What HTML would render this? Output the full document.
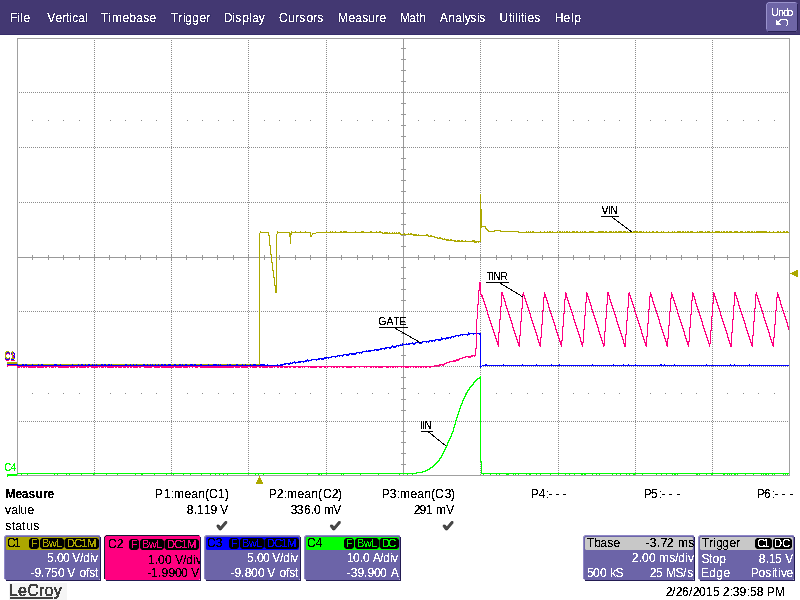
<!DOCTYPE html>
<html><head><meta charset="utf-8"><title>LeCroy</title>
<style>
html,body{margin:0;padding:0;background:#fff;}
body{width:800px;height:600px;overflow:hidden;position:relative;}
svg text{white-space:pre;font-kerning:none;}
</style></head><body>
<svg width="800" height="600" viewBox="0 0 800 600" style="position:absolute;left:0;top:0" font-family="'Liberation Sans', Arial, sans-serif"><rect x="0" y="0" width="800" height="600" fill="#ffffff"/><defs><filter id="k" x="-20%" y="-40%" width="140%" height="180%"><feComponentTransfer><feFuncA type="discrete" tableValues="0 0 1 1 1"/></feComponentTransfer></filter></defs><rect x="0" y="0" width="800" height="34" fill="#433872"/><rect x="0" y="34" width="800" height="1" fill="#362d6a"/><text x="10.000 17.125 20.125 23.375" y="22" font-size="12" fill="#2e2660" stroke="#2e2660" stroke-width="1.2" opacity="0.55" filter="url(#k)">File</text><text x="10.000 17.125 20.125 23.375" y="22" font-size="12" fill="#ffffff" filter="url(#k)">File</text><text x="47.125 55.375 62.125 66.000 69.125 72.125 78.125 85.125" y="22" font-size="12" fill="#2e2660" stroke="#2e2660" stroke-width="1.2" opacity="0.55" filter="url(#k)">Vertical</text><text x="47.125 55.375 62.125 66.000 69.125 72.125 78.125 85.125" y="22" font-size="12" fill="#ffffff" filter="url(#k)">Vertical</text><text x="100.625 108.125 112.000 122.375 129.125 136.125 143.125 149.375" y="22" font-size="12" fill="#2e2660" stroke="#2e2660" stroke-width="1.2" opacity="0.55" filter="url(#k)">Timebase</text><text x="100.625 108.125 112.000 122.375 129.125 136.125 143.125 149.375" y="22" font-size="12" fill="#ffffff" filter="url(#k)">Timebase</text><text x="170.625 178.125 183.125 185.125 192.125 199.375 206.125" y="22" font-size="12" fill="#2e2660" stroke="#2e2660" stroke-width="1.2" opacity="0.55" filter="url(#k)">Trigger</text><text x="170.625 178.125 183.125 185.125 192.125 199.375 206.125" y="22" font-size="12" fill="#ffffff" filter="url(#k)">Trigger</text><text x="224.000 232.125 235.125 242.125 249.125 252.125 258.625" y="22" font-size="12" fill="#2e2660" stroke="#2e2660" stroke-width="1.2" opacity="0.55" filter="url(#k)">Display</text><text x="224.000 232.125 235.125 242.125 249.125 252.125 258.625" y="22" font-size="12" fill="#ffffff" filter="url(#k)">Display</text><text x="279.000 288.125 295.125 299.125 306.375 313.125 317.125" y="22" font-size="12" fill="#2e2660" stroke="#2e2660" stroke-width="1.2" opacity="0.55" filter="url(#k)">Cursors</text><text x="279.000 288.125 295.125 299.125 306.375 313.125 317.125" y="22" font-size="12" fill="#ffffff" filter="url(#k)">Cursors</text><text x="338.000 348.375 355.125 362.125 368.125 375.125 379.375" y="22" font-size="12" fill="#2e2660" stroke="#2e2660" stroke-width="1.2" opacity="0.55" filter="url(#k)">Measure</text><text x="338.000 348.375 355.125 362.125 368.125 375.125 379.375" y="22" font-size="12" fill="#ffffff" filter="url(#k)">Measure</text><text x="400.000 409.125 416.000 419.125" y="22" font-size="12" fill="#2e2660" stroke="#2e2660" stroke-width="1.2" opacity="0.55" filter="url(#k)">Math</text><text x="400.000 409.125 416.000 419.125" y="22" font-size="12" fill="#ffffff" filter="url(#k)">Math</text><text x="439.625 448.125 455.125 462.125 464.625 470.125 477.125 479.125" y="22" font-size="12" fill="#2e2660" stroke="#2e2660" stroke-width="1.2" opacity="0.55" filter="url(#k)">Analysis</text><text x="439.625 448.125 455.125 462.125 464.625 470.125 477.125 479.125" y="22" font-size="12" fill="#ffffff" filter="url(#k)">Analysis</text><text x="499.375 509.000 512.125 515.125 518.125 521.000 524.125 527.375 534.125" y="22" font-size="12" fill="#2e2660" stroke="#2e2660" stroke-width="1.2" opacity="0.55" filter="url(#k)">Utilities</text><text x="499.375 509.000 512.125 515.125 518.125 521.000 524.125 527.375 534.125" y="22" font-size="12" fill="#ffffff" filter="url(#k)">Utilities</text><text x="555.000 563.375 571.125 574.125" y="22" font-size="12" fill="#2e2660" stroke="#2e2660" stroke-width="1.2" opacity="0.55" filter="url(#k)">Help</text><text x="555.000 563.375 571.125 574.125" y="22" font-size="12" fill="#ffffff" filter="url(#k)">Help</text><path d="M768 2h28l2 2v26l-2 2h-28l-2 -2v-26z" fill="#6e65a6"/><path d="M766.5 29V4.5l2 -2h27" fill="none" stroke="#9a93cc" stroke-width="1"/><path d="M768 31.5h28l1.5 -1.5V4" fill="none" stroke="#2a2356" stroke-width="1"/><text x="771.375 778.125 783.125 787.375" y="16" font-size="10" fill="#ffffff" filter="url(#k)">Undo</text><g filter="url(#k)"><path d="M778.3 22.7 L781.2 19.6 H785.6 Q787.6 19.6 787.6 21.8 V23.6 Q787.6 24.8 786.2 26.2" fill="none" stroke="#ffffff" stroke-width="1.15"/><path d="M775.9 19.6 L775.9 25 L781.2 25 Z" fill="#ffffff"/></g><path d="M94 40h1v1h-1zM94 42h1v1h-1zM94 44h1v1h-1zM94 46h1v1h-1zM94 48h1v1h-1zM94 50h1v1h-1zM94 52h1v1h-1zM94 54h1v1h-1zM94 56h1v1h-1zM94 58h1v1h-1zM94 60h1v1h-1zM94 62h1v1h-1zM94 64h1v1h-1zM94 66h1v1h-1zM94 68h1v1h-1zM94 70h1v1h-1zM94 72h1v1h-1zM94 74h1v1h-1zM94 76h1v1h-1zM94 78h1v1h-1zM94 80h1v1h-1zM94 82h1v1h-1zM94 84h1v1h-1zM94 86h1v1h-1zM94 88h1v1h-1zM94 90h1v1h-1zM94 92h1v1h-1zM94 94h1v1h-1zM94 96h1v1h-1zM94 98h1v1h-1zM94 100h1v1h-1zM94 102h1v1h-1zM94 104h1v1h-1zM94 106h1v1h-1zM94 108h1v1h-1zM94 110h1v1h-1zM94 112h1v1h-1zM94 114h1v1h-1zM94 116h1v1h-1zM94 118h1v1h-1zM94 120h1v1h-1zM94 122h1v1h-1zM94 124h1v1h-1zM94 126h1v1h-1zM94 128h1v1h-1zM94 130h1v1h-1zM94 132h1v1h-1zM94 134h1v1h-1zM94 136h1v1h-1zM94 138h1v1h-1zM94 140h1v1h-1zM94 142h1v1h-1zM94 144h1v1h-1zM94 146h1v1h-1zM94 148h1v1h-1zM94 150h1v1h-1zM94 152h1v1h-1zM94 154h1v1h-1zM94 156h1v1h-1zM94 158h1v1h-1zM94 160h1v1h-1zM94 162h1v1h-1zM94 164h1v1h-1zM94 166h1v1h-1zM94 168h1v1h-1zM94 170h1v1h-1zM94 172h1v1h-1zM94 174h1v1h-1zM94 176h1v1h-1zM94 178h1v1h-1zM94 180h1v1h-1zM94 182h1v1h-1zM94 184h1v1h-1zM94 186h1v1h-1zM94 188h1v1h-1zM94 190h1v1h-1zM94 192h1v1h-1zM94 194h1v1h-1zM94 196h1v1h-1zM94 198h1v1h-1zM94 200h1v1h-1zM94 202h1v1h-1zM94 204h1v1h-1zM94 206h1v1h-1zM94 208h1v1h-1zM94 210h1v1h-1zM94 212h1v1h-1zM94 214h1v1h-1zM94 216h1v1h-1zM94 218h1v1h-1zM94 220h1v1h-1zM94 222h1v1h-1zM94 224h1v1h-1zM94 226h1v1h-1zM94 228h1v1h-1zM94 230h1v1h-1zM94 232h1v1h-1zM94 234h1v1h-1zM94 236h1v1h-1zM94 238h1v1h-1zM94 240h1v1h-1zM94 242h1v1h-1zM94 244h1v1h-1zM94 246h1v1h-1zM94 248h1v1h-1zM94 250h1v1h-1zM94 252h1v1h-1zM94 254h1v1h-1zM94 256h1v1h-1zM94 258h1v1h-1zM94 260h1v1h-1zM94 262h1v1h-1zM94 264h1v1h-1zM94 266h1v1h-1zM94 268h1v1h-1zM94 270h1v1h-1zM94 272h1v1h-1zM94 274h1v1h-1zM94 276h1v1h-1zM94 278h1v1h-1zM94 280h1v1h-1zM94 282h1v1h-1zM94 284h1v1h-1zM94 286h1v1h-1zM94 288h1v1h-1zM94 290h1v1h-1zM94 292h1v1h-1zM94 294h1v1h-1zM94 296h1v1h-1zM94 298h1v1h-1zM94 300h1v1h-1zM94 302h1v1h-1zM94 304h1v1h-1zM94 306h1v1h-1zM94 308h1v1h-1zM94 310h1v1h-1zM94 312h1v1h-1zM94 314h1v1h-1zM94 316h1v1h-1zM94 318h1v1h-1zM94 320h1v1h-1zM94 322h1v1h-1zM94 324h1v1h-1zM94 326h1v1h-1zM94 328h1v1h-1zM94 330h1v1h-1zM94 332h1v1h-1zM94 334h1v1h-1zM94 336h1v1h-1zM94 338h1v1h-1zM94 340h1v1h-1zM94 342h1v1h-1zM94 344h1v1h-1zM94 346h1v1h-1zM94 348h1v1h-1zM94 350h1v1h-1zM94 352h1v1h-1zM94 354h1v1h-1zM94 356h1v1h-1zM94 358h1v1h-1zM94 360h1v1h-1zM94 362h1v1h-1zM94 364h1v1h-1zM94 366h1v1h-1zM94 368h1v1h-1zM94 370h1v1h-1zM94 372h1v1h-1zM94 374h1v1h-1zM94 376h1v1h-1zM94 378h1v1h-1zM94 380h1v1h-1zM94 382h1v1h-1zM94 384h1v1h-1zM94 386h1v1h-1zM94 388h1v1h-1zM94 390h1v1h-1zM94 392h1v1h-1zM94 394h1v1h-1zM94 396h1v1h-1zM94 398h1v1h-1zM94 400h1v1h-1zM94 402h1v1h-1zM94 404h1v1h-1zM94 406h1v1h-1zM94 408h1v1h-1zM94 410h1v1h-1zM94 412h1v1h-1zM94 414h1v1h-1zM94 416h1v1h-1zM94 418h1v1h-1zM94 420h1v1h-1zM94 422h1v1h-1zM94 424h1v1h-1zM94 426h1v1h-1zM94 428h1v1h-1zM94 430h1v1h-1zM94 432h1v1h-1zM94 434h1v1h-1zM94 436h1v1h-1zM94 438h1v1h-1zM94 440h1v1h-1zM94 442h1v1h-1zM94 444h1v1h-1zM94 446h1v1h-1zM94 448h1v1h-1zM94 450h1v1h-1zM94 452h1v1h-1zM94 454h1v1h-1zM94 456h1v1h-1zM94 458h1v1h-1zM94 460h1v1h-1zM94 462h1v1h-1zM94 464h1v1h-1zM94 466h1v1h-1zM94 468h1v1h-1zM94 470h1v1h-1zM94 472h1v1h-1zM94 474h1v1h-1zM171 40h1v1h-1zM171 42h1v1h-1zM171 44h1v1h-1zM171 46h1v1h-1zM171 48h1v1h-1zM171 50h1v1h-1zM171 52h1v1h-1zM171 54h1v1h-1zM171 56h1v1h-1zM171 58h1v1h-1zM171 60h1v1h-1zM171 62h1v1h-1zM171 64h1v1h-1zM171 66h1v1h-1zM171 68h1v1h-1zM171 70h1v1h-1zM171 72h1v1h-1zM171 74h1v1h-1zM171 76h1v1h-1zM171 78h1v1h-1zM171 80h1v1h-1zM171 82h1v1h-1zM171 84h1v1h-1zM171 86h1v1h-1zM171 88h1v1h-1zM171 90h1v1h-1zM171 92h1v1h-1zM171 94h1v1h-1zM171 96h1v1h-1zM171 98h1v1h-1zM171 100h1v1h-1zM171 102h1v1h-1zM171 104h1v1h-1zM171 106h1v1h-1zM171 108h1v1h-1zM171 110h1v1h-1zM171 112h1v1h-1zM171 114h1v1h-1zM171 116h1v1h-1zM171 118h1v1h-1zM171 120h1v1h-1zM171 122h1v1h-1zM171 124h1v1h-1zM171 126h1v1h-1zM171 128h1v1h-1zM171 130h1v1h-1zM171 132h1v1h-1zM171 134h1v1h-1zM171 136h1v1h-1zM171 138h1v1h-1zM171 140h1v1h-1zM171 142h1v1h-1zM171 144h1v1h-1zM171 146h1v1h-1zM171 148h1v1h-1zM171 150h1v1h-1zM171 152h1v1h-1zM171 154h1v1h-1zM171 156h1v1h-1zM171 158h1v1h-1zM171 160h1v1h-1zM171 162h1v1h-1zM171 164h1v1h-1zM171 166h1v1h-1zM171 168h1v1h-1zM171 170h1v1h-1zM171 172h1v1h-1zM171 174h1v1h-1zM171 176h1v1h-1zM171 178h1v1h-1zM171 180h1v1h-1zM171 182h1v1h-1zM171 184h1v1h-1zM171 186h1v1h-1zM171 188h1v1h-1zM171 190h1v1h-1zM171 192h1v1h-1zM171 194h1v1h-1zM171 196h1v1h-1zM171 198h1v1h-1zM171 200h1v1h-1zM171 202h1v1h-1zM171 204h1v1h-1zM171 206h1v1h-1zM171 208h1v1h-1zM171 210h1v1h-1zM171 212h1v1h-1zM171 214h1v1h-1zM171 216h1v1h-1zM171 218h1v1h-1zM171 220h1v1h-1zM171 222h1v1h-1zM171 224h1v1h-1zM171 226h1v1h-1zM171 228h1v1h-1zM171 230h1v1h-1zM171 232h1v1h-1zM171 234h1v1h-1zM171 236h1v1h-1zM171 238h1v1h-1zM171 240h1v1h-1zM171 242h1v1h-1zM171 244h1v1h-1zM171 246h1v1h-1zM171 248h1v1h-1zM171 250h1v1h-1zM171 252h1v1h-1zM171 254h1v1h-1zM171 256h1v1h-1zM171 258h1v1h-1zM171 260h1v1h-1zM171 262h1v1h-1zM171 264h1v1h-1zM171 266h1v1h-1zM171 268h1v1h-1zM171 270h1v1h-1zM171 272h1v1h-1zM171 274h1v1h-1zM171 276h1v1h-1zM171 278h1v1h-1zM171 280h1v1h-1zM171 282h1v1h-1zM171 284h1v1h-1zM171 286h1v1h-1zM171 288h1v1h-1zM171 290h1v1h-1zM171 292h1v1h-1zM171 294h1v1h-1zM171 296h1v1h-1zM171 298h1v1h-1zM171 300h1v1h-1zM171 302h1v1h-1zM171 304h1v1h-1zM171 306h1v1h-1zM171 308h1v1h-1zM171 310h1v1h-1zM171 312h1v1h-1zM171 314h1v1h-1zM171 316h1v1h-1zM171 318h1v1h-1zM171 320h1v1h-1zM171 322h1v1h-1zM171 324h1v1h-1zM171 326h1v1h-1zM171 328h1v1h-1zM171 330h1v1h-1zM171 332h1v1h-1zM171 334h1v1h-1zM171 336h1v1h-1zM171 338h1v1h-1zM171 340h1v1h-1zM171 342h1v1h-1zM171 344h1v1h-1zM171 346h1v1h-1zM171 348h1v1h-1zM171 350h1v1h-1zM171 352h1v1h-1zM171 354h1v1h-1zM171 356h1v1h-1zM171 358h1v1h-1zM171 360h1v1h-1zM171 362h1v1h-1zM171 364h1v1h-1zM171 366h1v1h-1zM171 368h1v1h-1zM171 370h1v1h-1zM171 372h1v1h-1zM171 374h1v1h-1zM171 376h1v1h-1zM171 378h1v1h-1zM171 380h1v1h-1zM171 382h1v1h-1zM171 384h1v1h-1zM171 386h1v1h-1zM171 388h1v1h-1zM171 390h1v1h-1zM171 392h1v1h-1zM171 394h1v1h-1zM171 396h1v1h-1zM171 398h1v1h-1zM171 400h1v1h-1zM171 402h1v1h-1zM171 404h1v1h-1zM171 406h1v1h-1zM171 408h1v1h-1zM171 410h1v1h-1zM171 412h1v1h-1zM171 414h1v1h-1zM171 416h1v1h-1zM171 418h1v1h-1zM171 420h1v1h-1zM171 422h1v1h-1zM171 424h1v1h-1zM171 426h1v1h-1zM171 428h1v1h-1zM171 430h1v1h-1zM171 432h1v1h-1zM171 434h1v1h-1zM171 436h1v1h-1zM171 438h1v1h-1zM171 440h1v1h-1zM171 442h1v1h-1zM171 444h1v1h-1zM171 446h1v1h-1zM171 448h1v1h-1zM171 450h1v1h-1zM171 452h1v1h-1zM171 454h1v1h-1zM171 456h1v1h-1zM171 458h1v1h-1zM171 460h1v1h-1zM171 462h1v1h-1zM171 464h1v1h-1zM171 466h1v1h-1zM171 468h1v1h-1zM171 470h1v1h-1zM171 472h1v1h-1zM171 474h1v1h-1zM248 40h1v1h-1zM248 42h1v1h-1zM248 44h1v1h-1zM248 46h1v1h-1zM248 48h1v1h-1zM248 50h1v1h-1zM248 52h1v1h-1zM248 54h1v1h-1zM248 56h1v1h-1zM248 58h1v1h-1zM248 60h1v1h-1zM248 62h1v1h-1zM248 64h1v1h-1zM248 66h1v1h-1zM248 68h1v1h-1zM248 70h1v1h-1zM248 72h1v1h-1zM248 74h1v1h-1zM248 76h1v1h-1zM248 78h1v1h-1zM248 80h1v1h-1zM248 82h1v1h-1zM248 84h1v1h-1zM248 86h1v1h-1zM248 88h1v1h-1zM248 90h1v1h-1zM248 92h1v1h-1zM248 94h1v1h-1zM248 96h1v1h-1zM248 98h1v1h-1zM248 100h1v1h-1zM248 102h1v1h-1zM248 104h1v1h-1zM248 106h1v1h-1zM248 108h1v1h-1zM248 110h1v1h-1zM248 112h1v1h-1zM248 114h1v1h-1zM248 116h1v1h-1zM248 118h1v1h-1zM248 120h1v1h-1zM248 122h1v1h-1zM248 124h1v1h-1zM248 126h1v1h-1zM248 128h1v1h-1zM248 130h1v1h-1zM248 132h1v1h-1zM248 134h1v1h-1zM248 136h1v1h-1zM248 138h1v1h-1zM248 140h1v1h-1zM248 142h1v1h-1zM248 144h1v1h-1zM248 146h1v1h-1zM248 148h1v1h-1zM248 150h1v1h-1zM248 152h1v1h-1zM248 154h1v1h-1zM248 156h1v1h-1zM248 158h1v1h-1zM248 160h1v1h-1zM248 162h1v1h-1zM248 164h1v1h-1zM248 166h1v1h-1zM248 168h1v1h-1zM248 170h1v1h-1zM248 172h1v1h-1zM248 174h1v1h-1zM248 176h1v1h-1zM248 178h1v1h-1zM248 180h1v1h-1zM248 182h1v1h-1zM248 184h1v1h-1zM248 186h1v1h-1zM248 188h1v1h-1zM248 190h1v1h-1zM248 192h1v1h-1zM248 194h1v1h-1zM248 196h1v1h-1zM248 198h1v1h-1zM248 200h1v1h-1zM248 202h1v1h-1zM248 204h1v1h-1zM248 206h1v1h-1zM248 208h1v1h-1zM248 210h1v1h-1zM248 212h1v1h-1zM248 214h1v1h-1zM248 216h1v1h-1zM248 218h1v1h-1zM248 220h1v1h-1zM248 222h1v1h-1zM248 224h1v1h-1zM248 226h1v1h-1zM248 228h1v1h-1zM248 230h1v1h-1zM248 232h1v1h-1zM248 234h1v1h-1zM248 236h1v1h-1zM248 238h1v1h-1zM248 240h1v1h-1zM248 242h1v1h-1zM248 244h1v1h-1zM248 246h1v1h-1zM248 248h1v1h-1zM248 250h1v1h-1zM248 252h1v1h-1zM248 254h1v1h-1zM248 256h1v1h-1zM248 258h1v1h-1zM248 260h1v1h-1zM248 262h1v1h-1zM248 264h1v1h-1zM248 266h1v1h-1zM248 268h1v1h-1zM248 270h1v1h-1zM248 272h1v1h-1zM248 274h1v1h-1zM248 276h1v1h-1zM248 278h1v1h-1zM248 280h1v1h-1zM248 282h1v1h-1zM248 284h1v1h-1zM248 286h1v1h-1zM248 288h1v1h-1zM248 290h1v1h-1zM248 292h1v1h-1zM248 294h1v1h-1zM248 296h1v1h-1zM248 298h1v1h-1zM248 300h1v1h-1zM248 302h1v1h-1zM248 304h1v1h-1zM248 306h1v1h-1zM248 308h1v1h-1zM248 310h1v1h-1zM248 312h1v1h-1zM248 314h1v1h-1zM248 316h1v1h-1zM248 318h1v1h-1zM248 320h1v1h-1zM248 322h1v1h-1zM248 324h1v1h-1zM248 326h1v1h-1zM248 328h1v1h-1zM248 330h1v1h-1zM248 332h1v1h-1zM248 334h1v1h-1zM248 336h1v1h-1zM248 338h1v1h-1zM248 340h1v1h-1zM248 342h1v1h-1zM248 344h1v1h-1zM248 346h1v1h-1zM248 348h1v1h-1zM248 350h1v1h-1zM248 352h1v1h-1zM248 354h1v1h-1zM248 356h1v1h-1zM248 358h1v1h-1zM248 360h1v1h-1zM248 362h1v1h-1zM248 364h1v1h-1zM248 366h1v1h-1zM248 368h1v1h-1zM248 370h1v1h-1zM248 372h1v1h-1zM248 374h1v1h-1zM248 376h1v1h-1zM248 378h1v1h-1zM248 380h1v1h-1zM248 382h1v1h-1zM248 384h1v1h-1zM248 386h1v1h-1zM248 388h1v1h-1zM248 390h1v1h-1zM248 392h1v1h-1zM248 394h1v1h-1zM248 396h1v1h-1zM248 398h1v1h-1zM248 400h1v1h-1zM248 402h1v1h-1zM248 404h1v1h-1zM248 406h1v1h-1zM248 408h1v1h-1zM248 410h1v1h-1zM248 412h1v1h-1zM248 414h1v1h-1zM248 416h1v1h-1zM248 418h1v1h-1zM248 420h1v1h-1zM248 422h1v1h-1zM248 424h1v1h-1zM248 426h1v1h-1zM248 428h1v1h-1zM248 430h1v1h-1zM248 432h1v1h-1zM248 434h1v1h-1zM248 436h1v1h-1zM248 438h1v1h-1zM248 440h1v1h-1zM248 442h1v1h-1zM248 444h1v1h-1zM248 446h1v1h-1zM248 448h1v1h-1zM248 450h1v1h-1zM248 452h1v1h-1zM248 454h1v1h-1zM248 456h1v1h-1zM248 458h1v1h-1zM248 460h1v1h-1zM248 462h1v1h-1zM248 464h1v1h-1zM248 466h1v1h-1zM248 468h1v1h-1zM248 470h1v1h-1zM248 472h1v1h-1zM248 474h1v1h-1zM326 40h1v1h-1zM326 42h1v1h-1zM326 44h1v1h-1zM326 46h1v1h-1zM326 48h1v1h-1zM326 50h1v1h-1zM326 52h1v1h-1zM326 54h1v1h-1zM326 56h1v1h-1zM326 58h1v1h-1zM326 60h1v1h-1zM326 62h1v1h-1zM326 64h1v1h-1zM326 66h1v1h-1zM326 68h1v1h-1zM326 70h1v1h-1zM326 72h1v1h-1zM326 74h1v1h-1zM326 76h1v1h-1zM326 78h1v1h-1zM326 80h1v1h-1zM326 82h1v1h-1zM326 84h1v1h-1zM326 86h1v1h-1zM326 88h1v1h-1zM326 90h1v1h-1zM326 92h1v1h-1zM326 94h1v1h-1zM326 96h1v1h-1zM326 98h1v1h-1zM326 100h1v1h-1zM326 102h1v1h-1zM326 104h1v1h-1zM326 106h1v1h-1zM326 108h1v1h-1zM326 110h1v1h-1zM326 112h1v1h-1zM326 114h1v1h-1zM326 116h1v1h-1zM326 118h1v1h-1zM326 120h1v1h-1zM326 122h1v1h-1zM326 124h1v1h-1zM326 126h1v1h-1zM326 128h1v1h-1zM326 130h1v1h-1zM326 132h1v1h-1zM326 134h1v1h-1zM326 136h1v1h-1zM326 138h1v1h-1zM326 140h1v1h-1zM326 142h1v1h-1zM326 144h1v1h-1zM326 146h1v1h-1zM326 148h1v1h-1zM326 150h1v1h-1zM326 152h1v1h-1zM326 154h1v1h-1zM326 156h1v1h-1zM326 158h1v1h-1zM326 160h1v1h-1zM326 162h1v1h-1zM326 164h1v1h-1zM326 166h1v1h-1zM326 168h1v1h-1zM326 170h1v1h-1zM326 172h1v1h-1zM326 174h1v1h-1zM326 176h1v1h-1zM326 178h1v1h-1zM326 180h1v1h-1zM326 182h1v1h-1zM326 184h1v1h-1zM326 186h1v1h-1zM326 188h1v1h-1zM326 190h1v1h-1zM326 192h1v1h-1zM326 194h1v1h-1zM326 196h1v1h-1zM326 198h1v1h-1zM326 200h1v1h-1zM326 202h1v1h-1zM326 204h1v1h-1zM326 206h1v1h-1zM326 208h1v1h-1zM326 210h1v1h-1zM326 212h1v1h-1zM326 214h1v1h-1zM326 216h1v1h-1zM326 218h1v1h-1zM326 220h1v1h-1zM326 222h1v1h-1zM326 224h1v1h-1zM326 226h1v1h-1zM326 228h1v1h-1zM326 230h1v1h-1zM326 232h1v1h-1zM326 234h1v1h-1zM326 236h1v1h-1zM326 238h1v1h-1zM326 240h1v1h-1zM326 242h1v1h-1zM326 244h1v1h-1zM326 246h1v1h-1zM326 248h1v1h-1zM326 250h1v1h-1zM326 252h1v1h-1zM326 254h1v1h-1zM326 256h1v1h-1zM326 258h1v1h-1zM326 260h1v1h-1zM326 262h1v1h-1zM326 264h1v1h-1zM326 266h1v1h-1zM326 268h1v1h-1zM326 270h1v1h-1zM326 272h1v1h-1zM326 274h1v1h-1zM326 276h1v1h-1zM326 278h1v1h-1zM326 280h1v1h-1zM326 282h1v1h-1zM326 284h1v1h-1zM326 286h1v1h-1zM326 288h1v1h-1zM326 290h1v1h-1zM326 292h1v1h-1zM326 294h1v1h-1zM326 296h1v1h-1zM326 298h1v1h-1zM326 300h1v1h-1zM326 302h1v1h-1zM326 304h1v1h-1zM326 306h1v1h-1zM326 308h1v1h-1zM326 310h1v1h-1zM326 312h1v1h-1zM326 314h1v1h-1zM326 316h1v1h-1zM326 318h1v1h-1zM326 320h1v1h-1zM326 322h1v1h-1zM326 324h1v1h-1zM326 326h1v1h-1zM326 328h1v1h-1zM326 330h1v1h-1zM326 332h1v1h-1zM326 334h1v1h-1zM326 336h1v1h-1zM326 338h1v1h-1zM326 340h1v1h-1zM326 342h1v1h-1zM326 344h1v1h-1zM326 346h1v1h-1zM326 348h1v1h-1zM326 350h1v1h-1zM326 352h1v1h-1zM326 354h1v1h-1zM326 356h1v1h-1zM326 358h1v1h-1zM326 360h1v1h-1zM326 362h1v1h-1zM326 364h1v1h-1zM326 366h1v1h-1zM326 368h1v1h-1zM326 370h1v1h-1zM326 372h1v1h-1zM326 374h1v1h-1zM326 376h1v1h-1zM326 378h1v1h-1zM326 380h1v1h-1zM326 382h1v1h-1zM326 384h1v1h-1zM326 386h1v1h-1zM326 388h1v1h-1zM326 390h1v1h-1zM326 392h1v1h-1zM326 394h1v1h-1zM326 396h1v1h-1zM326 398h1v1h-1zM326 400h1v1h-1zM326 402h1v1h-1zM326 404h1v1h-1zM326 406h1v1h-1zM326 408h1v1h-1zM326 410h1v1h-1zM326 412h1v1h-1zM326 414h1v1h-1zM326 416h1v1h-1zM326 418h1v1h-1zM326 420h1v1h-1zM326 422h1v1h-1zM326 424h1v1h-1zM326 426h1v1h-1zM326 428h1v1h-1zM326 430h1v1h-1zM326 432h1v1h-1zM326 434h1v1h-1zM326 436h1v1h-1zM326 438h1v1h-1zM326 440h1v1h-1zM326 442h1v1h-1zM326 444h1v1h-1zM326 446h1v1h-1zM326 448h1v1h-1zM326 450h1v1h-1zM326 452h1v1h-1zM326 454h1v1h-1zM326 456h1v1h-1zM326 458h1v1h-1zM326 460h1v1h-1zM326 462h1v1h-1zM326 464h1v1h-1zM326 466h1v1h-1zM326 468h1v1h-1zM326 470h1v1h-1zM326 472h1v1h-1zM326 474h1v1h-1zM480 40h1v1h-1zM480 42h1v1h-1zM480 44h1v1h-1zM480 46h1v1h-1zM480 48h1v1h-1zM480 50h1v1h-1zM480 52h1v1h-1zM480 54h1v1h-1zM480 56h1v1h-1zM480 58h1v1h-1zM480 60h1v1h-1zM480 62h1v1h-1zM480 64h1v1h-1zM480 66h1v1h-1zM480 68h1v1h-1zM480 70h1v1h-1zM480 72h1v1h-1zM480 74h1v1h-1zM480 76h1v1h-1zM480 78h1v1h-1zM480 80h1v1h-1zM480 82h1v1h-1zM480 84h1v1h-1zM480 86h1v1h-1zM480 88h1v1h-1zM480 90h1v1h-1zM480 92h1v1h-1zM480 94h1v1h-1zM480 96h1v1h-1zM480 98h1v1h-1zM480 100h1v1h-1zM480 102h1v1h-1zM480 104h1v1h-1zM480 106h1v1h-1zM480 108h1v1h-1zM480 110h1v1h-1zM480 112h1v1h-1zM480 114h1v1h-1zM480 116h1v1h-1zM480 118h1v1h-1zM480 120h1v1h-1zM480 122h1v1h-1zM480 124h1v1h-1zM480 126h1v1h-1zM480 128h1v1h-1zM480 130h1v1h-1zM480 132h1v1h-1zM480 134h1v1h-1zM480 136h1v1h-1zM480 138h1v1h-1zM480 140h1v1h-1zM480 142h1v1h-1zM480 144h1v1h-1zM480 146h1v1h-1zM480 148h1v1h-1zM480 150h1v1h-1zM480 152h1v1h-1zM480 154h1v1h-1zM480 156h1v1h-1zM480 158h1v1h-1zM480 160h1v1h-1zM480 162h1v1h-1zM480 164h1v1h-1zM480 166h1v1h-1zM480 168h1v1h-1zM480 170h1v1h-1zM480 172h1v1h-1zM480 174h1v1h-1zM480 176h1v1h-1zM480 178h1v1h-1zM480 180h1v1h-1zM480 182h1v1h-1zM480 184h1v1h-1zM480 186h1v1h-1zM480 188h1v1h-1zM480 190h1v1h-1zM480 192h1v1h-1zM480 194h1v1h-1zM480 196h1v1h-1zM480 198h1v1h-1zM480 200h1v1h-1zM480 202h1v1h-1zM480 204h1v1h-1zM480 206h1v1h-1zM480 208h1v1h-1zM480 210h1v1h-1zM480 212h1v1h-1zM480 214h1v1h-1zM480 216h1v1h-1zM480 218h1v1h-1zM480 220h1v1h-1zM480 222h1v1h-1zM480 224h1v1h-1zM480 226h1v1h-1zM480 228h1v1h-1zM480 230h1v1h-1zM480 232h1v1h-1zM480 234h1v1h-1zM480 236h1v1h-1zM480 238h1v1h-1zM480 240h1v1h-1zM480 242h1v1h-1zM480 244h1v1h-1zM480 246h1v1h-1zM480 248h1v1h-1zM480 250h1v1h-1zM480 252h1v1h-1zM480 254h1v1h-1zM480 256h1v1h-1zM480 258h1v1h-1zM480 260h1v1h-1zM480 262h1v1h-1zM480 264h1v1h-1zM480 266h1v1h-1zM480 268h1v1h-1zM480 270h1v1h-1zM480 272h1v1h-1zM480 274h1v1h-1zM480 276h1v1h-1zM480 278h1v1h-1zM480 280h1v1h-1zM480 282h1v1h-1zM480 284h1v1h-1zM480 286h1v1h-1zM480 288h1v1h-1zM480 290h1v1h-1zM480 292h1v1h-1zM480 294h1v1h-1zM480 296h1v1h-1zM480 298h1v1h-1zM480 300h1v1h-1zM480 302h1v1h-1zM480 304h1v1h-1zM480 306h1v1h-1zM480 308h1v1h-1zM480 310h1v1h-1zM480 312h1v1h-1zM480 314h1v1h-1zM480 316h1v1h-1zM480 318h1v1h-1zM480 320h1v1h-1zM480 322h1v1h-1zM480 324h1v1h-1zM480 326h1v1h-1zM480 328h1v1h-1zM480 330h1v1h-1zM480 332h1v1h-1zM480 334h1v1h-1zM480 336h1v1h-1zM480 338h1v1h-1zM480 340h1v1h-1zM480 342h1v1h-1zM480 344h1v1h-1zM480 346h1v1h-1zM480 348h1v1h-1zM480 350h1v1h-1zM480 352h1v1h-1zM480 354h1v1h-1zM480 356h1v1h-1zM480 358h1v1h-1zM480 360h1v1h-1zM480 362h1v1h-1zM480 364h1v1h-1zM480 366h1v1h-1zM480 368h1v1h-1zM480 370h1v1h-1zM480 372h1v1h-1zM480 374h1v1h-1zM480 376h1v1h-1zM480 378h1v1h-1zM480 380h1v1h-1zM480 382h1v1h-1zM480 384h1v1h-1zM480 386h1v1h-1zM480 388h1v1h-1zM480 390h1v1h-1zM480 392h1v1h-1zM480 394h1v1h-1zM480 396h1v1h-1zM480 398h1v1h-1zM480 400h1v1h-1zM480 402h1v1h-1zM480 404h1v1h-1zM480 406h1v1h-1zM480 408h1v1h-1zM480 410h1v1h-1zM480 412h1v1h-1zM480 414h1v1h-1zM480 416h1v1h-1zM480 418h1v1h-1zM480 420h1v1h-1zM480 422h1v1h-1zM480 424h1v1h-1zM480 426h1v1h-1zM480 428h1v1h-1zM480 430h1v1h-1zM480 432h1v1h-1zM480 434h1v1h-1zM480 436h1v1h-1zM480 438h1v1h-1zM480 440h1v1h-1zM480 442h1v1h-1zM480 444h1v1h-1zM480 446h1v1h-1zM480 448h1v1h-1zM480 450h1v1h-1zM480 452h1v1h-1zM480 454h1v1h-1zM480 456h1v1h-1zM480 458h1v1h-1zM480 460h1v1h-1zM480 462h1v1h-1zM480 464h1v1h-1zM480 466h1v1h-1zM480 468h1v1h-1zM480 470h1v1h-1zM480 472h1v1h-1zM480 474h1v1h-1zM558 40h1v1h-1zM558 42h1v1h-1zM558 44h1v1h-1zM558 46h1v1h-1zM558 48h1v1h-1zM558 50h1v1h-1zM558 52h1v1h-1zM558 54h1v1h-1zM558 56h1v1h-1zM558 58h1v1h-1zM558 60h1v1h-1zM558 62h1v1h-1zM558 64h1v1h-1zM558 66h1v1h-1zM558 68h1v1h-1zM558 70h1v1h-1zM558 72h1v1h-1zM558 74h1v1h-1zM558 76h1v1h-1zM558 78h1v1h-1zM558 80h1v1h-1zM558 82h1v1h-1zM558 84h1v1h-1zM558 86h1v1h-1zM558 88h1v1h-1zM558 90h1v1h-1zM558 92h1v1h-1zM558 94h1v1h-1zM558 96h1v1h-1zM558 98h1v1h-1zM558 100h1v1h-1zM558 102h1v1h-1zM558 104h1v1h-1zM558 106h1v1h-1zM558 108h1v1h-1zM558 110h1v1h-1zM558 112h1v1h-1zM558 114h1v1h-1zM558 116h1v1h-1zM558 118h1v1h-1zM558 120h1v1h-1zM558 122h1v1h-1zM558 124h1v1h-1zM558 126h1v1h-1zM558 128h1v1h-1zM558 130h1v1h-1zM558 132h1v1h-1zM558 134h1v1h-1zM558 136h1v1h-1zM558 138h1v1h-1zM558 140h1v1h-1zM558 142h1v1h-1zM558 144h1v1h-1zM558 146h1v1h-1zM558 148h1v1h-1zM558 150h1v1h-1zM558 152h1v1h-1zM558 154h1v1h-1zM558 156h1v1h-1zM558 158h1v1h-1zM558 160h1v1h-1zM558 162h1v1h-1zM558 164h1v1h-1zM558 166h1v1h-1zM558 168h1v1h-1zM558 170h1v1h-1zM558 172h1v1h-1zM558 174h1v1h-1zM558 176h1v1h-1zM558 178h1v1h-1zM558 180h1v1h-1zM558 182h1v1h-1zM558 184h1v1h-1zM558 186h1v1h-1zM558 188h1v1h-1zM558 190h1v1h-1zM558 192h1v1h-1zM558 194h1v1h-1zM558 196h1v1h-1zM558 198h1v1h-1zM558 200h1v1h-1zM558 202h1v1h-1zM558 204h1v1h-1zM558 206h1v1h-1zM558 208h1v1h-1zM558 210h1v1h-1zM558 212h1v1h-1zM558 214h1v1h-1zM558 216h1v1h-1zM558 218h1v1h-1zM558 220h1v1h-1zM558 222h1v1h-1zM558 224h1v1h-1zM558 226h1v1h-1zM558 228h1v1h-1zM558 230h1v1h-1zM558 232h1v1h-1zM558 234h1v1h-1zM558 236h1v1h-1zM558 238h1v1h-1zM558 240h1v1h-1zM558 242h1v1h-1zM558 244h1v1h-1zM558 246h1v1h-1zM558 248h1v1h-1zM558 250h1v1h-1zM558 252h1v1h-1zM558 254h1v1h-1zM558 256h1v1h-1zM558 258h1v1h-1zM558 260h1v1h-1zM558 262h1v1h-1zM558 264h1v1h-1zM558 266h1v1h-1zM558 268h1v1h-1zM558 270h1v1h-1zM558 272h1v1h-1zM558 274h1v1h-1zM558 276h1v1h-1zM558 278h1v1h-1zM558 280h1v1h-1zM558 282h1v1h-1zM558 284h1v1h-1zM558 286h1v1h-1zM558 288h1v1h-1zM558 290h1v1h-1zM558 292h1v1h-1zM558 294h1v1h-1zM558 296h1v1h-1zM558 298h1v1h-1zM558 300h1v1h-1zM558 302h1v1h-1zM558 304h1v1h-1zM558 306h1v1h-1zM558 308h1v1h-1zM558 310h1v1h-1zM558 312h1v1h-1zM558 314h1v1h-1zM558 316h1v1h-1zM558 318h1v1h-1zM558 320h1v1h-1zM558 322h1v1h-1zM558 324h1v1h-1zM558 326h1v1h-1zM558 328h1v1h-1zM558 330h1v1h-1zM558 332h1v1h-1zM558 334h1v1h-1zM558 336h1v1h-1zM558 338h1v1h-1zM558 340h1v1h-1zM558 342h1v1h-1zM558 344h1v1h-1zM558 346h1v1h-1zM558 348h1v1h-1zM558 350h1v1h-1zM558 352h1v1h-1zM558 354h1v1h-1zM558 356h1v1h-1zM558 358h1v1h-1zM558 360h1v1h-1zM558 362h1v1h-1zM558 364h1v1h-1zM558 366h1v1h-1zM558 368h1v1h-1zM558 370h1v1h-1zM558 372h1v1h-1zM558 374h1v1h-1zM558 376h1v1h-1zM558 378h1v1h-1zM558 380h1v1h-1zM558 382h1v1h-1zM558 384h1v1h-1zM558 386h1v1h-1zM558 388h1v1h-1zM558 390h1v1h-1zM558 392h1v1h-1zM558 394h1v1h-1zM558 396h1v1h-1zM558 398h1v1h-1zM558 400h1v1h-1zM558 402h1v1h-1zM558 404h1v1h-1zM558 406h1v1h-1zM558 408h1v1h-1zM558 410h1v1h-1zM558 412h1v1h-1zM558 414h1v1h-1zM558 416h1v1h-1zM558 418h1v1h-1zM558 420h1v1h-1zM558 422h1v1h-1zM558 424h1v1h-1zM558 426h1v1h-1zM558 428h1v1h-1zM558 430h1v1h-1zM558 432h1v1h-1zM558 434h1v1h-1zM558 436h1v1h-1zM558 438h1v1h-1zM558 440h1v1h-1zM558 442h1v1h-1zM558 444h1v1h-1zM558 446h1v1h-1zM558 448h1v1h-1zM558 450h1v1h-1zM558 452h1v1h-1zM558 454h1v1h-1zM558 456h1v1h-1zM558 458h1v1h-1zM558 460h1v1h-1zM558 462h1v1h-1zM558 464h1v1h-1zM558 466h1v1h-1zM558 468h1v1h-1zM558 470h1v1h-1zM558 472h1v1h-1zM558 474h1v1h-1zM635 40h1v1h-1zM635 42h1v1h-1zM635 44h1v1h-1zM635 46h1v1h-1zM635 48h1v1h-1zM635 50h1v1h-1zM635 52h1v1h-1zM635 54h1v1h-1zM635 56h1v1h-1zM635 58h1v1h-1zM635 60h1v1h-1zM635 62h1v1h-1zM635 64h1v1h-1zM635 66h1v1h-1zM635 68h1v1h-1zM635 70h1v1h-1zM635 72h1v1h-1zM635 74h1v1h-1zM635 76h1v1h-1zM635 78h1v1h-1zM635 80h1v1h-1zM635 82h1v1h-1zM635 84h1v1h-1zM635 86h1v1h-1zM635 88h1v1h-1zM635 90h1v1h-1zM635 92h1v1h-1zM635 94h1v1h-1zM635 96h1v1h-1zM635 98h1v1h-1zM635 100h1v1h-1zM635 102h1v1h-1zM635 104h1v1h-1zM635 106h1v1h-1zM635 108h1v1h-1zM635 110h1v1h-1zM635 112h1v1h-1zM635 114h1v1h-1zM635 116h1v1h-1zM635 118h1v1h-1zM635 120h1v1h-1zM635 122h1v1h-1zM635 124h1v1h-1zM635 126h1v1h-1zM635 128h1v1h-1zM635 130h1v1h-1zM635 132h1v1h-1zM635 134h1v1h-1zM635 136h1v1h-1zM635 138h1v1h-1zM635 140h1v1h-1zM635 142h1v1h-1zM635 144h1v1h-1zM635 146h1v1h-1zM635 148h1v1h-1zM635 150h1v1h-1zM635 152h1v1h-1zM635 154h1v1h-1zM635 156h1v1h-1zM635 158h1v1h-1zM635 160h1v1h-1zM635 162h1v1h-1zM635 164h1v1h-1zM635 166h1v1h-1zM635 168h1v1h-1zM635 170h1v1h-1zM635 172h1v1h-1zM635 174h1v1h-1zM635 176h1v1h-1zM635 178h1v1h-1zM635 180h1v1h-1zM635 182h1v1h-1zM635 184h1v1h-1zM635 186h1v1h-1zM635 188h1v1h-1zM635 190h1v1h-1zM635 192h1v1h-1zM635 194h1v1h-1zM635 196h1v1h-1zM635 198h1v1h-1zM635 200h1v1h-1zM635 202h1v1h-1zM635 204h1v1h-1zM635 206h1v1h-1zM635 208h1v1h-1zM635 210h1v1h-1zM635 212h1v1h-1zM635 214h1v1h-1zM635 216h1v1h-1zM635 218h1v1h-1zM635 220h1v1h-1zM635 222h1v1h-1zM635 224h1v1h-1zM635 226h1v1h-1zM635 228h1v1h-1zM635 230h1v1h-1zM635 232h1v1h-1zM635 234h1v1h-1zM635 236h1v1h-1zM635 238h1v1h-1zM635 240h1v1h-1zM635 242h1v1h-1zM635 244h1v1h-1zM635 246h1v1h-1zM635 248h1v1h-1zM635 250h1v1h-1zM635 252h1v1h-1zM635 254h1v1h-1zM635 256h1v1h-1zM635 258h1v1h-1zM635 260h1v1h-1zM635 262h1v1h-1zM635 264h1v1h-1zM635 266h1v1h-1zM635 268h1v1h-1zM635 270h1v1h-1zM635 272h1v1h-1zM635 274h1v1h-1zM635 276h1v1h-1zM635 278h1v1h-1zM635 280h1v1h-1zM635 282h1v1h-1zM635 284h1v1h-1zM635 286h1v1h-1zM635 288h1v1h-1zM635 290h1v1h-1zM635 292h1v1h-1zM635 294h1v1h-1zM635 296h1v1h-1zM635 298h1v1h-1zM635 300h1v1h-1zM635 302h1v1h-1zM635 304h1v1h-1zM635 306h1v1h-1zM635 308h1v1h-1zM635 310h1v1h-1zM635 312h1v1h-1zM635 314h1v1h-1zM635 316h1v1h-1zM635 318h1v1h-1zM635 320h1v1h-1zM635 322h1v1h-1zM635 324h1v1h-1zM635 326h1v1h-1zM635 328h1v1h-1zM635 330h1v1h-1zM635 332h1v1h-1zM635 334h1v1h-1zM635 336h1v1h-1zM635 338h1v1h-1zM635 340h1v1h-1zM635 342h1v1h-1zM635 344h1v1h-1zM635 346h1v1h-1zM635 348h1v1h-1zM635 350h1v1h-1zM635 352h1v1h-1zM635 354h1v1h-1zM635 356h1v1h-1zM635 358h1v1h-1zM635 360h1v1h-1zM635 362h1v1h-1zM635 364h1v1h-1zM635 366h1v1h-1zM635 368h1v1h-1zM635 370h1v1h-1zM635 372h1v1h-1zM635 374h1v1h-1zM635 376h1v1h-1zM635 378h1v1h-1zM635 380h1v1h-1zM635 382h1v1h-1zM635 384h1v1h-1zM635 386h1v1h-1zM635 388h1v1h-1zM635 390h1v1h-1zM635 392h1v1h-1zM635 394h1v1h-1zM635 396h1v1h-1zM635 398h1v1h-1zM635 400h1v1h-1zM635 402h1v1h-1zM635 404h1v1h-1zM635 406h1v1h-1zM635 408h1v1h-1zM635 410h1v1h-1zM635 412h1v1h-1zM635 414h1v1h-1zM635 416h1v1h-1zM635 418h1v1h-1zM635 420h1v1h-1zM635 422h1v1h-1zM635 424h1v1h-1zM635 426h1v1h-1zM635 428h1v1h-1zM635 430h1v1h-1zM635 432h1v1h-1zM635 434h1v1h-1zM635 436h1v1h-1zM635 438h1v1h-1zM635 440h1v1h-1zM635 442h1v1h-1zM635 444h1v1h-1zM635 446h1v1h-1zM635 448h1v1h-1zM635 450h1v1h-1zM635 452h1v1h-1zM635 454h1v1h-1zM635 456h1v1h-1zM635 458h1v1h-1zM635 460h1v1h-1zM635 462h1v1h-1zM635 464h1v1h-1zM635 466h1v1h-1zM635 468h1v1h-1zM635 470h1v1h-1zM635 472h1v1h-1zM635 474h1v1h-1zM712 40h1v1h-1zM712 42h1v1h-1zM712 44h1v1h-1zM712 46h1v1h-1zM712 48h1v1h-1zM712 50h1v1h-1zM712 52h1v1h-1zM712 54h1v1h-1zM712 56h1v1h-1zM712 58h1v1h-1zM712 60h1v1h-1zM712 62h1v1h-1zM712 64h1v1h-1zM712 66h1v1h-1zM712 68h1v1h-1zM712 70h1v1h-1zM712 72h1v1h-1zM712 74h1v1h-1zM712 76h1v1h-1zM712 78h1v1h-1zM712 80h1v1h-1zM712 82h1v1h-1zM712 84h1v1h-1zM712 86h1v1h-1zM712 88h1v1h-1zM712 90h1v1h-1zM712 92h1v1h-1zM712 94h1v1h-1zM712 96h1v1h-1zM712 98h1v1h-1zM712 100h1v1h-1zM712 102h1v1h-1zM712 104h1v1h-1zM712 106h1v1h-1zM712 108h1v1h-1zM712 110h1v1h-1zM712 112h1v1h-1zM712 114h1v1h-1zM712 116h1v1h-1zM712 118h1v1h-1zM712 120h1v1h-1zM712 122h1v1h-1zM712 124h1v1h-1zM712 126h1v1h-1zM712 128h1v1h-1zM712 130h1v1h-1zM712 132h1v1h-1zM712 134h1v1h-1zM712 136h1v1h-1zM712 138h1v1h-1zM712 140h1v1h-1zM712 142h1v1h-1zM712 144h1v1h-1zM712 146h1v1h-1zM712 148h1v1h-1zM712 150h1v1h-1zM712 152h1v1h-1zM712 154h1v1h-1zM712 156h1v1h-1zM712 158h1v1h-1zM712 160h1v1h-1zM712 162h1v1h-1zM712 164h1v1h-1zM712 166h1v1h-1zM712 168h1v1h-1zM712 170h1v1h-1zM712 172h1v1h-1zM712 174h1v1h-1zM712 176h1v1h-1zM712 178h1v1h-1zM712 180h1v1h-1zM712 182h1v1h-1zM712 184h1v1h-1zM712 186h1v1h-1zM712 188h1v1h-1zM712 190h1v1h-1zM712 192h1v1h-1zM712 194h1v1h-1zM712 196h1v1h-1zM712 198h1v1h-1zM712 200h1v1h-1zM712 202h1v1h-1zM712 204h1v1h-1zM712 206h1v1h-1zM712 208h1v1h-1zM712 210h1v1h-1zM712 212h1v1h-1zM712 214h1v1h-1zM712 216h1v1h-1zM712 218h1v1h-1zM712 220h1v1h-1zM712 222h1v1h-1zM712 224h1v1h-1zM712 226h1v1h-1zM712 228h1v1h-1zM712 230h1v1h-1zM712 232h1v1h-1zM712 234h1v1h-1zM712 236h1v1h-1zM712 238h1v1h-1zM712 240h1v1h-1zM712 242h1v1h-1zM712 244h1v1h-1zM712 246h1v1h-1zM712 248h1v1h-1zM712 250h1v1h-1zM712 252h1v1h-1zM712 254h1v1h-1zM712 256h1v1h-1zM712 258h1v1h-1zM712 260h1v1h-1zM712 262h1v1h-1zM712 264h1v1h-1zM712 266h1v1h-1zM712 268h1v1h-1zM712 270h1v1h-1zM712 272h1v1h-1zM712 274h1v1h-1zM712 276h1v1h-1zM712 278h1v1h-1zM712 280h1v1h-1zM712 282h1v1h-1zM712 284h1v1h-1zM712 286h1v1h-1zM712 288h1v1h-1zM712 290h1v1h-1zM712 292h1v1h-1zM712 294h1v1h-1zM712 296h1v1h-1zM712 298h1v1h-1zM712 300h1v1h-1zM712 302h1v1h-1zM712 304h1v1h-1zM712 306h1v1h-1zM712 308h1v1h-1zM712 310h1v1h-1zM712 312h1v1h-1zM712 314h1v1h-1zM712 316h1v1h-1zM712 318h1v1h-1zM712 320h1v1h-1zM712 322h1v1h-1zM712 324h1v1h-1zM712 326h1v1h-1zM712 328h1v1h-1zM712 330h1v1h-1zM712 332h1v1h-1zM712 334h1v1h-1zM712 336h1v1h-1zM712 338h1v1h-1zM712 340h1v1h-1zM712 342h1v1h-1zM712 344h1v1h-1zM712 346h1v1h-1zM712 348h1v1h-1zM712 350h1v1h-1zM712 352h1v1h-1zM712 354h1v1h-1zM712 356h1v1h-1zM712 358h1v1h-1zM712 360h1v1h-1zM712 362h1v1h-1zM712 364h1v1h-1zM712 366h1v1h-1zM712 368h1v1h-1zM712 370h1v1h-1zM712 372h1v1h-1zM712 374h1v1h-1zM712 376h1v1h-1zM712 378h1v1h-1zM712 380h1v1h-1zM712 382h1v1h-1zM712 384h1v1h-1zM712 386h1v1h-1zM712 388h1v1h-1zM712 390h1v1h-1zM712 392h1v1h-1zM712 394h1v1h-1zM712 396h1v1h-1zM712 398h1v1h-1zM712 400h1v1h-1zM712 402h1v1h-1zM712 404h1v1h-1zM712 406h1v1h-1zM712 408h1v1h-1zM712 410h1v1h-1zM712 412h1v1h-1zM712 414h1v1h-1zM712 416h1v1h-1zM712 418h1v1h-1zM712 420h1v1h-1zM712 422h1v1h-1zM712 424h1v1h-1zM712 426h1v1h-1zM712 428h1v1h-1zM712 430h1v1h-1zM712 432h1v1h-1zM712 434h1v1h-1zM712 436h1v1h-1zM712 438h1v1h-1zM712 440h1v1h-1zM712 442h1v1h-1zM712 444h1v1h-1zM712 446h1v1h-1zM712 448h1v1h-1zM712 450h1v1h-1zM712 452h1v1h-1zM712 454h1v1h-1zM712 456h1v1h-1zM712 458h1v1h-1zM712 460h1v1h-1zM712 462h1v1h-1zM712 464h1v1h-1zM712 466h1v1h-1zM712 468h1v1h-1zM712 470h1v1h-1zM712 472h1v1h-1zM712 474h1v1h-1zM19 92h1v1h-1zM21 92h1v1h-1zM23 92h1v1h-1zM25 92h1v1h-1zM27 92h1v1h-1zM29 92h1v1h-1zM31 92h1v1h-1zM33 92h1v1h-1zM35 92h1v1h-1zM37 92h1v1h-1zM39 92h1v1h-1zM41 92h1v1h-1zM43 92h1v1h-1zM45 92h1v1h-1zM47 92h1v1h-1zM49 92h1v1h-1zM51 92h1v1h-1zM53 92h1v1h-1zM55 92h1v1h-1zM57 92h1v1h-1zM59 92h1v1h-1zM61 92h1v1h-1zM63 92h1v1h-1zM65 92h1v1h-1zM67 92h1v1h-1zM69 92h1v1h-1zM71 92h1v1h-1zM73 92h1v1h-1zM75 92h1v1h-1zM77 92h1v1h-1zM79 92h1v1h-1zM81 92h1v1h-1zM83 92h1v1h-1zM85 92h1v1h-1zM87 92h1v1h-1zM89 92h1v1h-1zM91 92h1v1h-1zM93 92h1v1h-1zM95 92h1v1h-1zM97 92h1v1h-1zM99 92h1v1h-1zM101 92h1v1h-1zM103 92h1v1h-1zM105 92h1v1h-1zM107 92h1v1h-1zM109 92h1v1h-1zM111 92h1v1h-1zM113 92h1v1h-1zM115 92h1v1h-1zM117 92h1v1h-1zM119 92h1v1h-1zM121 92h1v1h-1zM123 92h1v1h-1zM125 92h1v1h-1zM127 92h1v1h-1zM129 92h1v1h-1zM131 92h1v1h-1zM133 92h1v1h-1zM135 92h1v1h-1zM137 92h1v1h-1zM139 92h1v1h-1zM141 92h1v1h-1zM143 92h1v1h-1zM145 92h1v1h-1zM147 92h1v1h-1zM149 92h1v1h-1zM151 92h1v1h-1zM153 92h1v1h-1zM155 92h1v1h-1zM157 92h1v1h-1zM159 92h1v1h-1zM161 92h1v1h-1zM163 92h1v1h-1zM165 92h1v1h-1zM167 92h1v1h-1zM169 92h1v1h-1zM171 92h1v1h-1zM173 92h1v1h-1zM175 92h1v1h-1zM177 92h1v1h-1zM179 92h1v1h-1zM181 92h1v1h-1zM183 92h1v1h-1zM185 92h1v1h-1zM187 92h1v1h-1zM189 92h1v1h-1zM191 92h1v1h-1zM193 92h1v1h-1zM195 92h1v1h-1zM197 92h1v1h-1zM199 92h1v1h-1zM201 92h1v1h-1zM203 92h1v1h-1zM205 92h1v1h-1zM207 92h1v1h-1zM209 92h1v1h-1zM211 92h1v1h-1zM213 92h1v1h-1zM215 92h1v1h-1zM217 92h1v1h-1zM219 92h1v1h-1zM221 92h1v1h-1zM223 92h1v1h-1zM225 92h1v1h-1zM227 92h1v1h-1zM229 92h1v1h-1zM231 92h1v1h-1zM233 92h1v1h-1zM235 92h1v1h-1zM237 92h1v1h-1zM239 92h1v1h-1zM241 92h1v1h-1zM243 92h1v1h-1zM245 92h1v1h-1zM247 92h1v1h-1zM249 92h1v1h-1zM251 92h1v1h-1zM253 92h1v1h-1zM255 92h1v1h-1zM257 92h1v1h-1zM259 92h1v1h-1zM261 92h1v1h-1zM263 92h1v1h-1zM265 92h1v1h-1zM267 92h1v1h-1zM269 92h1v1h-1zM271 92h1v1h-1zM273 92h1v1h-1zM275 92h1v1h-1zM277 92h1v1h-1zM279 92h1v1h-1zM281 92h1v1h-1zM283 92h1v1h-1zM285 92h1v1h-1zM287 92h1v1h-1zM289 92h1v1h-1zM291 92h1v1h-1zM293 92h1v1h-1zM295 92h1v1h-1zM297 92h1v1h-1zM299 92h1v1h-1zM301 92h1v1h-1zM303 92h1v1h-1zM305 92h1v1h-1zM307 92h1v1h-1zM309 92h1v1h-1zM311 92h1v1h-1zM313 92h1v1h-1zM315 92h1v1h-1zM317 92h1v1h-1zM319 92h1v1h-1zM321 92h1v1h-1zM323 92h1v1h-1zM325 92h1v1h-1zM327 92h1v1h-1zM329 92h1v1h-1zM331 92h1v1h-1zM333 92h1v1h-1zM335 92h1v1h-1zM337 92h1v1h-1zM339 92h1v1h-1zM341 92h1v1h-1zM343 92h1v1h-1zM345 92h1v1h-1zM347 92h1v1h-1zM349 92h1v1h-1zM351 92h1v1h-1zM353 92h1v1h-1zM355 92h1v1h-1zM357 92h1v1h-1zM359 92h1v1h-1zM361 92h1v1h-1zM363 92h1v1h-1zM365 92h1v1h-1zM367 92h1v1h-1zM369 92h1v1h-1zM371 92h1v1h-1zM373 92h1v1h-1zM375 92h1v1h-1zM377 92h1v1h-1zM379 92h1v1h-1zM381 92h1v1h-1zM383 92h1v1h-1zM385 92h1v1h-1zM387 92h1v1h-1zM389 92h1v1h-1zM391 92h1v1h-1zM393 92h1v1h-1zM395 92h1v1h-1zM397 92h1v1h-1zM399 92h1v1h-1zM401 92h1v1h-1zM403 92h1v1h-1zM405 92h1v1h-1zM407 92h1v1h-1zM409 92h1v1h-1zM411 92h1v1h-1zM413 92h1v1h-1zM415 92h1v1h-1zM417 92h1v1h-1zM419 92h1v1h-1zM421 92h1v1h-1zM423 92h1v1h-1zM425 92h1v1h-1zM427 92h1v1h-1zM429 92h1v1h-1zM431 92h1v1h-1zM433 92h1v1h-1zM435 92h1v1h-1zM437 92h1v1h-1zM439 92h1v1h-1zM441 92h1v1h-1zM443 92h1v1h-1zM445 92h1v1h-1zM447 92h1v1h-1zM449 92h1v1h-1zM451 92h1v1h-1zM453 92h1v1h-1zM455 92h1v1h-1zM457 92h1v1h-1zM459 92h1v1h-1zM461 92h1v1h-1zM463 92h1v1h-1zM465 92h1v1h-1zM467 92h1v1h-1zM469 92h1v1h-1zM471 92h1v1h-1zM473 92h1v1h-1zM475 92h1v1h-1zM477 92h1v1h-1zM479 92h1v1h-1zM481 92h1v1h-1zM483 92h1v1h-1zM485 92h1v1h-1zM487 92h1v1h-1zM489 92h1v1h-1zM491 92h1v1h-1zM493 92h1v1h-1zM495 92h1v1h-1zM497 92h1v1h-1zM499 92h1v1h-1zM501 92h1v1h-1zM503 92h1v1h-1zM505 92h1v1h-1zM507 92h1v1h-1zM509 92h1v1h-1zM511 92h1v1h-1zM513 92h1v1h-1zM515 92h1v1h-1zM517 92h1v1h-1zM519 92h1v1h-1zM521 92h1v1h-1zM523 92h1v1h-1zM525 92h1v1h-1zM527 92h1v1h-1zM529 92h1v1h-1zM531 92h1v1h-1zM533 92h1v1h-1zM535 92h1v1h-1zM537 92h1v1h-1zM539 92h1v1h-1zM541 92h1v1h-1zM543 92h1v1h-1zM545 92h1v1h-1zM547 92h1v1h-1zM549 92h1v1h-1zM551 92h1v1h-1zM553 92h1v1h-1zM555 92h1v1h-1zM557 92h1v1h-1zM559 92h1v1h-1zM561 92h1v1h-1zM563 92h1v1h-1zM565 92h1v1h-1zM567 92h1v1h-1zM569 92h1v1h-1zM571 92h1v1h-1zM573 92h1v1h-1zM575 92h1v1h-1zM577 92h1v1h-1zM579 92h1v1h-1zM581 92h1v1h-1zM583 92h1v1h-1zM585 92h1v1h-1zM587 92h1v1h-1zM589 92h1v1h-1zM591 92h1v1h-1zM593 92h1v1h-1zM595 92h1v1h-1zM597 92h1v1h-1zM599 92h1v1h-1zM601 92h1v1h-1zM603 92h1v1h-1zM605 92h1v1h-1zM607 92h1v1h-1zM609 92h1v1h-1zM611 92h1v1h-1zM613 92h1v1h-1zM615 92h1v1h-1zM617 92h1v1h-1zM619 92h1v1h-1zM621 92h1v1h-1zM623 92h1v1h-1zM625 92h1v1h-1zM627 92h1v1h-1zM629 92h1v1h-1zM631 92h1v1h-1zM633 92h1v1h-1zM635 92h1v1h-1zM637 92h1v1h-1zM639 92h1v1h-1zM641 92h1v1h-1zM643 92h1v1h-1zM645 92h1v1h-1zM647 92h1v1h-1zM649 92h1v1h-1zM651 92h1v1h-1zM653 92h1v1h-1zM655 92h1v1h-1zM657 92h1v1h-1zM659 92h1v1h-1zM661 92h1v1h-1zM663 92h1v1h-1zM665 92h1v1h-1zM667 92h1v1h-1zM669 92h1v1h-1zM671 92h1v1h-1zM673 92h1v1h-1zM675 92h1v1h-1zM677 92h1v1h-1zM679 92h1v1h-1zM681 92h1v1h-1zM683 92h1v1h-1zM685 92h1v1h-1zM687 92h1v1h-1zM689 92h1v1h-1zM691 92h1v1h-1zM693 92h1v1h-1zM695 92h1v1h-1zM697 92h1v1h-1zM699 92h1v1h-1zM701 92h1v1h-1zM703 92h1v1h-1zM705 92h1v1h-1zM707 92h1v1h-1zM709 92h1v1h-1zM711 92h1v1h-1zM713 92h1v1h-1zM715 92h1v1h-1zM717 92h1v1h-1zM719 92h1v1h-1zM721 92h1v1h-1zM723 92h1v1h-1zM725 92h1v1h-1zM727 92h1v1h-1zM729 92h1v1h-1zM731 92h1v1h-1zM733 92h1v1h-1zM735 92h1v1h-1zM737 92h1v1h-1zM739 92h1v1h-1zM741 92h1v1h-1zM743 92h1v1h-1zM745 92h1v1h-1zM747 92h1v1h-1zM749 92h1v1h-1zM751 92h1v1h-1zM753 92h1v1h-1zM755 92h1v1h-1zM757 92h1v1h-1zM759 92h1v1h-1zM761 92h1v1h-1zM763 92h1v1h-1zM765 92h1v1h-1zM767 92h1v1h-1zM769 92h1v1h-1zM771 92h1v1h-1zM773 92h1v1h-1zM775 92h1v1h-1zM777 92h1v1h-1zM779 92h1v1h-1zM781 92h1v1h-1zM783 92h1v1h-1zM785 92h1v1h-1zM787 92h1v1h-1zM19 147h1v1h-1zM21 147h1v1h-1zM23 147h1v1h-1zM25 147h1v1h-1zM27 147h1v1h-1zM29 147h1v1h-1zM31 147h1v1h-1zM33 147h1v1h-1zM35 147h1v1h-1zM37 147h1v1h-1zM39 147h1v1h-1zM41 147h1v1h-1zM43 147h1v1h-1zM45 147h1v1h-1zM47 147h1v1h-1zM49 147h1v1h-1zM51 147h1v1h-1zM53 147h1v1h-1zM55 147h1v1h-1zM57 147h1v1h-1zM59 147h1v1h-1zM61 147h1v1h-1zM63 147h1v1h-1zM65 147h1v1h-1zM67 147h1v1h-1zM69 147h1v1h-1zM71 147h1v1h-1zM73 147h1v1h-1zM75 147h1v1h-1zM77 147h1v1h-1zM79 147h1v1h-1zM81 147h1v1h-1zM83 147h1v1h-1zM85 147h1v1h-1zM87 147h1v1h-1zM89 147h1v1h-1zM91 147h1v1h-1zM93 147h1v1h-1zM95 147h1v1h-1zM97 147h1v1h-1zM99 147h1v1h-1zM101 147h1v1h-1zM103 147h1v1h-1zM105 147h1v1h-1zM107 147h1v1h-1zM109 147h1v1h-1zM111 147h1v1h-1zM113 147h1v1h-1zM115 147h1v1h-1zM117 147h1v1h-1zM119 147h1v1h-1zM121 147h1v1h-1zM123 147h1v1h-1zM125 147h1v1h-1zM127 147h1v1h-1zM129 147h1v1h-1zM131 147h1v1h-1zM133 147h1v1h-1zM135 147h1v1h-1zM137 147h1v1h-1zM139 147h1v1h-1zM141 147h1v1h-1zM143 147h1v1h-1zM145 147h1v1h-1zM147 147h1v1h-1zM149 147h1v1h-1zM151 147h1v1h-1zM153 147h1v1h-1zM155 147h1v1h-1zM157 147h1v1h-1zM159 147h1v1h-1zM161 147h1v1h-1zM163 147h1v1h-1zM165 147h1v1h-1zM167 147h1v1h-1zM169 147h1v1h-1zM171 147h1v1h-1zM173 147h1v1h-1zM175 147h1v1h-1zM177 147h1v1h-1zM179 147h1v1h-1zM181 147h1v1h-1zM183 147h1v1h-1zM185 147h1v1h-1zM187 147h1v1h-1zM189 147h1v1h-1zM191 147h1v1h-1zM193 147h1v1h-1zM195 147h1v1h-1zM197 147h1v1h-1zM199 147h1v1h-1zM201 147h1v1h-1zM203 147h1v1h-1zM205 147h1v1h-1zM207 147h1v1h-1zM209 147h1v1h-1zM211 147h1v1h-1zM213 147h1v1h-1zM215 147h1v1h-1zM217 147h1v1h-1zM219 147h1v1h-1zM221 147h1v1h-1zM223 147h1v1h-1zM225 147h1v1h-1zM227 147h1v1h-1zM229 147h1v1h-1zM231 147h1v1h-1zM233 147h1v1h-1zM235 147h1v1h-1zM237 147h1v1h-1zM239 147h1v1h-1zM241 147h1v1h-1zM243 147h1v1h-1zM245 147h1v1h-1zM247 147h1v1h-1zM249 147h1v1h-1zM251 147h1v1h-1zM253 147h1v1h-1zM255 147h1v1h-1zM257 147h1v1h-1zM259 147h1v1h-1zM261 147h1v1h-1zM263 147h1v1h-1zM265 147h1v1h-1zM267 147h1v1h-1zM269 147h1v1h-1zM271 147h1v1h-1zM273 147h1v1h-1zM275 147h1v1h-1zM277 147h1v1h-1zM279 147h1v1h-1zM281 147h1v1h-1zM283 147h1v1h-1zM285 147h1v1h-1zM287 147h1v1h-1zM289 147h1v1h-1zM291 147h1v1h-1zM293 147h1v1h-1zM295 147h1v1h-1zM297 147h1v1h-1zM299 147h1v1h-1zM301 147h1v1h-1zM303 147h1v1h-1zM305 147h1v1h-1zM307 147h1v1h-1zM309 147h1v1h-1zM311 147h1v1h-1zM313 147h1v1h-1zM315 147h1v1h-1zM317 147h1v1h-1zM319 147h1v1h-1zM321 147h1v1h-1zM323 147h1v1h-1zM325 147h1v1h-1zM327 147h1v1h-1zM329 147h1v1h-1zM331 147h1v1h-1zM333 147h1v1h-1zM335 147h1v1h-1zM337 147h1v1h-1zM339 147h1v1h-1zM341 147h1v1h-1zM343 147h1v1h-1zM345 147h1v1h-1zM347 147h1v1h-1zM349 147h1v1h-1zM351 147h1v1h-1zM353 147h1v1h-1zM355 147h1v1h-1zM357 147h1v1h-1zM359 147h1v1h-1zM361 147h1v1h-1zM363 147h1v1h-1zM365 147h1v1h-1zM367 147h1v1h-1zM369 147h1v1h-1zM371 147h1v1h-1zM373 147h1v1h-1zM375 147h1v1h-1zM377 147h1v1h-1zM379 147h1v1h-1zM381 147h1v1h-1zM383 147h1v1h-1zM385 147h1v1h-1zM387 147h1v1h-1zM389 147h1v1h-1zM391 147h1v1h-1zM393 147h1v1h-1zM395 147h1v1h-1zM397 147h1v1h-1zM399 147h1v1h-1zM401 147h1v1h-1zM403 147h1v1h-1zM405 147h1v1h-1zM407 147h1v1h-1zM409 147h1v1h-1zM411 147h1v1h-1zM413 147h1v1h-1zM415 147h1v1h-1zM417 147h1v1h-1zM419 147h1v1h-1zM421 147h1v1h-1zM423 147h1v1h-1zM425 147h1v1h-1zM427 147h1v1h-1zM429 147h1v1h-1zM431 147h1v1h-1zM433 147h1v1h-1zM435 147h1v1h-1zM437 147h1v1h-1zM439 147h1v1h-1zM441 147h1v1h-1zM443 147h1v1h-1zM445 147h1v1h-1zM447 147h1v1h-1zM449 147h1v1h-1zM451 147h1v1h-1zM453 147h1v1h-1zM455 147h1v1h-1zM457 147h1v1h-1zM459 147h1v1h-1zM461 147h1v1h-1zM463 147h1v1h-1zM465 147h1v1h-1zM467 147h1v1h-1zM469 147h1v1h-1zM471 147h1v1h-1zM473 147h1v1h-1zM475 147h1v1h-1zM477 147h1v1h-1zM479 147h1v1h-1zM481 147h1v1h-1zM483 147h1v1h-1zM485 147h1v1h-1zM487 147h1v1h-1zM489 147h1v1h-1zM491 147h1v1h-1zM493 147h1v1h-1zM495 147h1v1h-1zM497 147h1v1h-1zM499 147h1v1h-1zM501 147h1v1h-1zM503 147h1v1h-1zM505 147h1v1h-1zM507 147h1v1h-1zM509 147h1v1h-1zM511 147h1v1h-1zM513 147h1v1h-1zM515 147h1v1h-1zM517 147h1v1h-1zM519 147h1v1h-1zM521 147h1v1h-1zM523 147h1v1h-1zM525 147h1v1h-1zM527 147h1v1h-1zM529 147h1v1h-1zM531 147h1v1h-1zM533 147h1v1h-1zM535 147h1v1h-1zM537 147h1v1h-1zM539 147h1v1h-1zM541 147h1v1h-1zM543 147h1v1h-1zM545 147h1v1h-1zM547 147h1v1h-1zM549 147h1v1h-1zM551 147h1v1h-1zM553 147h1v1h-1zM555 147h1v1h-1zM557 147h1v1h-1zM559 147h1v1h-1zM561 147h1v1h-1zM563 147h1v1h-1zM565 147h1v1h-1zM567 147h1v1h-1zM569 147h1v1h-1zM571 147h1v1h-1zM573 147h1v1h-1zM575 147h1v1h-1zM577 147h1v1h-1zM579 147h1v1h-1zM581 147h1v1h-1zM583 147h1v1h-1zM585 147h1v1h-1zM587 147h1v1h-1zM589 147h1v1h-1zM591 147h1v1h-1zM593 147h1v1h-1zM595 147h1v1h-1zM597 147h1v1h-1zM599 147h1v1h-1zM601 147h1v1h-1zM603 147h1v1h-1zM605 147h1v1h-1zM607 147h1v1h-1zM609 147h1v1h-1zM611 147h1v1h-1zM613 147h1v1h-1zM615 147h1v1h-1zM617 147h1v1h-1zM619 147h1v1h-1zM621 147h1v1h-1zM623 147h1v1h-1zM625 147h1v1h-1zM627 147h1v1h-1zM629 147h1v1h-1zM631 147h1v1h-1zM633 147h1v1h-1zM635 147h1v1h-1zM637 147h1v1h-1zM639 147h1v1h-1zM641 147h1v1h-1zM643 147h1v1h-1zM645 147h1v1h-1zM647 147h1v1h-1zM649 147h1v1h-1zM651 147h1v1h-1zM653 147h1v1h-1zM655 147h1v1h-1zM657 147h1v1h-1zM659 147h1v1h-1zM661 147h1v1h-1zM663 147h1v1h-1zM665 147h1v1h-1zM667 147h1v1h-1zM669 147h1v1h-1zM671 147h1v1h-1zM673 147h1v1h-1zM675 147h1v1h-1zM677 147h1v1h-1zM679 147h1v1h-1zM681 147h1v1h-1zM683 147h1v1h-1zM685 147h1v1h-1zM687 147h1v1h-1zM689 147h1v1h-1zM691 147h1v1h-1zM693 147h1v1h-1zM695 147h1v1h-1zM697 147h1v1h-1zM699 147h1v1h-1zM701 147h1v1h-1zM703 147h1v1h-1zM705 147h1v1h-1zM707 147h1v1h-1zM709 147h1v1h-1zM711 147h1v1h-1zM713 147h1v1h-1zM715 147h1v1h-1zM717 147h1v1h-1zM719 147h1v1h-1zM721 147h1v1h-1zM723 147h1v1h-1zM725 147h1v1h-1zM727 147h1v1h-1zM729 147h1v1h-1zM731 147h1v1h-1zM733 147h1v1h-1zM735 147h1v1h-1zM737 147h1v1h-1zM739 147h1v1h-1zM741 147h1v1h-1zM743 147h1v1h-1zM745 147h1v1h-1zM747 147h1v1h-1zM749 147h1v1h-1zM751 147h1v1h-1zM753 147h1v1h-1zM755 147h1v1h-1zM757 147h1v1h-1zM759 147h1v1h-1zM761 147h1v1h-1zM763 147h1v1h-1zM765 147h1v1h-1zM767 147h1v1h-1zM769 147h1v1h-1zM771 147h1v1h-1zM773 147h1v1h-1zM775 147h1v1h-1zM777 147h1v1h-1zM779 147h1v1h-1zM781 147h1v1h-1zM783 147h1v1h-1zM785 147h1v1h-1zM787 147h1v1h-1zM19 202h1v1h-1zM21 202h1v1h-1zM23 202h1v1h-1zM25 202h1v1h-1zM27 202h1v1h-1zM29 202h1v1h-1zM31 202h1v1h-1zM33 202h1v1h-1zM35 202h1v1h-1zM37 202h1v1h-1zM39 202h1v1h-1zM41 202h1v1h-1zM43 202h1v1h-1zM45 202h1v1h-1zM47 202h1v1h-1zM49 202h1v1h-1zM51 202h1v1h-1zM53 202h1v1h-1zM55 202h1v1h-1zM57 202h1v1h-1zM59 202h1v1h-1zM61 202h1v1h-1zM63 202h1v1h-1zM65 202h1v1h-1zM67 202h1v1h-1zM69 202h1v1h-1zM71 202h1v1h-1zM73 202h1v1h-1zM75 202h1v1h-1zM77 202h1v1h-1zM79 202h1v1h-1zM81 202h1v1h-1zM83 202h1v1h-1zM85 202h1v1h-1zM87 202h1v1h-1zM89 202h1v1h-1zM91 202h1v1h-1zM93 202h1v1h-1zM95 202h1v1h-1zM97 202h1v1h-1zM99 202h1v1h-1zM101 202h1v1h-1zM103 202h1v1h-1zM105 202h1v1h-1zM107 202h1v1h-1zM109 202h1v1h-1zM111 202h1v1h-1zM113 202h1v1h-1zM115 202h1v1h-1zM117 202h1v1h-1zM119 202h1v1h-1zM121 202h1v1h-1zM123 202h1v1h-1zM125 202h1v1h-1zM127 202h1v1h-1zM129 202h1v1h-1zM131 202h1v1h-1zM133 202h1v1h-1zM135 202h1v1h-1zM137 202h1v1h-1zM139 202h1v1h-1zM141 202h1v1h-1zM143 202h1v1h-1zM145 202h1v1h-1zM147 202h1v1h-1zM149 202h1v1h-1zM151 202h1v1h-1zM153 202h1v1h-1zM155 202h1v1h-1zM157 202h1v1h-1zM159 202h1v1h-1zM161 202h1v1h-1zM163 202h1v1h-1zM165 202h1v1h-1zM167 202h1v1h-1zM169 202h1v1h-1zM171 202h1v1h-1zM173 202h1v1h-1zM175 202h1v1h-1zM177 202h1v1h-1zM179 202h1v1h-1zM181 202h1v1h-1zM183 202h1v1h-1zM185 202h1v1h-1zM187 202h1v1h-1zM189 202h1v1h-1zM191 202h1v1h-1zM193 202h1v1h-1zM195 202h1v1h-1zM197 202h1v1h-1zM199 202h1v1h-1zM201 202h1v1h-1zM203 202h1v1h-1zM205 202h1v1h-1zM207 202h1v1h-1zM209 202h1v1h-1zM211 202h1v1h-1zM213 202h1v1h-1zM215 202h1v1h-1zM217 202h1v1h-1zM219 202h1v1h-1zM221 202h1v1h-1zM223 202h1v1h-1zM225 202h1v1h-1zM227 202h1v1h-1zM229 202h1v1h-1zM231 202h1v1h-1zM233 202h1v1h-1zM235 202h1v1h-1zM237 202h1v1h-1zM239 202h1v1h-1zM241 202h1v1h-1zM243 202h1v1h-1zM245 202h1v1h-1zM247 202h1v1h-1zM249 202h1v1h-1zM251 202h1v1h-1zM253 202h1v1h-1zM255 202h1v1h-1zM257 202h1v1h-1zM259 202h1v1h-1zM261 202h1v1h-1zM263 202h1v1h-1zM265 202h1v1h-1zM267 202h1v1h-1zM269 202h1v1h-1zM271 202h1v1h-1zM273 202h1v1h-1zM275 202h1v1h-1zM277 202h1v1h-1zM279 202h1v1h-1zM281 202h1v1h-1zM283 202h1v1h-1zM285 202h1v1h-1zM287 202h1v1h-1zM289 202h1v1h-1zM291 202h1v1h-1zM293 202h1v1h-1zM295 202h1v1h-1zM297 202h1v1h-1zM299 202h1v1h-1zM301 202h1v1h-1zM303 202h1v1h-1zM305 202h1v1h-1zM307 202h1v1h-1zM309 202h1v1h-1zM311 202h1v1h-1zM313 202h1v1h-1zM315 202h1v1h-1zM317 202h1v1h-1zM319 202h1v1h-1zM321 202h1v1h-1zM323 202h1v1h-1zM325 202h1v1h-1zM327 202h1v1h-1zM329 202h1v1h-1zM331 202h1v1h-1zM333 202h1v1h-1zM335 202h1v1h-1zM337 202h1v1h-1zM339 202h1v1h-1zM341 202h1v1h-1zM343 202h1v1h-1zM345 202h1v1h-1zM347 202h1v1h-1zM349 202h1v1h-1zM351 202h1v1h-1zM353 202h1v1h-1zM355 202h1v1h-1zM357 202h1v1h-1zM359 202h1v1h-1zM361 202h1v1h-1zM363 202h1v1h-1zM365 202h1v1h-1zM367 202h1v1h-1zM369 202h1v1h-1zM371 202h1v1h-1zM373 202h1v1h-1zM375 202h1v1h-1zM377 202h1v1h-1zM379 202h1v1h-1zM381 202h1v1h-1zM383 202h1v1h-1zM385 202h1v1h-1zM387 202h1v1h-1zM389 202h1v1h-1zM391 202h1v1h-1zM393 202h1v1h-1zM395 202h1v1h-1zM397 202h1v1h-1zM399 202h1v1h-1zM401 202h1v1h-1zM403 202h1v1h-1zM405 202h1v1h-1zM407 202h1v1h-1zM409 202h1v1h-1zM411 202h1v1h-1zM413 202h1v1h-1zM415 202h1v1h-1zM417 202h1v1h-1zM419 202h1v1h-1zM421 202h1v1h-1zM423 202h1v1h-1zM425 202h1v1h-1zM427 202h1v1h-1zM429 202h1v1h-1zM431 202h1v1h-1zM433 202h1v1h-1zM435 202h1v1h-1zM437 202h1v1h-1zM439 202h1v1h-1zM441 202h1v1h-1zM443 202h1v1h-1zM445 202h1v1h-1zM447 202h1v1h-1zM449 202h1v1h-1zM451 202h1v1h-1zM453 202h1v1h-1zM455 202h1v1h-1zM457 202h1v1h-1zM459 202h1v1h-1zM461 202h1v1h-1zM463 202h1v1h-1zM465 202h1v1h-1zM467 202h1v1h-1zM469 202h1v1h-1zM471 202h1v1h-1zM473 202h1v1h-1zM475 202h1v1h-1zM477 202h1v1h-1zM479 202h1v1h-1zM481 202h1v1h-1zM483 202h1v1h-1zM485 202h1v1h-1zM487 202h1v1h-1zM489 202h1v1h-1zM491 202h1v1h-1zM493 202h1v1h-1zM495 202h1v1h-1zM497 202h1v1h-1zM499 202h1v1h-1zM501 202h1v1h-1zM503 202h1v1h-1zM505 202h1v1h-1zM507 202h1v1h-1zM509 202h1v1h-1zM511 202h1v1h-1zM513 202h1v1h-1zM515 202h1v1h-1zM517 202h1v1h-1zM519 202h1v1h-1zM521 202h1v1h-1zM523 202h1v1h-1zM525 202h1v1h-1zM527 202h1v1h-1zM529 202h1v1h-1zM531 202h1v1h-1zM533 202h1v1h-1zM535 202h1v1h-1zM537 202h1v1h-1zM539 202h1v1h-1zM541 202h1v1h-1zM543 202h1v1h-1zM545 202h1v1h-1zM547 202h1v1h-1zM549 202h1v1h-1zM551 202h1v1h-1zM553 202h1v1h-1zM555 202h1v1h-1zM557 202h1v1h-1zM559 202h1v1h-1zM561 202h1v1h-1zM563 202h1v1h-1zM565 202h1v1h-1zM567 202h1v1h-1zM569 202h1v1h-1zM571 202h1v1h-1zM573 202h1v1h-1zM575 202h1v1h-1zM577 202h1v1h-1zM579 202h1v1h-1zM581 202h1v1h-1zM583 202h1v1h-1zM585 202h1v1h-1zM587 202h1v1h-1zM589 202h1v1h-1zM591 202h1v1h-1zM593 202h1v1h-1zM595 202h1v1h-1zM597 202h1v1h-1zM599 202h1v1h-1zM601 202h1v1h-1zM603 202h1v1h-1zM605 202h1v1h-1zM607 202h1v1h-1zM609 202h1v1h-1zM611 202h1v1h-1zM613 202h1v1h-1zM615 202h1v1h-1zM617 202h1v1h-1zM619 202h1v1h-1zM621 202h1v1h-1zM623 202h1v1h-1zM625 202h1v1h-1zM627 202h1v1h-1zM629 202h1v1h-1zM631 202h1v1h-1zM633 202h1v1h-1zM635 202h1v1h-1zM637 202h1v1h-1zM639 202h1v1h-1zM641 202h1v1h-1zM643 202h1v1h-1zM645 202h1v1h-1zM647 202h1v1h-1zM649 202h1v1h-1zM651 202h1v1h-1zM653 202h1v1h-1zM655 202h1v1h-1zM657 202h1v1h-1zM659 202h1v1h-1zM661 202h1v1h-1zM663 202h1v1h-1zM665 202h1v1h-1zM667 202h1v1h-1zM669 202h1v1h-1zM671 202h1v1h-1zM673 202h1v1h-1zM675 202h1v1h-1zM677 202h1v1h-1zM679 202h1v1h-1zM681 202h1v1h-1zM683 202h1v1h-1zM685 202h1v1h-1zM687 202h1v1h-1zM689 202h1v1h-1zM691 202h1v1h-1zM693 202h1v1h-1zM695 202h1v1h-1zM697 202h1v1h-1zM699 202h1v1h-1zM701 202h1v1h-1zM703 202h1v1h-1zM705 202h1v1h-1zM707 202h1v1h-1zM709 202h1v1h-1zM711 202h1v1h-1zM713 202h1v1h-1zM715 202h1v1h-1zM717 202h1v1h-1zM719 202h1v1h-1zM721 202h1v1h-1zM723 202h1v1h-1zM725 202h1v1h-1zM727 202h1v1h-1zM729 202h1v1h-1zM731 202h1v1h-1zM733 202h1v1h-1zM735 202h1v1h-1zM737 202h1v1h-1zM739 202h1v1h-1zM741 202h1v1h-1zM743 202h1v1h-1zM745 202h1v1h-1zM747 202h1v1h-1zM749 202h1v1h-1zM751 202h1v1h-1zM753 202h1v1h-1zM755 202h1v1h-1zM757 202h1v1h-1zM759 202h1v1h-1zM761 202h1v1h-1zM763 202h1v1h-1zM765 202h1v1h-1zM767 202h1v1h-1zM769 202h1v1h-1zM771 202h1v1h-1zM773 202h1v1h-1zM775 202h1v1h-1zM777 202h1v1h-1zM779 202h1v1h-1zM781 202h1v1h-1zM783 202h1v1h-1zM785 202h1v1h-1zM787 202h1v1h-1zM19 311h1v1h-1zM21 311h1v1h-1zM23 311h1v1h-1zM25 311h1v1h-1zM27 311h1v1h-1zM29 311h1v1h-1zM31 311h1v1h-1zM33 311h1v1h-1zM35 311h1v1h-1zM37 311h1v1h-1zM39 311h1v1h-1zM41 311h1v1h-1zM43 311h1v1h-1zM45 311h1v1h-1zM47 311h1v1h-1zM49 311h1v1h-1zM51 311h1v1h-1zM53 311h1v1h-1zM55 311h1v1h-1zM57 311h1v1h-1zM59 311h1v1h-1zM61 311h1v1h-1zM63 311h1v1h-1zM65 311h1v1h-1zM67 311h1v1h-1zM69 311h1v1h-1zM71 311h1v1h-1zM73 311h1v1h-1zM75 311h1v1h-1zM77 311h1v1h-1zM79 311h1v1h-1zM81 311h1v1h-1zM83 311h1v1h-1zM85 311h1v1h-1zM87 311h1v1h-1zM89 311h1v1h-1zM91 311h1v1h-1zM93 311h1v1h-1zM95 311h1v1h-1zM97 311h1v1h-1zM99 311h1v1h-1zM101 311h1v1h-1zM103 311h1v1h-1zM105 311h1v1h-1zM107 311h1v1h-1zM109 311h1v1h-1zM111 311h1v1h-1zM113 311h1v1h-1zM115 311h1v1h-1zM117 311h1v1h-1zM119 311h1v1h-1zM121 311h1v1h-1zM123 311h1v1h-1zM125 311h1v1h-1zM127 311h1v1h-1zM129 311h1v1h-1zM131 311h1v1h-1zM133 311h1v1h-1zM135 311h1v1h-1zM137 311h1v1h-1zM139 311h1v1h-1zM141 311h1v1h-1zM143 311h1v1h-1zM145 311h1v1h-1zM147 311h1v1h-1zM149 311h1v1h-1zM151 311h1v1h-1zM153 311h1v1h-1zM155 311h1v1h-1zM157 311h1v1h-1zM159 311h1v1h-1zM161 311h1v1h-1zM163 311h1v1h-1zM165 311h1v1h-1zM167 311h1v1h-1zM169 311h1v1h-1zM171 311h1v1h-1zM173 311h1v1h-1zM175 311h1v1h-1zM177 311h1v1h-1zM179 311h1v1h-1zM181 311h1v1h-1zM183 311h1v1h-1zM185 311h1v1h-1zM187 311h1v1h-1zM189 311h1v1h-1zM191 311h1v1h-1zM193 311h1v1h-1zM195 311h1v1h-1zM197 311h1v1h-1zM199 311h1v1h-1zM201 311h1v1h-1zM203 311h1v1h-1zM205 311h1v1h-1zM207 311h1v1h-1zM209 311h1v1h-1zM211 311h1v1h-1zM213 311h1v1h-1zM215 311h1v1h-1zM217 311h1v1h-1zM219 311h1v1h-1zM221 311h1v1h-1zM223 311h1v1h-1zM225 311h1v1h-1zM227 311h1v1h-1zM229 311h1v1h-1zM231 311h1v1h-1zM233 311h1v1h-1zM235 311h1v1h-1zM237 311h1v1h-1zM239 311h1v1h-1zM241 311h1v1h-1zM243 311h1v1h-1zM245 311h1v1h-1zM247 311h1v1h-1zM249 311h1v1h-1zM251 311h1v1h-1zM253 311h1v1h-1zM255 311h1v1h-1zM257 311h1v1h-1zM259 311h1v1h-1zM261 311h1v1h-1zM263 311h1v1h-1zM265 311h1v1h-1zM267 311h1v1h-1zM269 311h1v1h-1zM271 311h1v1h-1zM273 311h1v1h-1zM275 311h1v1h-1zM277 311h1v1h-1zM279 311h1v1h-1zM281 311h1v1h-1zM283 311h1v1h-1zM285 311h1v1h-1zM287 311h1v1h-1zM289 311h1v1h-1zM291 311h1v1h-1zM293 311h1v1h-1zM295 311h1v1h-1zM297 311h1v1h-1zM299 311h1v1h-1zM301 311h1v1h-1zM303 311h1v1h-1zM305 311h1v1h-1zM307 311h1v1h-1zM309 311h1v1h-1zM311 311h1v1h-1zM313 311h1v1h-1zM315 311h1v1h-1zM317 311h1v1h-1zM319 311h1v1h-1zM321 311h1v1h-1zM323 311h1v1h-1zM325 311h1v1h-1zM327 311h1v1h-1zM329 311h1v1h-1zM331 311h1v1h-1zM333 311h1v1h-1zM335 311h1v1h-1zM337 311h1v1h-1zM339 311h1v1h-1zM341 311h1v1h-1zM343 311h1v1h-1zM345 311h1v1h-1zM347 311h1v1h-1zM349 311h1v1h-1zM351 311h1v1h-1zM353 311h1v1h-1zM355 311h1v1h-1zM357 311h1v1h-1zM359 311h1v1h-1zM361 311h1v1h-1zM363 311h1v1h-1zM365 311h1v1h-1zM367 311h1v1h-1zM369 311h1v1h-1zM371 311h1v1h-1zM373 311h1v1h-1zM375 311h1v1h-1zM377 311h1v1h-1zM379 311h1v1h-1zM381 311h1v1h-1zM383 311h1v1h-1zM385 311h1v1h-1zM387 311h1v1h-1zM389 311h1v1h-1zM391 311h1v1h-1zM393 311h1v1h-1zM395 311h1v1h-1zM397 311h1v1h-1zM399 311h1v1h-1zM401 311h1v1h-1zM403 311h1v1h-1zM405 311h1v1h-1zM407 311h1v1h-1zM409 311h1v1h-1zM411 311h1v1h-1zM413 311h1v1h-1zM415 311h1v1h-1zM417 311h1v1h-1zM419 311h1v1h-1zM421 311h1v1h-1zM423 311h1v1h-1zM425 311h1v1h-1zM427 311h1v1h-1zM429 311h1v1h-1zM431 311h1v1h-1zM433 311h1v1h-1zM435 311h1v1h-1zM437 311h1v1h-1zM439 311h1v1h-1zM441 311h1v1h-1zM443 311h1v1h-1zM445 311h1v1h-1zM447 311h1v1h-1zM449 311h1v1h-1zM451 311h1v1h-1zM453 311h1v1h-1zM455 311h1v1h-1zM457 311h1v1h-1zM459 311h1v1h-1zM461 311h1v1h-1zM463 311h1v1h-1zM465 311h1v1h-1zM467 311h1v1h-1zM469 311h1v1h-1zM471 311h1v1h-1zM473 311h1v1h-1zM475 311h1v1h-1zM477 311h1v1h-1zM479 311h1v1h-1zM481 311h1v1h-1zM483 311h1v1h-1zM485 311h1v1h-1zM487 311h1v1h-1zM489 311h1v1h-1zM491 311h1v1h-1zM493 311h1v1h-1zM495 311h1v1h-1zM497 311h1v1h-1zM499 311h1v1h-1zM501 311h1v1h-1zM503 311h1v1h-1zM505 311h1v1h-1zM507 311h1v1h-1zM509 311h1v1h-1zM511 311h1v1h-1zM513 311h1v1h-1zM515 311h1v1h-1zM517 311h1v1h-1zM519 311h1v1h-1zM521 311h1v1h-1zM523 311h1v1h-1zM525 311h1v1h-1zM527 311h1v1h-1zM529 311h1v1h-1zM531 311h1v1h-1zM533 311h1v1h-1zM535 311h1v1h-1zM537 311h1v1h-1zM539 311h1v1h-1zM541 311h1v1h-1zM543 311h1v1h-1zM545 311h1v1h-1zM547 311h1v1h-1zM549 311h1v1h-1zM551 311h1v1h-1zM553 311h1v1h-1zM555 311h1v1h-1zM557 311h1v1h-1zM559 311h1v1h-1zM561 311h1v1h-1zM563 311h1v1h-1zM565 311h1v1h-1zM567 311h1v1h-1zM569 311h1v1h-1zM571 311h1v1h-1zM573 311h1v1h-1zM575 311h1v1h-1zM577 311h1v1h-1zM579 311h1v1h-1zM581 311h1v1h-1zM583 311h1v1h-1zM585 311h1v1h-1zM587 311h1v1h-1zM589 311h1v1h-1zM591 311h1v1h-1zM593 311h1v1h-1zM595 311h1v1h-1zM597 311h1v1h-1zM599 311h1v1h-1zM601 311h1v1h-1zM603 311h1v1h-1zM605 311h1v1h-1zM607 311h1v1h-1zM609 311h1v1h-1zM611 311h1v1h-1zM613 311h1v1h-1zM615 311h1v1h-1zM617 311h1v1h-1zM619 311h1v1h-1zM621 311h1v1h-1zM623 311h1v1h-1zM625 311h1v1h-1zM627 311h1v1h-1zM629 311h1v1h-1zM631 311h1v1h-1zM633 311h1v1h-1zM635 311h1v1h-1zM637 311h1v1h-1zM639 311h1v1h-1zM641 311h1v1h-1zM643 311h1v1h-1zM645 311h1v1h-1zM647 311h1v1h-1zM649 311h1v1h-1zM651 311h1v1h-1zM653 311h1v1h-1zM655 311h1v1h-1zM657 311h1v1h-1zM659 311h1v1h-1zM661 311h1v1h-1zM663 311h1v1h-1zM665 311h1v1h-1zM667 311h1v1h-1zM669 311h1v1h-1zM671 311h1v1h-1zM673 311h1v1h-1zM675 311h1v1h-1zM677 311h1v1h-1zM679 311h1v1h-1zM681 311h1v1h-1zM683 311h1v1h-1zM685 311h1v1h-1zM687 311h1v1h-1zM689 311h1v1h-1zM691 311h1v1h-1zM693 311h1v1h-1zM695 311h1v1h-1zM697 311h1v1h-1zM699 311h1v1h-1zM701 311h1v1h-1zM703 311h1v1h-1zM705 311h1v1h-1zM707 311h1v1h-1zM709 311h1v1h-1zM711 311h1v1h-1zM713 311h1v1h-1zM715 311h1v1h-1zM717 311h1v1h-1zM719 311h1v1h-1zM721 311h1v1h-1zM723 311h1v1h-1zM725 311h1v1h-1zM727 311h1v1h-1zM729 311h1v1h-1zM731 311h1v1h-1zM733 311h1v1h-1zM735 311h1v1h-1zM737 311h1v1h-1zM739 311h1v1h-1zM741 311h1v1h-1zM743 311h1v1h-1zM745 311h1v1h-1zM747 311h1v1h-1zM749 311h1v1h-1zM751 311h1v1h-1zM753 311h1v1h-1zM755 311h1v1h-1zM757 311h1v1h-1zM759 311h1v1h-1zM761 311h1v1h-1zM763 311h1v1h-1zM765 311h1v1h-1zM767 311h1v1h-1zM769 311h1v1h-1zM771 311h1v1h-1zM773 311h1v1h-1zM775 311h1v1h-1zM777 311h1v1h-1zM779 311h1v1h-1zM781 311h1v1h-1zM783 311h1v1h-1zM785 311h1v1h-1zM787 311h1v1h-1zM19 366h1v1h-1zM21 366h1v1h-1zM23 366h1v1h-1zM25 366h1v1h-1zM27 366h1v1h-1zM29 366h1v1h-1zM31 366h1v1h-1zM33 366h1v1h-1zM35 366h1v1h-1zM37 366h1v1h-1zM39 366h1v1h-1zM41 366h1v1h-1zM43 366h1v1h-1zM45 366h1v1h-1zM47 366h1v1h-1zM49 366h1v1h-1zM51 366h1v1h-1zM53 366h1v1h-1zM55 366h1v1h-1zM57 366h1v1h-1zM59 366h1v1h-1zM61 366h1v1h-1zM63 366h1v1h-1zM65 366h1v1h-1zM67 366h1v1h-1zM69 366h1v1h-1zM71 366h1v1h-1zM73 366h1v1h-1zM75 366h1v1h-1zM77 366h1v1h-1zM79 366h1v1h-1zM81 366h1v1h-1zM83 366h1v1h-1zM85 366h1v1h-1zM87 366h1v1h-1zM89 366h1v1h-1zM91 366h1v1h-1zM93 366h1v1h-1zM95 366h1v1h-1zM97 366h1v1h-1zM99 366h1v1h-1zM101 366h1v1h-1zM103 366h1v1h-1zM105 366h1v1h-1zM107 366h1v1h-1zM109 366h1v1h-1zM111 366h1v1h-1zM113 366h1v1h-1zM115 366h1v1h-1zM117 366h1v1h-1zM119 366h1v1h-1zM121 366h1v1h-1zM123 366h1v1h-1zM125 366h1v1h-1zM127 366h1v1h-1zM129 366h1v1h-1zM131 366h1v1h-1zM133 366h1v1h-1zM135 366h1v1h-1zM137 366h1v1h-1zM139 366h1v1h-1zM141 366h1v1h-1zM143 366h1v1h-1zM145 366h1v1h-1zM147 366h1v1h-1zM149 366h1v1h-1zM151 366h1v1h-1zM153 366h1v1h-1zM155 366h1v1h-1zM157 366h1v1h-1zM159 366h1v1h-1zM161 366h1v1h-1zM163 366h1v1h-1zM165 366h1v1h-1zM167 366h1v1h-1zM169 366h1v1h-1zM171 366h1v1h-1zM173 366h1v1h-1zM175 366h1v1h-1zM177 366h1v1h-1zM179 366h1v1h-1zM181 366h1v1h-1zM183 366h1v1h-1zM185 366h1v1h-1zM187 366h1v1h-1zM189 366h1v1h-1zM191 366h1v1h-1zM193 366h1v1h-1zM195 366h1v1h-1zM197 366h1v1h-1zM199 366h1v1h-1zM201 366h1v1h-1zM203 366h1v1h-1zM205 366h1v1h-1zM207 366h1v1h-1zM209 366h1v1h-1zM211 366h1v1h-1zM213 366h1v1h-1zM215 366h1v1h-1zM217 366h1v1h-1zM219 366h1v1h-1zM221 366h1v1h-1zM223 366h1v1h-1zM225 366h1v1h-1zM227 366h1v1h-1zM229 366h1v1h-1zM231 366h1v1h-1zM233 366h1v1h-1zM235 366h1v1h-1zM237 366h1v1h-1zM239 366h1v1h-1zM241 366h1v1h-1zM243 366h1v1h-1zM245 366h1v1h-1zM247 366h1v1h-1zM249 366h1v1h-1zM251 366h1v1h-1zM253 366h1v1h-1zM255 366h1v1h-1zM257 366h1v1h-1zM259 366h1v1h-1zM261 366h1v1h-1zM263 366h1v1h-1zM265 366h1v1h-1zM267 366h1v1h-1zM269 366h1v1h-1zM271 366h1v1h-1zM273 366h1v1h-1zM275 366h1v1h-1zM277 366h1v1h-1zM279 366h1v1h-1zM281 366h1v1h-1zM283 366h1v1h-1zM285 366h1v1h-1zM287 366h1v1h-1zM289 366h1v1h-1zM291 366h1v1h-1zM293 366h1v1h-1zM295 366h1v1h-1zM297 366h1v1h-1zM299 366h1v1h-1zM301 366h1v1h-1zM303 366h1v1h-1zM305 366h1v1h-1zM307 366h1v1h-1zM309 366h1v1h-1zM311 366h1v1h-1zM313 366h1v1h-1zM315 366h1v1h-1zM317 366h1v1h-1zM319 366h1v1h-1zM321 366h1v1h-1zM323 366h1v1h-1zM325 366h1v1h-1zM327 366h1v1h-1zM329 366h1v1h-1zM331 366h1v1h-1zM333 366h1v1h-1zM335 366h1v1h-1zM337 366h1v1h-1zM339 366h1v1h-1zM341 366h1v1h-1zM343 366h1v1h-1zM345 366h1v1h-1zM347 366h1v1h-1zM349 366h1v1h-1zM351 366h1v1h-1zM353 366h1v1h-1zM355 366h1v1h-1zM357 366h1v1h-1zM359 366h1v1h-1zM361 366h1v1h-1zM363 366h1v1h-1zM365 366h1v1h-1zM367 366h1v1h-1zM369 366h1v1h-1zM371 366h1v1h-1zM373 366h1v1h-1zM375 366h1v1h-1zM377 366h1v1h-1zM379 366h1v1h-1zM381 366h1v1h-1zM383 366h1v1h-1zM385 366h1v1h-1zM387 366h1v1h-1zM389 366h1v1h-1zM391 366h1v1h-1zM393 366h1v1h-1zM395 366h1v1h-1zM397 366h1v1h-1zM399 366h1v1h-1zM401 366h1v1h-1zM403 366h1v1h-1zM405 366h1v1h-1zM407 366h1v1h-1zM409 366h1v1h-1zM411 366h1v1h-1zM413 366h1v1h-1zM415 366h1v1h-1zM417 366h1v1h-1zM419 366h1v1h-1zM421 366h1v1h-1zM423 366h1v1h-1zM425 366h1v1h-1zM427 366h1v1h-1zM429 366h1v1h-1zM431 366h1v1h-1zM433 366h1v1h-1zM435 366h1v1h-1zM437 366h1v1h-1zM439 366h1v1h-1zM441 366h1v1h-1zM443 366h1v1h-1zM445 366h1v1h-1zM447 366h1v1h-1zM449 366h1v1h-1zM451 366h1v1h-1zM453 366h1v1h-1zM455 366h1v1h-1zM457 366h1v1h-1zM459 366h1v1h-1zM461 366h1v1h-1zM463 366h1v1h-1zM465 366h1v1h-1zM467 366h1v1h-1zM469 366h1v1h-1zM471 366h1v1h-1zM473 366h1v1h-1zM475 366h1v1h-1zM477 366h1v1h-1zM479 366h1v1h-1zM481 366h1v1h-1zM483 366h1v1h-1zM485 366h1v1h-1zM487 366h1v1h-1zM489 366h1v1h-1zM491 366h1v1h-1zM493 366h1v1h-1zM495 366h1v1h-1zM497 366h1v1h-1zM499 366h1v1h-1zM501 366h1v1h-1zM503 366h1v1h-1zM505 366h1v1h-1zM507 366h1v1h-1zM509 366h1v1h-1zM511 366h1v1h-1zM513 366h1v1h-1zM515 366h1v1h-1zM517 366h1v1h-1zM519 366h1v1h-1zM521 366h1v1h-1zM523 366h1v1h-1zM525 366h1v1h-1zM527 366h1v1h-1zM529 366h1v1h-1zM531 366h1v1h-1zM533 366h1v1h-1zM535 366h1v1h-1zM537 366h1v1h-1zM539 366h1v1h-1zM541 366h1v1h-1zM543 366h1v1h-1zM545 366h1v1h-1zM547 366h1v1h-1zM549 366h1v1h-1zM551 366h1v1h-1zM553 366h1v1h-1zM555 366h1v1h-1zM557 366h1v1h-1zM559 366h1v1h-1zM561 366h1v1h-1zM563 366h1v1h-1zM565 366h1v1h-1zM567 366h1v1h-1zM569 366h1v1h-1zM571 366h1v1h-1zM573 366h1v1h-1zM575 366h1v1h-1zM577 366h1v1h-1zM579 366h1v1h-1zM581 366h1v1h-1zM583 366h1v1h-1zM585 366h1v1h-1zM587 366h1v1h-1zM589 366h1v1h-1zM591 366h1v1h-1zM593 366h1v1h-1zM595 366h1v1h-1zM597 366h1v1h-1zM599 366h1v1h-1zM601 366h1v1h-1zM603 366h1v1h-1zM605 366h1v1h-1zM607 366h1v1h-1zM609 366h1v1h-1zM611 366h1v1h-1zM613 366h1v1h-1zM615 366h1v1h-1zM617 366h1v1h-1zM619 366h1v1h-1zM621 366h1v1h-1zM623 366h1v1h-1zM625 366h1v1h-1zM627 366h1v1h-1zM629 366h1v1h-1zM631 366h1v1h-1zM633 366h1v1h-1zM635 366h1v1h-1zM637 366h1v1h-1zM639 366h1v1h-1zM641 366h1v1h-1zM643 366h1v1h-1zM645 366h1v1h-1zM647 366h1v1h-1zM649 366h1v1h-1zM651 366h1v1h-1zM653 366h1v1h-1zM655 366h1v1h-1zM657 366h1v1h-1zM659 366h1v1h-1zM661 366h1v1h-1zM663 366h1v1h-1zM665 366h1v1h-1zM667 366h1v1h-1zM669 366h1v1h-1zM671 366h1v1h-1zM673 366h1v1h-1zM675 366h1v1h-1zM677 366h1v1h-1zM679 366h1v1h-1zM681 366h1v1h-1zM683 366h1v1h-1zM685 366h1v1h-1zM687 366h1v1h-1zM689 366h1v1h-1zM691 366h1v1h-1zM693 366h1v1h-1zM695 366h1v1h-1zM697 366h1v1h-1zM699 366h1v1h-1zM701 366h1v1h-1zM703 366h1v1h-1zM705 366h1v1h-1zM707 366h1v1h-1zM709 366h1v1h-1zM711 366h1v1h-1zM713 366h1v1h-1zM715 366h1v1h-1zM717 366h1v1h-1zM719 366h1v1h-1zM721 366h1v1h-1zM723 366h1v1h-1zM725 366h1v1h-1zM727 366h1v1h-1zM729 366h1v1h-1zM731 366h1v1h-1zM733 366h1v1h-1zM735 366h1v1h-1zM737 366h1v1h-1zM739 366h1v1h-1zM741 366h1v1h-1zM743 366h1v1h-1zM745 366h1v1h-1zM747 366h1v1h-1zM749 366h1v1h-1zM751 366h1v1h-1zM753 366h1v1h-1zM755 366h1v1h-1zM757 366h1v1h-1zM759 366h1v1h-1zM761 366h1v1h-1zM763 366h1v1h-1zM765 366h1v1h-1zM767 366h1v1h-1zM769 366h1v1h-1zM771 366h1v1h-1zM773 366h1v1h-1zM775 366h1v1h-1zM777 366h1v1h-1zM779 366h1v1h-1zM781 366h1v1h-1zM783 366h1v1h-1zM785 366h1v1h-1zM787 366h1v1h-1zM19 421h1v1h-1zM21 421h1v1h-1zM23 421h1v1h-1zM25 421h1v1h-1zM27 421h1v1h-1zM29 421h1v1h-1zM31 421h1v1h-1zM33 421h1v1h-1zM35 421h1v1h-1zM37 421h1v1h-1zM39 421h1v1h-1zM41 421h1v1h-1zM43 421h1v1h-1zM45 421h1v1h-1zM47 421h1v1h-1zM49 421h1v1h-1zM51 421h1v1h-1zM53 421h1v1h-1zM55 421h1v1h-1zM57 421h1v1h-1zM59 421h1v1h-1zM61 421h1v1h-1zM63 421h1v1h-1zM65 421h1v1h-1zM67 421h1v1h-1zM69 421h1v1h-1zM71 421h1v1h-1zM73 421h1v1h-1zM75 421h1v1h-1zM77 421h1v1h-1zM79 421h1v1h-1zM81 421h1v1h-1zM83 421h1v1h-1zM85 421h1v1h-1zM87 421h1v1h-1zM89 421h1v1h-1zM91 421h1v1h-1zM93 421h1v1h-1zM95 421h1v1h-1zM97 421h1v1h-1zM99 421h1v1h-1zM101 421h1v1h-1zM103 421h1v1h-1zM105 421h1v1h-1zM107 421h1v1h-1zM109 421h1v1h-1zM111 421h1v1h-1zM113 421h1v1h-1zM115 421h1v1h-1zM117 421h1v1h-1zM119 421h1v1h-1zM121 421h1v1h-1zM123 421h1v1h-1zM125 421h1v1h-1zM127 421h1v1h-1zM129 421h1v1h-1zM131 421h1v1h-1zM133 421h1v1h-1zM135 421h1v1h-1zM137 421h1v1h-1zM139 421h1v1h-1zM141 421h1v1h-1zM143 421h1v1h-1zM145 421h1v1h-1zM147 421h1v1h-1zM149 421h1v1h-1zM151 421h1v1h-1zM153 421h1v1h-1zM155 421h1v1h-1zM157 421h1v1h-1zM159 421h1v1h-1zM161 421h1v1h-1zM163 421h1v1h-1zM165 421h1v1h-1zM167 421h1v1h-1zM169 421h1v1h-1zM171 421h1v1h-1zM173 421h1v1h-1zM175 421h1v1h-1zM177 421h1v1h-1zM179 421h1v1h-1zM181 421h1v1h-1zM183 421h1v1h-1zM185 421h1v1h-1zM187 421h1v1h-1zM189 421h1v1h-1zM191 421h1v1h-1zM193 421h1v1h-1zM195 421h1v1h-1zM197 421h1v1h-1zM199 421h1v1h-1zM201 421h1v1h-1zM203 421h1v1h-1zM205 421h1v1h-1zM207 421h1v1h-1zM209 421h1v1h-1zM211 421h1v1h-1zM213 421h1v1h-1zM215 421h1v1h-1zM217 421h1v1h-1zM219 421h1v1h-1zM221 421h1v1h-1zM223 421h1v1h-1zM225 421h1v1h-1zM227 421h1v1h-1zM229 421h1v1h-1zM231 421h1v1h-1zM233 421h1v1h-1zM235 421h1v1h-1zM237 421h1v1h-1zM239 421h1v1h-1zM241 421h1v1h-1zM243 421h1v1h-1zM245 421h1v1h-1zM247 421h1v1h-1zM249 421h1v1h-1zM251 421h1v1h-1zM253 421h1v1h-1zM255 421h1v1h-1zM257 421h1v1h-1zM259 421h1v1h-1zM261 421h1v1h-1zM263 421h1v1h-1zM265 421h1v1h-1zM267 421h1v1h-1zM269 421h1v1h-1zM271 421h1v1h-1zM273 421h1v1h-1zM275 421h1v1h-1zM277 421h1v1h-1zM279 421h1v1h-1zM281 421h1v1h-1zM283 421h1v1h-1zM285 421h1v1h-1zM287 421h1v1h-1zM289 421h1v1h-1zM291 421h1v1h-1zM293 421h1v1h-1zM295 421h1v1h-1zM297 421h1v1h-1zM299 421h1v1h-1zM301 421h1v1h-1zM303 421h1v1h-1zM305 421h1v1h-1zM307 421h1v1h-1zM309 421h1v1h-1zM311 421h1v1h-1zM313 421h1v1h-1zM315 421h1v1h-1zM317 421h1v1h-1zM319 421h1v1h-1zM321 421h1v1h-1zM323 421h1v1h-1zM325 421h1v1h-1zM327 421h1v1h-1zM329 421h1v1h-1zM331 421h1v1h-1zM333 421h1v1h-1zM335 421h1v1h-1zM337 421h1v1h-1zM339 421h1v1h-1zM341 421h1v1h-1zM343 421h1v1h-1zM345 421h1v1h-1zM347 421h1v1h-1zM349 421h1v1h-1zM351 421h1v1h-1zM353 421h1v1h-1zM355 421h1v1h-1zM357 421h1v1h-1zM359 421h1v1h-1zM361 421h1v1h-1zM363 421h1v1h-1zM365 421h1v1h-1zM367 421h1v1h-1zM369 421h1v1h-1zM371 421h1v1h-1zM373 421h1v1h-1zM375 421h1v1h-1zM377 421h1v1h-1zM379 421h1v1h-1zM381 421h1v1h-1zM383 421h1v1h-1zM385 421h1v1h-1zM387 421h1v1h-1zM389 421h1v1h-1zM391 421h1v1h-1zM393 421h1v1h-1zM395 421h1v1h-1zM397 421h1v1h-1zM399 421h1v1h-1zM401 421h1v1h-1zM403 421h1v1h-1zM405 421h1v1h-1zM407 421h1v1h-1zM409 421h1v1h-1zM411 421h1v1h-1zM413 421h1v1h-1zM415 421h1v1h-1zM417 421h1v1h-1zM419 421h1v1h-1zM421 421h1v1h-1zM423 421h1v1h-1zM425 421h1v1h-1zM427 421h1v1h-1zM429 421h1v1h-1zM431 421h1v1h-1zM433 421h1v1h-1zM435 421h1v1h-1zM437 421h1v1h-1zM439 421h1v1h-1zM441 421h1v1h-1zM443 421h1v1h-1zM445 421h1v1h-1zM447 421h1v1h-1zM449 421h1v1h-1zM451 421h1v1h-1zM453 421h1v1h-1zM455 421h1v1h-1zM457 421h1v1h-1zM459 421h1v1h-1zM461 421h1v1h-1zM463 421h1v1h-1zM465 421h1v1h-1zM467 421h1v1h-1zM469 421h1v1h-1zM471 421h1v1h-1zM473 421h1v1h-1zM475 421h1v1h-1zM477 421h1v1h-1zM479 421h1v1h-1zM481 421h1v1h-1zM483 421h1v1h-1zM485 421h1v1h-1zM487 421h1v1h-1zM489 421h1v1h-1zM491 421h1v1h-1zM493 421h1v1h-1zM495 421h1v1h-1zM497 421h1v1h-1zM499 421h1v1h-1zM501 421h1v1h-1zM503 421h1v1h-1zM505 421h1v1h-1zM507 421h1v1h-1zM509 421h1v1h-1zM511 421h1v1h-1zM513 421h1v1h-1zM515 421h1v1h-1zM517 421h1v1h-1zM519 421h1v1h-1zM521 421h1v1h-1zM523 421h1v1h-1zM525 421h1v1h-1zM527 421h1v1h-1zM529 421h1v1h-1zM531 421h1v1h-1zM533 421h1v1h-1zM535 421h1v1h-1zM537 421h1v1h-1zM539 421h1v1h-1zM541 421h1v1h-1zM543 421h1v1h-1zM545 421h1v1h-1zM547 421h1v1h-1zM549 421h1v1h-1zM551 421h1v1h-1zM553 421h1v1h-1zM555 421h1v1h-1zM557 421h1v1h-1zM559 421h1v1h-1zM561 421h1v1h-1zM563 421h1v1h-1zM565 421h1v1h-1zM567 421h1v1h-1zM569 421h1v1h-1zM571 421h1v1h-1zM573 421h1v1h-1zM575 421h1v1h-1zM577 421h1v1h-1zM579 421h1v1h-1zM581 421h1v1h-1zM583 421h1v1h-1zM585 421h1v1h-1zM587 421h1v1h-1zM589 421h1v1h-1zM591 421h1v1h-1zM593 421h1v1h-1zM595 421h1v1h-1zM597 421h1v1h-1zM599 421h1v1h-1zM601 421h1v1h-1zM603 421h1v1h-1zM605 421h1v1h-1zM607 421h1v1h-1zM609 421h1v1h-1zM611 421h1v1h-1zM613 421h1v1h-1zM615 421h1v1h-1zM617 421h1v1h-1zM619 421h1v1h-1zM621 421h1v1h-1zM623 421h1v1h-1zM625 421h1v1h-1zM627 421h1v1h-1zM629 421h1v1h-1zM631 421h1v1h-1zM633 421h1v1h-1zM635 421h1v1h-1zM637 421h1v1h-1zM639 421h1v1h-1zM641 421h1v1h-1zM643 421h1v1h-1zM645 421h1v1h-1zM647 421h1v1h-1zM649 421h1v1h-1zM651 421h1v1h-1zM653 421h1v1h-1zM655 421h1v1h-1zM657 421h1v1h-1zM659 421h1v1h-1zM661 421h1v1h-1zM663 421h1v1h-1zM665 421h1v1h-1zM667 421h1v1h-1zM669 421h1v1h-1zM671 421h1v1h-1zM673 421h1v1h-1zM675 421h1v1h-1zM677 421h1v1h-1zM679 421h1v1h-1zM681 421h1v1h-1zM683 421h1v1h-1zM685 421h1v1h-1zM687 421h1v1h-1zM689 421h1v1h-1zM691 421h1v1h-1zM693 421h1v1h-1zM695 421h1v1h-1zM697 421h1v1h-1zM699 421h1v1h-1zM701 421h1v1h-1zM703 421h1v1h-1zM705 421h1v1h-1zM707 421h1v1h-1zM709 421h1v1h-1zM711 421h1v1h-1zM713 421h1v1h-1zM715 421h1v1h-1zM717 421h1v1h-1zM719 421h1v1h-1zM721 421h1v1h-1zM723 421h1v1h-1zM725 421h1v1h-1zM727 421h1v1h-1zM729 421h1v1h-1zM731 421h1v1h-1zM733 421h1v1h-1zM735 421h1v1h-1zM737 421h1v1h-1zM739 421h1v1h-1zM741 421h1v1h-1zM743 421h1v1h-1zM745 421h1v1h-1zM747 421h1v1h-1zM749 421h1v1h-1zM751 421h1v1h-1zM753 421h1v1h-1zM755 421h1v1h-1zM757 421h1v1h-1zM759 421h1v1h-1zM761 421h1v1h-1zM763 421h1v1h-1zM765 421h1v1h-1zM767 421h1v1h-1zM769 421h1v1h-1zM771 421h1v1h-1zM773 421h1v1h-1zM775 421h1v1h-1zM777 421h1v1h-1zM779 421h1v1h-1zM781 421h1v1h-1zM783 421h1v1h-1zM785 421h1v1h-1zM787 421h1v1h-1zM32 120h1v1h-1zM48 120h1v1h-1zM63 120h1v1h-1zM79 120h1v1h-1zM110 120h1v1h-1zM125 120h1v1h-1zM141 120h1v1h-1zM156 120h1v1h-1zM187 120h1v1h-1zM202 120h1v1h-1zM218 120h1v1h-1zM233 120h1v1h-1zM264 120h1v1h-1zM279 120h1v1h-1zM295 120h1v1h-1zM310 120h1v1h-1zM341 120h1v1h-1zM357 120h1v1h-1zM372 120h1v1h-1zM388 120h1v1h-1zM418 120h1v1h-1zM434 120h1v1h-1zM449 120h1v1h-1zM465 120h1v1h-1zM496 120h1v1h-1zM511 120h1v1h-1zM527 120h1v1h-1zM542 120h1v1h-1zM573 120h1v1h-1zM588 120h1v1h-1zM604 120h1v1h-1zM619 120h1v1h-1zM650 120h1v1h-1zM665 120h1v1h-1zM681 120h1v1h-1zM696 120h1v1h-1zM727 120h1v1h-1zM743 120h1v1h-1zM758 120h1v1h-1zM774 120h1v1h-1zM32 393h1v1h-1zM48 393h1v1h-1zM63 393h1v1h-1zM79 393h1v1h-1zM110 393h1v1h-1zM125 393h1v1h-1zM141 393h1v1h-1zM156 393h1v1h-1zM187 393h1v1h-1zM202 393h1v1h-1zM218 393h1v1h-1zM233 393h1v1h-1zM264 393h1v1h-1zM279 393h1v1h-1zM295 393h1v1h-1zM310 393h1v1h-1zM341 393h1v1h-1zM357 393h1v1h-1zM372 393h1v1h-1zM388 393h1v1h-1zM418 393h1v1h-1zM434 393h1v1h-1zM449 393h1v1h-1zM465 393h1v1h-1zM496 393h1v1h-1zM511 393h1v1h-1zM527 393h1v1h-1zM542 393h1v1h-1zM573 393h1v1h-1zM588 393h1v1h-1zM604 393h1v1h-1zM619 393h1v1h-1zM650 393h1v1h-1zM665 393h1v1h-1zM681 393h1v1h-1zM696 393h1v1h-1zM727 393h1v1h-1zM743 393h1v1h-1zM758 393h1v1h-1zM774 393h1v1h-1z" fill="#8c8c8c"/><path d="M17 257h772v1h-772zM403 38h1v437h-1zM32 255h1v5h-1zM48 255h1v5h-1zM63 255h1v5h-1zM79 255h1v5h-1zM109 255h1v5h-1zM125 255h1v5h-1zM140 255h1v5h-1zM156 255h1v5h-1zM186 255h1v5h-1zM202 255h1v5h-1zM217 255h1v5h-1zM233 255h1v5h-1zM264 255h1v5h-1zM279 255h1v5h-1zM295 255h1v5h-1zM310 255h1v5h-1zM341 255h1v5h-1zM357 255h1v5h-1zM372 255h1v5h-1zM388 255h1v5h-1zM418 255h1v5h-1zM434 255h1v5h-1zM449 255h1v5h-1zM465 255h1v5h-1zM496 255h1v5h-1zM511 255h1v5h-1zM527 255h1v5h-1zM542 255h1v5h-1zM573 255h1v5h-1zM589 255h1v5h-1zM604 255h1v5h-1zM620 255h1v5h-1zM650 255h1v5h-1zM666 255h1v5h-1zM681 255h1v5h-1zM697 255h1v5h-1zM727 255h1v5h-1zM743 255h1v5h-1zM758 255h1v5h-1zM774 255h1v5h-1zM401 48h5v1h-5zM401 59h5v1h-5zM401 70h5v1h-5zM401 81h5v1h-5zM401 103h5v1h-5zM401 114h5v1h-5zM401 125h5v1h-5zM401 136h5v1h-5zM401 158h5v1h-5zM401 169h5v1h-5zM401 180h5v1h-5zM401 191h5v1h-5zM401 213h5v1h-5zM401 224h5v1h-5zM401 235h5v1h-5zM401 246h5v1h-5zM401 267h5v1h-5zM401 278h5v1h-5zM401 289h5v1h-5zM401 300h5v1h-5zM401 322h5v1h-5zM401 333h5v1h-5zM401 344h5v1h-5zM401 355h5v1h-5zM401 377h5v1h-5zM401 388h5v1h-5zM401 399h5v1h-5zM401 410h5v1h-5zM401 431h5v1h-5zM401 442h5v1h-5zM401 453h5v1h-5zM401 464h5v1h-5zM94 255h1v5h-1zM171 255h1v5h-1zM248 255h1v5h-1zM326 255h1v5h-1zM403 255h1v5h-1zM480 255h1v5h-1zM558 255h1v5h-1zM635 255h1v5h-1zM712 255h1v5h-1zM401 92h5v1h-5zM401 147h5v1h-5zM401 202h5v1h-5zM401 257h5v1h-5zM401 311h5v1h-5zM401 366h5v1h-5zM401 421h5v1h-5z" fill="#999999"/><rect x="17.5" y="38.5" width="772" height="437" fill="none" stroke="#a0a0a0" stroke-width="1"/><path d="M17 364h1v1h-1zM18 364h1v1h-1zM19 364h1v1h-1zM20 364h1v1h-1zM21 364h1v1h-1zM22 364h1v1h-1zM23 364h1v1h-1zM24 364h1v1h-1zM25 364h1v1h-1zM26 364h1v1h-1zM27 364h1v1h-1zM28 364h1v1h-1zM29 364h1v1h-1zM30 364h1v1h-1zM31 364h1v1h-1zM32 364h1v1h-1zM33 364h1v1h-1zM34 364h1v1h-1zM35 364h1v1h-1zM36 364h1v1h-1zM37 364h1v1h-1zM38 364h1v1h-1zM39 364h1v1h-1zM40 364h1v1h-1zM41 364h1v1h-1zM42 364h1v1h-1zM43 364h1v1h-1zM44 364h1v1h-1zM45 364h1v1h-1zM46 364h1v1h-1zM47 364h1v1h-1zM48 364h1v1h-1zM49 364h1v1h-1zM50 364h1v1h-1zM51 364h1v1h-1zM52 364h1v1h-1zM53 364h1v1h-1zM54 364h1v1h-1zM55 364h1v1h-1zM56 364h1v1h-1zM57 364h1v1h-1zM58 364h1v1h-1zM59 364h1v1h-1zM60 364h1v1h-1zM61 364h1v1h-1zM62 364h1v1h-1zM63 364h1v1h-1zM64 364h1v1h-1zM65 364h1v1h-1zM66 364h1v1h-1zM67 364h1v1h-1zM68 364h1v1h-1zM69 364h1v1h-1zM70 364h1v1h-1zM71 364h1v1h-1zM72 364h1v1h-1zM73 364h1v1h-1zM74 364h1v1h-1zM75 364h1v1h-1zM76 364h1v1h-1zM77 364h1v1h-1zM78 364h1v1h-1zM79 364h1v1h-1zM80 364h1v1h-1zM81 364h1v1h-1zM82 364h1v1h-1zM83 364h1v1h-1zM84 364h1v1h-1zM85 364h1v1h-1zM86 364h1v1h-1zM87 364h1v1h-1zM88 364h1v1h-1zM89 364h1v1h-1zM90 364h1v1h-1zM91 364h1v1h-1zM92 364h1v1h-1zM93 364h1v1h-1zM94 364h1v1h-1zM95 364h1v1h-1zM96 364h1v1h-1zM97 364h1v1h-1zM98 364h1v1h-1zM99 364h1v1h-1zM100 364h1v1h-1zM101 364h1v1h-1zM102 364h1v1h-1zM103 364h1v1h-1zM104 364h1v1h-1zM105 364h1v1h-1zM106 364h1v1h-1zM107 364h1v1h-1zM108 364h1v1h-1zM109 364h1v1h-1zM110 364h1v1h-1zM111 364h1v1h-1zM112 364h1v1h-1zM113 364h1v1h-1zM114 364h1v1h-1zM115 364h1v1h-1zM116 364h1v1h-1zM117 364h1v1h-1zM118 364h1v1h-1zM119 364h1v1h-1zM120 364h1v1h-1zM121 364h1v1h-1zM122 364h1v1h-1zM123 364h1v1h-1zM124 364h1v1h-1zM125 364h1v1h-1zM126 364h1v1h-1zM127 364h1v1h-1zM128 364h1v1h-1zM129 364h1v1h-1zM130 364h1v1h-1zM131 364h1v1h-1zM132 364h1v1h-1zM133 364h1v1h-1zM134 364h1v1h-1zM135 364h1v1h-1zM136 364h1v1h-1zM137 364h1v1h-1zM138 364h1v1h-1zM139 364h1v1h-1zM140 364h1v1h-1zM141 364h1v1h-1zM142 364h1v1h-1zM143 364h1v1h-1zM144 364h1v1h-1zM145 364h1v1h-1zM146 364h1v1h-1zM147 364h1v1h-1zM148 364h1v1h-1zM149 364h1v1h-1zM150 364h1v1h-1zM151 364h1v1h-1zM152 364h1v1h-1zM153 364h1v1h-1zM154 364h1v1h-1zM155 364h1v1h-1zM156 364h1v1h-1zM157 364h1v1h-1zM158 364h1v1h-1zM159 364h1v1h-1zM160 364h1v1h-1zM161 364h1v1h-1zM162 364h1v1h-1zM163 364h1v1h-1zM164 364h1v1h-1zM165 364h1v1h-1zM166 364h1v1h-1zM167 364h1v1h-1zM168 364h1v1h-1zM169 364h1v1h-1zM170 364h1v1h-1zM171 364h1v1h-1zM172 364h1v1h-1zM173 364h1v1h-1zM174 364h1v1h-1zM175 364h1v1h-1zM176 364h1v1h-1zM177 364h1v1h-1zM178 364h1v1h-1zM179 364h1v1h-1zM180 364h1v1h-1zM181 364h1v1h-1zM182 364h1v1h-1zM183 364h1v1h-1zM184 364h1v1h-1zM185 364h1v1h-1zM186 364h1v1h-1zM187 364h1v1h-1zM188 364h1v1h-1zM189 364h1v1h-1zM190 364h1v1h-1zM191 364h1v1h-1zM192 364h1v1h-1zM193 364h1v1h-1zM194 364h1v1h-1zM195 364h1v1h-1zM196 364h1v1h-1zM197 364h1v1h-1zM198 364h1v1h-1zM199 364h1v1h-1zM200 364h1v1h-1zM201 364h1v1h-1zM202 364h1v1h-1zM203 364h1v1h-1zM204 364h1v1h-1zM205 364h1v1h-1zM206 364h1v1h-1zM207 364h1v1h-1zM208 364h1v1h-1zM209 364h1v1h-1zM210 364h1v1h-1zM211 364h1v1h-1zM212 364h1v1h-1zM213 364h1v1h-1zM214 364h1v1h-1zM215 364h1v1h-1zM216 364h1v1h-1zM217 364h1v1h-1zM218 364h1v1h-1zM219 364h1v1h-1zM220 364h1v1h-1zM221 364h1v1h-1zM222 364h1v1h-1zM223 364h1v1h-1zM224 364h1v1h-1zM225 364h1v1h-1zM226 364h1v1h-1zM227 364h1v1h-1zM228 364h1v1h-1zM229 364h1v1h-1zM230 364h1v1h-1zM231 364h1v1h-1zM232 364h1v1h-1zM233 364h1v1h-1zM234 364h1v1h-1zM235 364h1v1h-1zM236 364h1v1h-1zM237 364h1v1h-1zM238 364h1v1h-1zM239 364h1v1h-1zM240 364h1v1h-1zM241 364h1v1h-1zM242 364h1v1h-1zM243 364h1v1h-1zM244 364h1v1h-1zM245 364h1v1h-1zM246 364h1v1h-1zM247 364h1v1h-1zM248 364h1v1h-1zM249 364h1v1h-1zM250 364h1v1h-1zM251 364h1v1h-1zM252 364h1v1h-1zM253 364h1v1h-1zM254 364h1v1h-1zM255 364h1v1h-1zM256 364h1v1h-1zM257 364h1v1h-1zM258 364h1v1h-1zM259 233h1v132h-1zM260 231h1v2h-1zM261 232h1v1h-1zM262 232h1v1h-1zM263 232h1v1h-1zM264 232h1v1h-1zM265 232h1v1h-1zM266 232h1v1h-1zM267 232h1v1h-1zM268 232h1v4h-1zM269 235h1v11h-1zM270 245h1v10h-1zM271 254h1v9h-1zM272 262h1v9h-1zM273 270h1v8h-1zM274 277h1v9h-1zM275 285h1v8h-1zM276 234h1v59h-1zM277 231h1v3h-1zM278 232h1v1h-1zM279 232h1v1h-1zM280 232h1v1h-1zM281 232h1v1h-1zM282 232h1v1h-1zM283 232h1v1h-1zM284 232h1v1h-1zM285 232h1v1h-1zM286 232h1v1h-1zM287 232h1v1h-1zM288 232h1v1h-1zM289 232h1v5h-1zM290 233h1v11h-1zM291 231h1v4h-1zM292 232h1v1h-1zM293 232h1v1h-1zM294 232h1v1h-1zM295 231h1v2h-1zM296 232h1v1h-1zM297 232h1v1h-1zM298 232h1v1h-1zM299 232h1v1h-1zM300 231h1v2h-1zM301 232h1v1h-1zM302 232h1v1h-1zM303 232h1v1h-1zM304 232h1v1h-1zM305 231h1v2h-1zM306 232h1v1h-1zM307 232h1v1h-1zM308 232h1v1h-1zM309 232h1v1h-1zM310 232h1v5h-1zM311 235h1v2h-1zM312 233h1v2h-1zM313 233h1v1h-1zM314 233h1v1h-1zM315 233h1v1h-1zM316 232h1v1h-1zM317 232h1v1h-1zM318 232h1v1h-1zM319 232h1v1h-1zM320 232h1v1h-1zM321 232h1v1h-1zM322 232h1v1h-1zM323 232h1v1h-1zM324 232h1v1h-1zM325 232h1v1h-1zM326 232h1v1h-1zM327 232h1v1h-1zM328 232h1v1h-1zM329 232h1v1h-1zM330 232h1v1h-1zM331 232h1v1h-1zM332 232h1v1h-1zM333 232h1v1h-1zM334 232h1v1h-1zM335 232h1v1h-1zM336 232h1v1h-1zM337 232h1v1h-1zM338 232h1v1h-1zM339 232h1v1h-1zM340 232h1v1h-1zM341 232h1v1h-1zM342 232h1v1h-1zM343 232h1v1h-1zM344 232h1v1h-1zM345 232h1v1h-1zM346 232h1v1h-1zM347 232h1v1h-1zM348 232h1v1h-1zM349 232h1v1h-1zM350 232h1v1h-1zM351 232h1v1h-1zM352 232h1v1h-1zM353 232h1v1h-1zM354 232h1v1h-1zM355 232h1v1h-1zM356 232h1v1h-1zM357 232h1v1h-1zM358 232h1v1h-1zM359 232h1v1h-1zM360 232h1v1h-1zM361 232h1v1h-1zM362 232h1v1h-1zM363 232h1v1h-1zM364 232h1v1h-1zM365 232h1v1h-1zM366 232h1v1h-1zM367 232h1v1h-1zM368 232h1v1h-1zM369 232h1v1h-1zM370 232h1v1h-1zM371 232h1v1h-1zM372 232h1v1h-1zM373 232h1v1h-1zM374 232h1v1h-1zM375 232h1v1h-1zM376 232h1v1h-1zM377 232h1v1h-1zM378 232h1v1h-1zM379 232h1v1h-1zM380 232h1v1h-1zM381 232h1v1h-1zM382 232h1v2h-1zM383 233h1v1h-1zM384 233h1v1h-1zM385 233h1v1h-1zM386 233h1v1h-1zM387 233h1v1h-1zM388 233h1v1h-1zM389 233h1v1h-1zM390 233h1v1h-1zM391 233h1v1h-1zM392 233h1v1h-1zM393 233h1v1h-1zM394 233h1v1h-1zM395 233h1v1h-1zM396 233h1v1h-1zM397 233h1v1h-1zM398 233h1v1h-1zM399 233h1v1h-1zM400 233h1v2h-1zM401 234h1v1h-1zM402 234h1v1h-1zM403 234h1v1h-1zM404 234h1v1h-1zM405 234h1v1h-1zM406 234h1v1h-1zM407 234h1v1h-1zM408 234h1v1h-1zM409 234h1v1h-1zM410 234h1v1h-1zM411 234h1v1h-1zM412 234h1v1h-1zM413 234h1v2h-1zM414 235h1v1h-1zM415 235h1v1h-1zM416 235h1v1h-1zM417 235h1v1h-1zM418 235h1v1h-1zM419 235h1v1h-1zM420 235h1v1h-1zM421 235h1v1h-1zM422 235h1v1h-1zM423 235h1v1h-1zM424 235h1v1h-1zM425 235h1v1h-1zM426 235h1v1h-1zM427 235h1v1h-1zM428 235h1v2h-1zM429 236h1v1h-1zM430 236h1v1h-1zM431 236h1v1h-1zM432 236h1v1h-1zM433 236h1v1h-1zM434 236h1v2h-1zM435 237h1v1h-1zM436 237h1v1h-1zM437 237h1v2h-1zM438 238h1v1h-1zM439 238h1v1h-1zM440 238h1v1h-1zM441 238h1v1h-1zM442 238h1v2h-1zM443 239h1v1h-1zM444 239h1v1h-1zM445 239h1v1h-1zM446 239h1v2h-1zM447 240h1v1h-1zM448 240h1v1h-1zM449 240h1v1h-1zM450 240h1v1h-1zM451 240h1v1h-1zM452 240h1v1h-1zM453 240h1v1h-1zM454 240h1v2h-1zM455 241h1v1h-1zM456 241h1v1h-1zM457 241h1v1h-1zM458 241h1v1h-1zM459 241h1v1h-1zM460 241h1v1h-1zM461 241h1v1h-1zM462 241h1v1h-1zM463 241h1v1h-1zM464 241h1v1h-1zM465 241h1v1h-1zM466 241h1v1h-1zM467 241h1v1h-1zM468 241h1v1h-1zM469 241h1v1h-1zM470 241h1v1h-1zM471 241h1v1h-1zM472 241h1v1h-1zM473 241h1v1h-1zM474 241h1v1h-1zM475 241h1v1h-1zM476 241h1v1h-1zM477 241h1v1h-1zM478 241h1v1h-1zM479 241h1v1h-1zM474 241h1v2h-1zM475 242h1v1h-1zM476 242h1v1h-1zM478 241h1v2h-1zM480 194h1v48h-1zM481 209h1v19h-1zM482 226h1v1h-1zM483 226h1v1h-1zM484 226h1v1h-1zM485 226h1v3h-1zM486 228h1v2h-1zM487 229h1v2h-1zM488 230h1v2h-1zM489 231h1v1h-1zM490 231h1v1h-1zM491 231h1v1h-1zM492 231h1v1h-1zM493 231h1v1h-1zM494 230h1v2h-1zM495 230h1v1h-1zM496 230h1v1h-1zM497 230h1v1h-1zM498 230h1v1h-1zM499 230h1v1h-1zM500 230h1v2h-1zM501 231h1v1h-1zM502 231h1v1h-1zM503 231h1v1h-1zM504 231h1v1h-1zM505 231h1v1h-1zM506 231h1v1h-1zM507 231h1v1h-1zM508 231h1v1h-1zM509 231h1v1h-1zM510 231h1v1h-1zM511 231h1v1h-1zM512 231h1v1h-1zM513 231h1v1h-1zM514 231h1v1h-1zM515 231h1v1h-1zM516 231h1v1h-1zM517 231h1v1h-1zM518 231h1v2h-1zM519 232h1v1h-1zM520 232h1v1h-1zM521 232h1v1h-1zM522 232h1v1h-1zM523 232h1v1h-1zM524 232h1v1h-1zM525 232h1v1h-1zM526 232h1v1h-1zM527 232h1v1h-1zM528 232h1v1h-1zM529 232h1v1h-1zM530 232h1v1h-1zM531 232h1v1h-1zM532 232h1v1h-1zM533 232h1v1h-1zM534 232h1v1h-1zM535 232h1v1h-1zM536 232h1v1h-1zM537 232h1v1h-1zM538 232h1v1h-1zM539 232h1v1h-1zM540 232h1v1h-1zM541 232h1v1h-1zM542 232h1v1h-1zM543 232h1v1h-1zM544 232h1v1h-1zM545 232h1v1h-1zM546 232h1v1h-1zM547 232h1v1h-1zM548 232h1v1h-1zM549 232h1v1h-1zM550 232h1v1h-1zM551 232h1v1h-1zM552 232h1v1h-1zM553 232h1v1h-1zM554 232h1v1h-1zM555 232h1v1h-1zM556 232h1v1h-1zM557 232h1v1h-1zM558 232h1v1h-1zM559 232h1v1h-1zM560 232h1v1h-1zM561 232h1v1h-1zM562 232h1v1h-1zM563 232h1v1h-1zM564 232h1v1h-1zM565 232h1v1h-1zM566 232h1v1h-1zM567 232h1v1h-1zM568 232h1v1h-1zM569 232h1v1h-1zM570 232h1v1h-1zM571 232h1v1h-1zM572 232h1v1h-1zM573 232h1v1h-1zM574 232h1v1h-1zM575 232h1v1h-1zM576 232h1v1h-1zM577 232h1v1h-1zM578 232h1v1h-1zM579 232h1v1h-1zM580 232h1v1h-1zM581 232h1v1h-1zM582 232h1v1h-1zM583 232h1v1h-1zM584 232h1v1h-1zM585 232h1v1h-1zM586 232h1v1h-1zM587 232h1v1h-1zM588 232h1v1h-1zM589 232h1v1h-1zM590 232h1v1h-1zM591 232h1v1h-1zM592 232h1v1h-1zM593 232h1v1h-1zM594 232h1v1h-1zM595 232h1v1h-1zM596 232h1v1h-1zM597 232h1v1h-1zM598 232h1v1h-1zM599 232h1v1h-1zM600 232h1v1h-1zM601 232h1v1h-1zM602 232h1v1h-1zM603 232h1v1h-1zM604 232h1v1h-1zM605 232h1v1h-1zM606 232h1v1h-1zM607 232h1v1h-1zM608 232h1v1h-1zM609 232h1v1h-1zM610 232h1v1h-1zM611 232h1v1h-1zM612 232h1v1h-1zM613 232h1v1h-1zM614 232h1v1h-1zM615 232h1v1h-1zM616 232h1v1h-1zM617 232h1v1h-1zM618 232h1v1h-1zM619 232h1v1h-1zM620 232h1v1h-1zM621 232h1v1h-1zM622 232h1v1h-1zM623 232h1v1h-1zM624 232h1v1h-1zM625 232h1v1h-1zM626 232h1v1h-1zM627 232h1v1h-1zM628 232h1v1h-1zM629 232h1v1h-1zM630 232h1v1h-1zM631 232h1v1h-1zM632 232h1v1h-1zM633 232h1v1h-1zM634 232h1v1h-1zM635 232h1v1h-1zM636 232h1v1h-1zM637 232h1v1h-1zM638 232h1v1h-1zM639 232h1v1h-1zM640 232h1v1h-1zM641 232h1v1h-1zM642 232h1v1h-1zM643 232h1v1h-1zM644 232h1v1h-1zM645 232h1v1h-1zM646 232h1v1h-1zM647 232h1v1h-1zM648 232h1v1h-1zM649 232h1v1h-1zM650 232h1v1h-1zM651 232h1v1h-1zM652 232h1v1h-1zM653 232h1v1h-1zM654 232h1v1h-1zM655 232h1v1h-1zM656 232h1v1h-1zM657 232h1v1h-1zM658 232h1v1h-1zM659 232h1v1h-1zM660 232h1v1h-1zM661 232h1v1h-1zM662 232h1v1h-1zM663 232h1v1h-1zM664 232h1v1h-1zM665 232h1v1h-1zM666 232h1v1h-1zM667 232h1v1h-1zM668 232h1v1h-1zM669 232h1v1h-1zM670 232h1v1h-1zM671 232h1v1h-1zM672 232h1v1h-1zM673 232h1v1h-1zM674 232h1v1h-1zM675 232h1v1h-1zM676 232h1v1h-1zM677 232h1v1h-1zM678 232h1v1h-1zM679 232h1v1h-1zM680 232h1v1h-1zM681 232h1v1h-1zM682 232h1v1h-1zM683 232h1v1h-1zM684 232h1v1h-1zM685 232h1v1h-1zM686 232h1v1h-1zM687 232h1v1h-1zM688 232h1v1h-1zM689 232h1v1h-1zM690 232h1v1h-1zM691 232h1v1h-1zM692 232h1v1h-1zM693 232h1v1h-1zM694 232h1v1h-1zM695 232h1v1h-1zM696 232h1v1h-1zM697 232h1v1h-1zM698 232h1v1h-1zM699 232h1v1h-1zM700 232h1v1h-1zM701 232h1v1h-1zM702 232h1v1h-1zM703 232h1v1h-1zM704 232h1v1h-1zM705 232h1v1h-1zM706 232h1v1h-1zM707 232h1v1h-1zM708 232h1v1h-1zM709 232h1v1h-1zM710 232h1v1h-1zM711 232h1v1h-1zM712 232h1v1h-1zM713 232h1v1h-1zM714 232h1v1h-1zM715 232h1v1h-1zM716 232h1v1h-1zM717 232h1v1h-1zM718 232h1v1h-1zM719 232h1v1h-1zM720 232h1v1h-1zM721 232h1v1h-1zM722 232h1v1h-1zM723 232h1v1h-1zM724 232h1v1h-1zM725 232h1v1h-1zM726 232h1v1h-1zM727 232h1v1h-1zM728 232h1v1h-1zM729 232h1v1h-1zM730 232h1v1h-1zM731 232h1v1h-1zM732 232h1v1h-1zM733 232h1v1h-1zM734 232h1v1h-1zM735 232h1v1h-1zM736 232h1v1h-1zM737 232h1v1h-1zM738 232h1v1h-1zM739 232h1v1h-1zM740 232h1v1h-1zM741 232h1v1h-1zM742 232h1v1h-1zM743 232h1v1h-1zM744 232h1v1h-1zM745 232h1v1h-1zM746 232h1v1h-1zM747 232h1v1h-1zM748 232h1v1h-1zM749 232h1v1h-1zM750 232h1v1h-1zM751 232h1v1h-1zM752 232h1v1h-1zM753 232h1v1h-1zM754 232h1v1h-1zM755 232h1v1h-1zM756 232h1v1h-1zM757 232h1v1h-1zM758 232h1v1h-1zM759 232h1v1h-1zM760 232h1v1h-1zM761 232h1v1h-1zM762 232h1v1h-1zM763 232h1v1h-1zM764 232h1v1h-1zM765 232h1v1h-1zM766 232h1v1h-1zM767 232h1v1h-1zM768 232h1v1h-1zM769 232h1v1h-1zM770 232h1v1h-1zM771 232h1v1h-1zM772 232h1v1h-1zM773 232h1v1h-1zM774 232h1v1h-1zM775 232h1v1h-1zM776 232h1v1h-1zM777 232h1v1h-1zM778 232h1v1h-1zM779 232h1v1h-1zM780 232h1v1h-1zM781 232h1v1h-1zM782 232h1v1h-1zM783 232h1v1h-1zM784 232h1v1h-1zM785 232h1v1h-1zM786 232h1v1h-1zM787 232h1v1h-1zM788 232h1v1h-1zM326 231h1v1h-1zM330 231h1v1h-1zM332 231h1v1h-1zM335 231h1v1h-1zM340 231h1v1h-1zM341 231h1v1h-1zM343 231h1v1h-1zM344 231h1v1h-1zM345 231h1v1h-1zM346 231h1v1h-1zM355 231h1v1h-1zM361 231h1v1h-1zM362 231h1v1h-1zM363 231h1v1h-1zM370 231h1v1h-1zM371 231h1v1h-1zM376 231h1v1h-1zM379 231h1v1h-1zM380 231h1v1h-1zM384 232h1v1h-1zM385 232h1v1h-1zM386 232h1v1h-1zM387 232h1v1h-1zM389 232h1v1h-1zM392 232h1v1h-1zM394 232h1v1h-1zM396 232h1v1h-1zM398 232h1v1h-1zM399 232h1v1h-1zM404 233h1v1h-1zM408 233h1v1h-1zM410 233h1v1h-1zM411 233h1v1h-1zM414 234h1v1h-1zM415 234h1v1h-1zM416 234h1v1h-1zM418 234h1v1h-1zM426 234h1v1h-1zM427 234h1v1h-1zM430 235h1v1h-1zM431 235h1v1h-1zM434 236h1v1h-1zM439 237h1v1h-1zM440 237h1v1h-1zM442 238h1v1h-1zM444 238h1v1h-1zM447 239h1v1h-1zM448 239h1v1h-1zM450 239h1v1h-1zM451 239h1v1h-1zM455 240h1v1h-1zM457 240h1v1h-1zM458 240h1v1h-1zM459 240h1v1h-1zM461 240h1v1h-1zM462 240h1v1h-1zM465 240h1v1h-1zM472 240h1v1h-1zM473 240h1v1h-1zM474 240h1v1h-1zM526 231h1v1h-1zM528 231h1v1h-1zM530 231h1v1h-1zM532 231h1v1h-1zM533 231h1v1h-1zM540 231h1v1h-1zM544 231h1v1h-1zM547 231h1v1h-1zM549 231h1v1h-1zM550 231h1v1h-1zM552 231h1v1h-1zM557 231h1v1h-1zM559 231h1v1h-1zM560 231h1v1h-1zM562 231h1v1h-1zM564 231h1v1h-1zM566 231h1v1h-1zM567 231h1v1h-1zM569 231h1v1h-1zM572 231h1v1h-1zM573 231h1v1h-1zM574 231h1v1h-1zM576 231h1v1h-1zM577 231h1v1h-1zM580 231h1v1h-1zM582 231h1v1h-1zM584 231h1v1h-1zM585 231h1v1h-1zM589 231h1v1h-1zM590 231h1v1h-1zM591 231h1v1h-1zM592 231h1v1h-1zM593 231h1v1h-1zM598 231h1v1h-1zM599 231h1v1h-1zM600 231h1v1h-1zM601 231h1v1h-1zM602 231h1v1h-1zM603 231h1v1h-1zM605 231h1v1h-1zM606 231h1v1h-1zM609 231h1v1h-1zM610 231h1v1h-1zM611 231h1v1h-1zM613 231h1v1h-1zM615 231h1v1h-1zM616 231h1v1h-1zM618 231h1v1h-1zM619 231h1v1h-1zM620 231h1v1h-1zM621 231h1v1h-1zM623 231h1v1h-1zM624 231h1v1h-1zM625 231h1v1h-1zM627 231h1v1h-1zM633 231h1v1h-1zM634 231h1v1h-1zM635 231h1v1h-1zM636 231h1v1h-1zM637 231h1v1h-1zM639 231h1v1h-1zM640 231h1v1h-1zM641 231h1v1h-1zM643 231h1v1h-1zM646 231h1v1h-1zM649 231h1v1h-1zM652 231h1v1h-1zM653 231h1v1h-1zM656 231h1v1h-1zM657 231h1v1h-1zM661 231h1v1h-1zM663 231h1v1h-1zM668 231h1v1h-1zM672 231h1v1h-1zM674 231h1v1h-1zM677 231h1v1h-1zM678 231h1v1h-1zM679 231h1v1h-1zM680 231h1v1h-1zM682 231h1v1h-1zM683 231h1v1h-1zM685 231h1v1h-1zM687 231h1v1h-1zM688 231h1v1h-1zM690 231h1v1h-1zM691 231h1v1h-1zM692 231h1v1h-1zM697 231h1v1h-1zM699 231h1v1h-1zM700 231h1v1h-1zM701 231h1v1h-1zM702 231h1v1h-1zM705 231h1v1h-1zM707 231h1v1h-1zM708 231h1v1h-1zM709 231h1v1h-1zM712 231h1v1h-1zM715 231h1v1h-1zM716 231h1v1h-1zM717 231h1v1h-1zM718 231h1v1h-1zM719 231h1v1h-1zM721 231h1v1h-1zM723 231h1v1h-1zM724 231h1v1h-1zM726 231h1v1h-1zM727 231h1v1h-1zM729 231h1v1h-1zM730 231h1v1h-1zM731 231h1v1h-1zM734 231h1v1h-1zM735 231h1v1h-1zM736 231h1v1h-1zM737 231h1v1h-1zM740 231h1v1h-1zM741 231h1v1h-1zM742 231h1v1h-1zM745 231h1v1h-1zM747 231h1v1h-1zM748 231h1v1h-1zM749 231h1v1h-1zM751 231h1v1h-1zM752 231h1v1h-1zM754 231h1v1h-1zM756 231h1v1h-1zM757 231h1v1h-1zM758 231h1v1h-1zM759 231h1v1h-1zM760 231h1v1h-1zM761 231h1v1h-1zM762 231h1v1h-1zM763 231h1v1h-1zM764 231h1v1h-1zM765 231h1v1h-1zM766 231h1v1h-1zM769 231h1v1h-1zM773 231h1v1h-1zM777 231h1v1h-1zM778 231h1v1h-1zM780 231h1v1h-1zM783 231h1v1h-1zM784 231h1v1h-1zM786 231h1v1h-1zM787 231h1v1h-1z" fill="#aca800"/><path d="M17 365h1v1h-1zM17 364h1v1h-1zM18 365h1v1h-1zM19 365h1v1h-1zM20 365h1v1h-1zM21 365h1v1h-1zM22 365h1v1h-1zM22 364h1v1h-1zM23 365h1v1h-1zM23 364h1v1h-1zM24 365h1v1h-1zM25 365h1v1h-1zM25 364h1v1h-1zM26 365h1v1h-1zM26 364h1v1h-1zM27 365h1v1h-1zM28 365h1v1h-1zM29 365h1v1h-1zM30 365h1v1h-1zM31 365h1v1h-1zM32 365h1v1h-1zM32 364h1v1h-1zM33 365h1v1h-1zM34 365h1v1h-1zM35 365h1v1h-1zM36 365h1v1h-1zM37 365h1v1h-1zM38 365h1v1h-1zM38 364h1v1h-1zM39 365h1v1h-1zM40 365h1v1h-1zM41 365h1v1h-1zM41 364h1v1h-1zM42 365h1v1h-1zM42 364h1v1h-1zM43 365h1v1h-1zM44 365h1v1h-1zM45 365h1v1h-1zM46 365h1v1h-1zM47 365h1v1h-1zM48 365h1v1h-1zM49 365h1v1h-1zM50 365h1v1h-1zM51 365h1v1h-1zM52 365h1v1h-1zM53 365h1v1h-1zM54 365h1v1h-1zM54 364h1v1h-1zM55 365h1v1h-1zM55 364h1v1h-1zM56 365h1v1h-1zM56 364h1v1h-1zM57 365h1v1h-1zM58 365h1v1h-1zM59 365h1v1h-1zM60 365h1v1h-1zM60 364h1v1h-1zM61 365h1v1h-1zM62 365h1v1h-1zM63 365h1v1h-1zM64 365h1v1h-1zM65 365h1v1h-1zM66 365h1v1h-1zM67 365h1v1h-1zM68 365h1v1h-1zM69 365h1v1h-1zM70 365h1v1h-1zM71 365h1v1h-1zM72 365h1v1h-1zM72 364h1v1h-1zM73 365h1v1h-1zM74 365h1v1h-1zM75 365h1v1h-1zM76 365h1v1h-1zM77 365h1v1h-1zM78 365h1v1h-1zM78 364h1v1h-1zM79 365h1v1h-1zM80 365h1v1h-1zM81 365h1v1h-1zM81 364h1v1h-1zM82 365h1v1h-1zM82 364h1v1h-1zM83 365h1v1h-1zM84 365h1v1h-1zM85 365h1v1h-1zM85 364h1v1h-1zM86 365h1v1h-1zM87 365h1v1h-1zM88 365h1v1h-1zM88 364h1v1h-1zM89 365h1v1h-1zM89 364h1v1h-1zM90 365h1v1h-1zM91 365h1v1h-1zM92 365h1v1h-1zM92 364h1v1h-1zM93 365h1v1h-1zM94 365h1v1h-1zM94 364h1v1h-1zM95 365h1v1h-1zM96 365h1v1h-1zM96 364h1v1h-1zM97 365h1v1h-1zM98 365h1v1h-1zM99 365h1v1h-1zM100 365h1v1h-1zM101 365h1v1h-1zM101 364h1v1h-1zM102 365h1v1h-1zM102 364h1v1h-1zM103 365h1v1h-1zM104 365h1v1h-1zM104 364h1v1h-1zM105 365h1v1h-1zM105 364h1v1h-1zM106 365h1v1h-1zM107 365h1v1h-1zM108 365h1v1h-1zM108 364h1v1h-1zM109 365h1v1h-1zM109 364h1v1h-1zM110 365h1v1h-1zM111 365h1v1h-1zM111 364h1v1h-1zM112 365h1v1h-1zM113 365h1v1h-1zM114 365h1v1h-1zM115 365h1v1h-1zM116 365h1v1h-1zM117 365h1v1h-1zM118 365h1v1h-1zM119 365h1v1h-1zM120 365h1v1h-1zM121 365h1v1h-1zM122 365h1v1h-1zM123 365h1v1h-1zM124 365h1v1h-1zM125 365h1v1h-1zM125 364h1v1h-1zM126 365h1v1h-1zM126 364h1v1h-1zM127 365h1v1h-1zM128 365h1v1h-1zM129 365h1v1h-1zM130 365h1v1h-1zM130 364h1v1h-1zM131 365h1v1h-1zM132 365h1v1h-1zM133 365h1v1h-1zM133 364h1v1h-1zM134 365h1v1h-1zM135 365h1v1h-1zM136 365h1v1h-1zM136 364h1v1h-1zM137 365h1v1h-1zM138 365h1v1h-1zM139 365h1v1h-1zM140 365h1v1h-1zM141 365h1v1h-1zM142 365h1v1h-1zM143 365h1v1h-1zM143 364h1v1h-1zM144 365h1v1h-1zM144 364h1v1h-1zM145 365h1v1h-1zM146 365h1v1h-1zM147 365h1v1h-1zM147 364h1v1h-1zM148 365h1v1h-1zM149 365h1v1h-1zM150 365h1v1h-1zM150 364h1v1h-1zM151 365h1v1h-1zM152 365h1v1h-1zM152 364h1v1h-1zM153 365h1v1h-1zM154 365h1v1h-1zM155 365h1v1h-1zM155 364h1v1h-1zM156 365h1v1h-1zM157 365h1v1h-1zM158 365h1v1h-1zM158 364h1v1h-1zM159 365h1v1h-1zM160 365h1v1h-1zM161 365h1v1h-1zM161 364h1v1h-1zM162 365h1v1h-1zM162 364h1v1h-1zM163 365h1v1h-1zM164 365h1v1h-1zM164 364h1v1h-1zM165 365h1v1h-1zM165 364h1v1h-1zM166 365h1v1h-1zM167 365h1v1h-1zM168 365h1v1h-1zM168 364h1v1h-1zM169 365h1v1h-1zM169 364h1v1h-1zM170 365h1v1h-1zM170 364h1v1h-1zM171 365h1v1h-1zM172 365h1v1h-1zM173 365h1v1h-1zM174 365h1v1h-1zM174 364h1v1h-1zM175 365h1v1h-1zM175 364h1v1h-1zM176 365h1v1h-1zM177 365h1v1h-1zM178 365h1v1h-1zM179 365h1v1h-1zM179 364h1v1h-1zM180 365h1v1h-1zM180 364h1v1h-1zM181 365h1v1h-1zM182 365h1v1h-1zM182 364h1v1h-1zM183 365h1v1h-1zM184 365h1v1h-1zM185 365h1v1h-1zM185 364h1v1h-1zM186 365h1v1h-1zM186 364h1v1h-1zM187 365h1v1h-1zM188 365h1v1h-1zM189 365h1v1h-1zM190 365h1v1h-1zM190 364h1v1h-1zM191 365h1v1h-1zM191 364h1v1h-1zM192 365h1v1h-1zM192 364h1v1h-1zM193 365h1v1h-1zM194 365h1v1h-1zM194 364h1v1h-1zM195 365h1v1h-1zM195 364h1v1h-1zM196 365h1v1h-1zM197 365h1v1h-1zM198 365h1v1h-1zM199 365h1v1h-1zM200 365h1v1h-1zM200 364h1v1h-1zM201 365h1v1h-1zM201 364h1v1h-1zM202 365h1v1h-1zM203 365h1v1h-1zM204 365h1v1h-1zM205 365h1v1h-1zM206 365h1v1h-1zM207 365h1v1h-1zM208 365h1v1h-1zM208 364h1v1h-1zM209 365h1v1h-1zM210 365h1v1h-1zM211 365h1v1h-1zM212 365h1v1h-1zM213 365h1v1h-1zM213 364h1v1h-1zM214 365h1v1h-1zM214 364h1v1h-1zM215 365h1v1h-1zM215 364h1v1h-1zM216 365h1v1h-1zM216 364h1v1h-1zM217 365h1v1h-1zM218 365h1v1h-1zM218 364h1v1h-1zM219 365h1v1h-1zM220 365h1v1h-1zM220 364h1v1h-1zM221 365h1v1h-1zM222 365h1v1h-1zM223 365h1v1h-1zM224 365h1v1h-1zM225 365h1v1h-1zM226 365h1v1h-1zM227 365h1v1h-1zM227 364h1v1h-1zM228 365h1v1h-1zM229 365h1v1h-1zM229 364h1v1h-1zM230 365h1v1h-1zM230 364h1v1h-1zM231 365h1v1h-1zM232 365h1v1h-1zM233 365h1v1h-1zM234 365h1v1h-1zM235 365h1v1h-1zM236 365h1v1h-1zM236 364h1v1h-1zM237 365h1v1h-1zM237 364h1v1h-1zM238 365h1v1h-1zM239 365h1v1h-1zM240 365h1v1h-1zM241 365h1v1h-1zM242 365h1v1h-1zM242 364h1v1h-1zM243 365h1v1h-1zM244 365h1v1h-1zM245 365h1v1h-1zM245 364h1v1h-1zM246 365h1v1h-1zM247 365h1v1h-1zM248 365h1v1h-1zM249 365h1v1h-1zM250 365h1v1h-1zM250 364h1v1h-1zM251 365h1v1h-1zM252 365h1v1h-1zM253 365h1v1h-1zM253 364h1v1h-1zM254 365h1v1h-1zM254 364h1v1h-1zM255 365h1v1h-1zM255 364h1v1h-1zM256 365h1v1h-1zM257 365h1v1h-1zM258 365h1v1h-1zM259 365h1v1h-1zM260 365h1v1h-1zM260 364h1v1h-1zM261 365h1v1h-1zM261 364h1v1h-1zM262 365h1v1h-1zM262 364h1v1h-1zM263 365h1v1h-1zM263 364h1v1h-1zM264 365h1v1h-1zM264 364h1v1h-1zM265 365h1v1h-1zM266 365h1v1h-1zM267 365h1v1h-1zM267 364h1v1h-1zM268 365h1v1h-1zM269 365h1v1h-1zM270 365h1v1h-1zM271 365h1v1h-1zM272 365h1v1h-1zM273 365h1v1h-1zM274 365h1v1h-1zM275 365h1v1h-1zM276 365h1v1h-1zM277 365h1v1h-1zM277 364h1v1h-1zM278 365h1v1h-1zM279 365h1v1h-1zM280 365h1v1h-1zM280 364h1v1h-1zM281 364h1v1h-1zM282 364h1v1h-1zM283 364h1v1h-1zM284 363h1v2h-1zM285 363h1v1h-1zM286 363h1v1h-1zM287 363h1v1h-1zM288 363h1v1h-1zM289 363h1v1h-1zM290 363h1v1h-1zM291 363h1v1h-1zM292 362h1v2h-1zM293 362h1v1h-1zM294 362h1v1h-1zM295 362h1v1h-1zM296 362h1v1h-1zM297 362h1v1h-1zM298 361h1v2h-1zM299 361h1v1h-1zM300 361h1v1h-1zM301 361h1v1h-1zM302 361h1v1h-1zM303 361h1v1h-1zM304 361h1v1h-1zM305 360h1v2h-1zM306 360h1v1h-1zM307 360h1v1h-1zM308 360h1v1h-1zM309 360h1v1h-1zM310 360h1v1h-1zM311 359h1v2h-1zM312 359h1v1h-1zM313 359h1v1h-1zM314 359h1v1h-1zM315 359h1v1h-1zM316 359h1v1h-1zM317 359h1v1h-1zM318 358h1v2h-1zM319 358h1v1h-1zM320 358h1v1h-1zM321 358h1v1h-1zM322 358h1v1h-1zM323 358h1v1h-1zM324 357h1v2h-1zM325 357h1v1h-1zM326 357h1v1h-1zM327 357h1v1h-1zM328 357h1v1h-1zM329 357h1v1h-1zM330 357h1v1h-1zM331 356h1v2h-1zM332 356h1v1h-1zM333 356h1v1h-1zM334 356h1v1h-1zM335 356h1v1h-1zM336 356h1v1h-1zM337 355h1v2h-1zM338 355h1v1h-1zM339 355h1v1h-1zM340 355h1v1h-1zM341 355h1v1h-1zM342 355h1v1h-1zM343 354h1v2h-1zM344 354h1v1h-1zM345 354h1v1h-1zM346 354h1v1h-1zM347 354h1v1h-1zM348 354h1v1h-1zM349 353h1v2h-1zM350 353h1v1h-1zM351 353h1v1h-1zM352 353h1v1h-1zM353 353h1v1h-1zM354 353h1v1h-1zM355 353h1v1h-1zM356 352h1v2h-1zM357 352h1v1h-1zM358 352h1v1h-1zM359 352h1v1h-1zM360 352h1v1h-1zM361 352h1v1h-1zM362 351h1v2h-1zM363 351h1v1h-1zM364 351h1v1h-1zM365 351h1v1h-1zM366 351h1v1h-1zM367 351h1v1h-1zM368 350h1v2h-1zM369 350h1v1h-1zM370 350h1v1h-1zM371 350h1v1h-1zM372 350h1v1h-1zM373 350h1v1h-1zM374 349h1v2h-1zM375 349h1v1h-1zM376 349h1v1h-1zM377 349h1v1h-1zM378 349h1v1h-1zM379 349h1v1h-1zM380 348h1v2h-1zM381 348h1v1h-1zM382 348h1v1h-1zM383 348h1v1h-1zM384 348h1v1h-1zM385 347h1v2h-1zM386 347h1v1h-1zM387 347h1v1h-1zM388 347h1v1h-1zM389 347h1v1h-1zM390 347h1v1h-1zM391 346h1v2h-1zM392 346h1v1h-1zM393 346h1v1h-1zM394 346h1v1h-1zM395 346h1v1h-1zM396 345h1v2h-1zM397 345h1v1h-1zM398 345h1v1h-1zM399 345h1v1h-1zM400 345h1v1h-1zM401 345h1v1h-1zM402 344h1v2h-1zM403 344h1v1h-1zM404 344h1v1h-1zM405 344h1v1h-1zM406 344h1v1h-1zM407 344h1v1h-1zM408 343h1v2h-1zM409 343h1v1h-1zM410 343h1v1h-1zM411 343h1v1h-1zM412 343h1v1h-1zM413 343h1v1h-1zM414 343h1v1h-1zM415 342h1v2h-1zM416 342h1v1h-1zM417 342h1v1h-1zM418 342h1v1h-1zM419 342h1v1h-1zM420 342h1v1h-1zM421 342h1v1h-1zM422 341h1v2h-1zM423 341h1v1h-1zM424 341h1v1h-1zM425 341h1v1h-1zM426 341h1v1h-1zM427 341h1v1h-1zM428 341h1v1h-1zM429 340h1v2h-1zM430 340h1v1h-1zM431 340h1v1h-1zM432 340h1v1h-1zM433 340h1v1h-1zM434 340h1v1h-1zM435 339h1v2h-1zM436 339h1v1h-1zM437 339h1v1h-1zM438 339h1v1h-1zM439 339h1v1h-1zM440 339h1v1h-1zM441 338h1v2h-1zM442 338h1v1h-1zM443 338h1v1h-1zM444 338h1v1h-1zM445 338h1v1h-1zM446 337h1v2h-1zM447 337h1v1h-1zM448 337h1v1h-1zM449 337h1v1h-1zM450 337h1v1h-1zM451 336h1v2h-1zM452 336h1v1h-1zM453 336h1v1h-1zM454 336h1v1h-1zM455 335h1v2h-1zM456 335h1v1h-1zM457 335h1v1h-1zM458 335h1v1h-1zM459 335h1v1h-1zM460 334h1v2h-1zM461 334h1v1h-1zM462 334h1v1h-1zM463 334h1v1h-1zM464 334h1v1h-1zM465 334h1v1h-1zM466 334h1v1h-1zM467 334h1v1h-1zM468 333h1v2h-1zM469 333h1v1h-1zM470 333h1v1h-1zM471 333h1v1h-1zM472 333h1v1h-1zM473 333h1v1h-1zM474 333h1v1h-1zM475 333h1v1h-1zM476 333h1v1h-1zM477 333h1v1h-1zM478 333h1v1h-1zM479 333h1v1h-1zM280 365h1v1h-1zM281 365h1v1h-1zM282 365h1v1h-1zM285 364h1v1h-1zM288 364h1v1h-1zM289 364h1v1h-1zM290 362h1v1h-1zM292 363h1v1h-1zM294 361h1v1h-1zM295 363h1v1h-1zM298 362h1v1h-1zM299 362h1v1h-1zM300 362h1v1h-1zM303 362h1v1h-1zM306 361h1v1h-1zM307 359h1v1h-1zM308 361h1v1h-1zM316 360h1v1h-1zM318 359h1v1h-1zM319 359h1v1h-1zM321 359h1v1h-1zM322 359h1v1h-1zM323 359h1v1h-1zM325 358h1v1h-1zM326 358h1v1h-1zM328 358h1v1h-1zM335 357h1v1h-1zM339 356h1v1h-1zM342 356h1v1h-1zM343 355h1v1h-1zM346 355h1v1h-1zM347 355h1v1h-1zM348 355h1v1h-1zM351 354h1v1h-1zM352 354h1v1h-1zM353 354h1v1h-1zM354 354h1v1h-1zM355 354h1v1h-1zM356 353h1v1h-1zM359 353h1v1h-1zM361 353h1v1h-1zM366 350h1v1h-1zM369 351h1v1h-1zM370 351h1v1h-1zM374 350h1v1h-1zM376 350h1v1h-1zM377 350h1v1h-1zM378 350h1v1h-1zM380 349h1v1h-1zM381 349h1v1h-1zM384 349h1v1h-1zM386 348h1v1h-1zM389 348h1v1h-1zM390 348h1v1h-1zM391 347h1v1h-1zM392 345h1v1h-1zM393 347h1v1h-1zM394 347h1v1h-1zM395 347h1v1h-1zM396 346h1v1h-1zM398 346h1v1h-1zM400 344h1v1h-1zM402 343h1v1h-1zM406 343h1v1h-1zM409 344h1v1h-1zM412 342h1v1h-1zM413 344h1v1h-1zM414 344h1v1h-1zM419 343h1v1h-1zM420 343h1v1h-1zM421 343h1v1h-1zM422 342h1v1h-1zM426 342h1v1h-1zM428 342h1v1h-1zM429 341h1v1h-1zM431 341h1v1h-1zM432 341h1v1h-1zM434 341h1v1h-1zM435 340h1v1h-1zM438 340h1v1h-1zM439 340h1v1h-1zM440 340h1v1h-1zM441 337h1v1h-1zM442 339h1v1h-1zM445 339h1v1h-1zM447 338h1v1h-1zM448 338h1v1h-1zM450 338h1v1h-1zM453 337h1v1h-1zM455 336h1v1h-1zM458 336h1v1h-1zM462 335h1v1h-1zM467 335h1v1h-1zM468 332h1v1h-1zM469 334h1v1h-1zM473 334h1v1h-1zM476 334h1v1h-1zM479 334h1v1h-1zM480 333h1v35h-1zM481 366h1v1h-1zM482 365h1v1h-1zM483 365h1v1h-1zM484 365h1v1h-1zM485 365h1v1h-1zM485 364h1v1h-1zM486 365h1v1h-1zM486 364h1v1h-1zM487 365h1v1h-1zM488 365h1v1h-1zM489 365h1v1h-1zM490 365h1v1h-1zM491 365h1v1h-1zM492 365h1v1h-1zM493 365h1v1h-1zM494 365h1v1h-1zM495 365h1v1h-1zM496 365h1v1h-1zM497 365h1v1h-1zM498 365h1v1h-1zM499 365h1v1h-1zM500 365h1v1h-1zM501 365h1v1h-1zM502 365h1v1h-1zM503 365h1v1h-1zM503 364h1v1h-1zM504 365h1v1h-1zM505 365h1v1h-1zM506 365h1v1h-1zM507 365h1v1h-1zM508 365h1v1h-1zM509 365h1v1h-1zM510 365h1v1h-1zM511 365h1v1h-1zM512 365h1v1h-1zM513 365h1v1h-1zM514 365h1v1h-1zM515 365h1v1h-1zM516 365h1v1h-1zM517 365h1v1h-1zM518 365h1v1h-1zM519 365h1v1h-1zM520 365h1v1h-1zM521 365h1v1h-1zM522 365h1v1h-1zM522 364h1v1h-1zM523 365h1v1h-1zM524 365h1v1h-1zM525 365h1v1h-1zM526 365h1v1h-1zM527 365h1v1h-1zM528 365h1v1h-1zM529 365h1v1h-1zM530 365h1v1h-1zM531 365h1v1h-1zM532 365h1v1h-1zM533 365h1v1h-1zM534 365h1v1h-1zM535 365h1v1h-1zM536 365h1v1h-1zM536 364h1v1h-1zM537 365h1v1h-1zM538 365h1v1h-1zM539 365h1v1h-1zM540 365h1v1h-1zM541 365h1v1h-1zM542 365h1v1h-1zM543 365h1v1h-1zM544 365h1v1h-1zM545 365h1v1h-1zM546 365h1v1h-1zM547 365h1v1h-1zM548 365h1v1h-1zM549 365h1v1h-1zM550 365h1v1h-1zM551 365h1v1h-1zM551 364h1v1h-1zM552 365h1v1h-1zM553 365h1v1h-1zM554 365h1v1h-1zM555 365h1v1h-1zM556 365h1v1h-1zM557 365h1v1h-1zM558 365h1v1h-1zM559 365h1v1h-1zM559 364h1v1h-1zM560 365h1v1h-1zM561 365h1v1h-1zM562 365h1v1h-1zM563 365h1v1h-1zM564 365h1v1h-1zM565 365h1v1h-1zM566 365h1v1h-1zM567 365h1v1h-1zM568 365h1v1h-1zM569 365h1v1h-1zM570 365h1v1h-1zM571 365h1v1h-1zM572 365h1v1h-1zM573 365h1v1h-1zM574 365h1v1h-1zM575 365h1v1h-1zM576 365h1v1h-1zM577 365h1v1h-1zM578 365h1v1h-1zM579 365h1v1h-1zM580 365h1v1h-1zM581 365h1v1h-1zM582 365h1v1h-1zM583 365h1v1h-1zM584 365h1v1h-1zM585 365h1v1h-1zM586 365h1v1h-1zM587 365h1v1h-1zM588 365h1v1h-1zM589 365h1v1h-1zM590 365h1v1h-1zM591 365h1v1h-1zM592 365h1v1h-1zM592 364h1v1h-1zM593 365h1v1h-1zM594 365h1v1h-1zM595 365h1v1h-1zM596 365h1v1h-1zM597 365h1v1h-1zM598 365h1v1h-1zM599 365h1v1h-1zM600 365h1v1h-1zM601 365h1v1h-1zM602 365h1v1h-1zM603 365h1v1h-1zM604 365h1v1h-1zM605 365h1v1h-1zM606 365h1v1h-1zM607 365h1v1h-1zM608 365h1v1h-1zM609 365h1v1h-1zM610 365h1v1h-1zM611 365h1v1h-1zM612 365h1v1h-1zM613 365h1v1h-1zM613 364h1v1h-1zM614 365h1v1h-1zM615 365h1v1h-1zM616 365h1v1h-1zM617 365h1v1h-1zM618 365h1v1h-1zM619 365h1v1h-1zM620 365h1v1h-1zM621 365h1v1h-1zM622 365h1v1h-1zM623 365h1v1h-1zM623 364h1v1h-1zM624 365h1v1h-1zM625 365h1v1h-1zM626 365h1v1h-1zM627 365h1v1h-1zM628 365h1v1h-1zM628 364h1v1h-1zM629 365h1v1h-1zM630 365h1v1h-1zM631 365h1v1h-1zM632 365h1v1h-1zM633 365h1v1h-1zM634 365h1v1h-1zM635 365h1v1h-1zM635 364h1v1h-1zM636 365h1v1h-1zM637 365h1v1h-1zM638 365h1v1h-1zM639 365h1v1h-1zM640 365h1v1h-1zM641 365h1v1h-1zM642 365h1v1h-1zM643 365h1v1h-1zM644 365h1v1h-1zM645 365h1v1h-1zM646 365h1v1h-1zM647 365h1v1h-1zM648 365h1v1h-1zM649 365h1v1h-1zM650 365h1v1h-1zM651 365h1v1h-1zM652 365h1v1h-1zM653 365h1v1h-1zM654 365h1v1h-1zM655 365h1v1h-1zM656 365h1v1h-1zM657 365h1v1h-1zM658 365h1v1h-1zM659 365h1v1h-1zM660 365h1v1h-1zM660 364h1v1h-1zM661 365h1v1h-1zM661 364h1v1h-1zM662 365h1v1h-1zM663 365h1v1h-1zM664 365h1v1h-1zM664 364h1v1h-1zM665 365h1v1h-1zM666 365h1v1h-1zM667 365h1v1h-1zM668 365h1v1h-1zM669 365h1v1h-1zM670 365h1v1h-1zM671 365h1v1h-1zM672 365h1v1h-1zM673 365h1v1h-1zM674 365h1v1h-1zM674 364h1v1h-1zM675 365h1v1h-1zM676 365h1v1h-1zM677 365h1v1h-1zM678 365h1v1h-1zM679 365h1v1h-1zM680 365h1v1h-1zM681 365h1v1h-1zM682 365h1v1h-1zM683 365h1v1h-1zM684 365h1v1h-1zM685 365h1v1h-1zM686 365h1v1h-1zM687 365h1v1h-1zM688 365h1v1h-1zM689 365h1v1h-1zM690 365h1v1h-1zM691 365h1v1h-1zM692 365h1v1h-1zM693 365h1v1h-1zM694 365h1v1h-1zM695 365h1v1h-1zM696 365h1v1h-1zM697 365h1v1h-1zM698 365h1v1h-1zM699 365h1v1h-1zM700 365h1v1h-1zM701 365h1v1h-1zM702 365h1v1h-1zM703 365h1v1h-1zM704 365h1v1h-1zM705 365h1v1h-1zM706 365h1v1h-1zM706 364h1v1h-1zM707 365h1v1h-1zM708 365h1v1h-1zM709 365h1v1h-1zM710 365h1v1h-1zM711 365h1v1h-1zM712 365h1v1h-1zM713 365h1v1h-1zM714 365h1v1h-1zM715 365h1v1h-1zM716 365h1v1h-1zM717 365h1v1h-1zM718 365h1v1h-1zM719 365h1v1h-1zM720 365h1v1h-1zM721 365h1v1h-1zM722 365h1v1h-1zM723 365h1v1h-1zM724 365h1v1h-1zM725 365h1v1h-1zM726 365h1v1h-1zM727 365h1v1h-1zM728 365h1v1h-1zM729 365h1v1h-1zM730 365h1v1h-1zM730 364h1v1h-1zM731 365h1v1h-1zM732 365h1v1h-1zM733 365h1v1h-1zM734 365h1v1h-1zM734 364h1v1h-1zM735 365h1v1h-1zM736 365h1v1h-1zM737 365h1v1h-1zM738 365h1v1h-1zM739 365h1v1h-1zM740 365h1v1h-1zM741 365h1v1h-1zM742 365h1v1h-1zM743 365h1v1h-1zM744 365h1v1h-1zM745 365h1v1h-1zM746 365h1v1h-1zM747 365h1v1h-1zM748 365h1v1h-1zM749 365h1v1h-1zM749 364h1v1h-1zM750 365h1v1h-1zM751 365h1v1h-1zM752 365h1v1h-1zM753 365h1v1h-1zM754 365h1v1h-1zM755 365h1v1h-1zM756 365h1v1h-1zM757 365h1v1h-1zM758 365h1v1h-1zM759 365h1v1h-1zM760 365h1v1h-1zM761 365h1v1h-1zM762 365h1v1h-1zM763 365h1v1h-1zM764 365h1v1h-1zM765 365h1v1h-1zM766 365h1v1h-1zM767 365h1v1h-1zM768 365h1v1h-1zM769 365h1v1h-1zM770 365h1v1h-1zM771 365h1v1h-1zM772 365h1v1h-1zM773 365h1v1h-1zM774 365h1v1h-1zM775 365h1v1h-1zM776 365h1v1h-1zM777 365h1v1h-1zM778 365h1v1h-1zM779 365h1v1h-1zM780 365h1v1h-1zM781 365h1v1h-1zM782 365h1v1h-1zM783 365h1v1h-1zM784 365h1v1h-1zM785 365h1v1h-1zM786 365h1v1h-1zM787 365h1v1h-1zM788 365h1v1h-1z" fill="#0000ff"/><path d="M17 366h1v1h-1zM17 367h1v1h-1zM18 366h1v1h-1zM18 367h1v1h-1zM19 366h1v1h-1zM19 367h1v1h-1zM20 366h1v1h-1zM21 366h1v1h-1zM21 367h1v1h-1zM22 366h1v1h-1zM23 366h1v1h-1zM23 367h1v1h-1zM24 366h1v1h-1zM24 367h1v1h-1zM25 366h1v1h-1zM26 366h1v1h-1zM26 367h1v1h-1zM27 366h1v1h-1zM28 366h1v1h-1zM28 367h1v1h-1zM29 366h1v1h-1zM29 367h1v1h-1zM30 366h1v1h-1zM30 367h1v1h-1zM31 366h1v1h-1zM31 367h1v1h-1zM32 366h1v1h-1zM32 367h1v1h-1zM33 366h1v1h-1zM33 367h1v1h-1zM34 366h1v1h-1zM34 367h1v1h-1zM35 366h1v1h-1zM35 367h1v1h-1zM36 366h1v1h-1zM37 366h1v1h-1zM37 367h1v1h-1zM38 366h1v1h-1zM38 367h1v1h-1zM39 366h1v1h-1zM39 367h1v1h-1zM40 366h1v1h-1zM40 367h1v1h-1zM41 366h1v1h-1zM41 367h1v1h-1zM42 366h1v1h-1zM42 367h1v1h-1zM43 366h1v1h-1zM43 367h1v1h-1zM44 366h1v1h-1zM45 366h1v1h-1zM45 367h1v1h-1zM46 366h1v1h-1zM46 367h1v1h-1zM47 366h1v1h-1zM48 366h1v1h-1zM49 366h1v1h-1zM49 367h1v1h-1zM50 366h1v1h-1zM51 366h1v1h-1zM51 367h1v1h-1zM52 366h1v1h-1zM52 367h1v1h-1zM53 366h1v1h-1zM53 367h1v1h-1zM54 366h1v1h-1zM55 366h1v1h-1zM55 367h1v1h-1zM56 366h1v1h-1zM57 366h1v1h-1zM58 366h1v1h-1zM58 367h1v1h-1zM59 366h1v1h-1zM59 367h1v1h-1zM60 366h1v1h-1zM60 367h1v1h-1zM61 366h1v1h-1zM61 367h1v1h-1zM62 366h1v1h-1zM62 367h1v1h-1zM63 366h1v1h-1zM63 367h1v1h-1zM64 366h1v1h-1zM64 367h1v1h-1zM65 366h1v1h-1zM65 367h1v1h-1zM66 366h1v1h-1zM66 367h1v1h-1zM67 366h1v1h-1zM67 367h1v1h-1zM68 366h1v1h-1zM68 367h1v1h-1zM69 366h1v1h-1zM70 366h1v1h-1zM70 367h1v1h-1zM71 366h1v1h-1zM71 367h1v1h-1zM72 366h1v1h-1zM72 367h1v1h-1zM73 366h1v1h-1zM73 367h1v1h-1zM74 366h1v1h-1zM74 367h1v1h-1zM75 366h1v1h-1zM76 366h1v1h-1zM76 367h1v1h-1zM77 366h1v1h-1zM77 367h1v1h-1zM78 366h1v1h-1zM79 366h1v1h-1zM79 367h1v1h-1zM80 366h1v1h-1zM80 367h1v1h-1zM81 366h1v1h-1zM81 367h1v1h-1zM82 366h1v1h-1zM82 367h1v1h-1zM83 366h1v1h-1zM83 367h1v1h-1zM84 366h1v1h-1zM84 367h1v1h-1zM85 366h1v1h-1zM85 367h1v1h-1zM86 366h1v1h-1zM87 366h1v1h-1zM87 367h1v1h-1zM88 366h1v1h-1zM88 367h1v1h-1zM89 366h1v1h-1zM90 366h1v1h-1zM91 366h1v1h-1zM91 367h1v1h-1zM92 366h1v1h-1zM92 367h1v1h-1zM93 366h1v1h-1zM93 367h1v1h-1zM94 366h1v1h-1zM94 367h1v1h-1zM95 366h1v1h-1zM95 367h1v1h-1zM96 366h1v1h-1zM96 367h1v1h-1zM97 366h1v1h-1zM97 367h1v1h-1zM98 366h1v1h-1zM99 366h1v1h-1zM99 367h1v1h-1zM100 366h1v1h-1zM101 366h1v1h-1zM101 367h1v1h-1zM102 366h1v1h-1zM102 367h1v1h-1zM103 366h1v1h-1zM103 367h1v1h-1zM104 366h1v1h-1zM105 366h1v1h-1zM105 367h1v1h-1zM106 366h1v1h-1zM107 366h1v1h-1zM107 367h1v1h-1zM108 366h1v1h-1zM108 367h1v1h-1zM109 366h1v1h-1zM109 367h1v1h-1zM110 366h1v1h-1zM110 367h1v1h-1zM111 366h1v1h-1zM111 367h1v1h-1zM112 366h1v1h-1zM112 367h1v1h-1zM113 366h1v1h-1zM113 367h1v1h-1zM114 366h1v1h-1zM115 366h1v1h-1zM115 367h1v1h-1zM116 366h1v1h-1zM116 367h1v1h-1zM117 366h1v1h-1zM118 366h1v1h-1zM118 367h1v1h-1zM119 366h1v1h-1zM119 367h1v1h-1zM120 366h1v1h-1zM120 367h1v1h-1zM121 366h1v1h-1zM121 367h1v1h-1zM122 366h1v1h-1zM123 366h1v1h-1zM123 367h1v1h-1zM124 366h1v1h-1zM124 367h1v1h-1zM125 366h1v1h-1zM125 367h1v1h-1zM126 366h1v1h-1zM127 366h1v1h-1zM127 367h1v1h-1zM128 366h1v1h-1zM128 367h1v1h-1zM129 366h1v1h-1zM130 366h1v1h-1zM130 367h1v1h-1zM131 366h1v1h-1zM131 367h1v1h-1zM132 366h1v1h-1zM133 366h1v1h-1zM133 367h1v1h-1zM134 366h1v1h-1zM134 367h1v1h-1zM135 366h1v1h-1zM135 367h1v1h-1zM136 366h1v1h-1zM136 367h1v1h-1zM137 366h1v1h-1zM137 367h1v1h-1zM138 366h1v1h-1zM139 366h1v1h-1zM139 367h1v1h-1zM140 366h1v1h-1zM140 367h1v1h-1zM141 366h1v1h-1zM142 366h1v1h-1zM143 366h1v1h-1zM144 366h1v1h-1zM144 367h1v1h-1zM145 366h1v1h-1zM145 367h1v1h-1zM146 366h1v1h-1zM146 367h1v1h-1zM147 366h1v1h-1zM147 367h1v1h-1zM148 366h1v1h-1zM148 367h1v1h-1zM149 366h1v1h-1zM149 367h1v1h-1zM150 366h1v1h-1zM150 367h1v1h-1zM151 366h1v1h-1zM151 367h1v1h-1zM152 366h1v1h-1zM153 366h1v1h-1zM154 366h1v1h-1zM154 367h1v1h-1zM155 366h1v1h-1zM155 367h1v1h-1zM156 366h1v1h-1zM156 367h1v1h-1zM157 366h1v1h-1zM157 367h1v1h-1zM158 366h1v1h-1zM158 367h1v1h-1zM159 366h1v1h-1zM159 367h1v1h-1zM160 366h1v1h-1zM161 366h1v1h-1zM161 367h1v1h-1zM162 366h1v1h-1zM162 367h1v1h-1zM163 366h1v1h-1zM163 367h1v1h-1zM164 366h1v1h-1zM164 367h1v1h-1zM165 366h1v1h-1zM165 367h1v1h-1zM166 366h1v1h-1zM166 367h1v1h-1zM167 366h1v1h-1zM167 367h1v1h-1zM168 366h1v1h-1zM168 367h1v1h-1zM169 366h1v1h-1zM169 367h1v1h-1zM170 366h1v1h-1zM170 367h1v1h-1zM171 366h1v1h-1zM171 367h1v1h-1zM172 366h1v1h-1zM172 367h1v1h-1zM173 366h1v1h-1zM173 367h1v1h-1zM174 366h1v1h-1zM175 366h1v1h-1zM175 367h1v1h-1zM176 366h1v1h-1zM176 367h1v1h-1zM177 366h1v1h-1zM177 367h1v1h-1zM178 366h1v1h-1zM178 367h1v1h-1zM179 366h1v1h-1zM179 367h1v1h-1zM180 366h1v1h-1zM180 367h1v1h-1zM181 366h1v1h-1zM181 367h1v1h-1zM182 366h1v1h-1zM183 366h1v1h-1zM183 367h1v1h-1zM184 366h1v1h-1zM184 367h1v1h-1zM185 366h1v1h-1zM185 367h1v1h-1zM186 366h1v1h-1zM186 367h1v1h-1zM187 366h1v1h-1zM187 367h1v1h-1zM188 366h1v1h-1zM189 366h1v1h-1zM189 367h1v1h-1zM190 366h1v1h-1zM191 366h1v1h-1zM192 366h1v1h-1zM192 367h1v1h-1zM193 366h1v1h-1zM194 366h1v1h-1zM195 366h1v1h-1zM195 367h1v1h-1zM196 366h1v1h-1zM196 367h1v1h-1zM197 366h1v1h-1zM197 367h1v1h-1zM198 366h1v1h-1zM199 366h1v1h-1zM200 366h1v1h-1zM200 367h1v1h-1zM201 366h1v1h-1zM201 367h1v1h-1zM202 366h1v1h-1zM202 367h1v1h-1zM203 366h1v1h-1zM203 367h1v1h-1zM204 366h1v1h-1zM204 367h1v1h-1zM205 366h1v1h-1zM205 367h1v1h-1zM206 366h1v1h-1zM206 367h1v1h-1zM207 366h1v1h-1zM207 367h1v1h-1zM208 366h1v1h-1zM208 367h1v1h-1zM209 366h1v1h-1zM209 367h1v1h-1zM210 366h1v1h-1zM210 367h1v1h-1zM211 366h1v1h-1zM211 367h1v1h-1zM212 366h1v1h-1zM212 367h1v1h-1zM213 366h1v1h-1zM213 367h1v1h-1zM214 366h1v1h-1zM214 367h1v1h-1zM215 366h1v1h-1zM215 367h1v1h-1zM216 366h1v1h-1zM216 367h1v1h-1zM217 366h1v1h-1zM217 367h1v1h-1zM218 366h1v1h-1zM218 367h1v1h-1zM219 366h1v1h-1zM219 367h1v1h-1zM220 366h1v1h-1zM220 367h1v1h-1zM221 366h1v1h-1zM221 367h1v1h-1zM222 366h1v1h-1zM222 367h1v1h-1zM223 366h1v1h-1zM223 367h1v1h-1zM224 366h1v1h-1zM224 367h1v1h-1zM225 366h1v1h-1zM225 367h1v1h-1zM226 366h1v1h-1zM226 367h1v1h-1zM227 366h1v1h-1zM227 367h1v1h-1zM228 366h1v1h-1zM228 367h1v1h-1zM229 366h1v1h-1zM229 367h1v1h-1zM230 366h1v1h-1zM230 367h1v1h-1zM231 366h1v1h-1zM231 367h1v1h-1zM232 366h1v1h-1zM232 367h1v1h-1zM233 366h1v1h-1zM233 367h1v1h-1zM234 366h1v1h-1zM235 366h1v1h-1zM235 367h1v1h-1zM236 366h1v1h-1zM236 367h1v1h-1zM237 366h1v1h-1zM237 367h1v1h-1zM238 366h1v1h-1zM238 367h1v1h-1zM239 366h1v1h-1zM239 367h1v1h-1zM240 366h1v1h-1zM241 366h1v1h-1zM241 367h1v1h-1zM242 366h1v1h-1zM242 367h1v1h-1zM243 366h1v1h-1zM243 367h1v1h-1zM244 366h1v1h-1zM244 367h1v1h-1zM245 366h1v1h-1zM245 367h1v1h-1zM246 366h1v1h-1zM246 367h1v1h-1zM247 366h1v1h-1zM247 367h1v1h-1zM248 366h1v1h-1zM249 366h1v1h-1zM250 366h1v1h-1zM250 367h1v1h-1zM251 366h1v1h-1zM252 366h1v1h-1zM252 367h1v1h-1zM253 366h1v1h-1zM253 367h1v1h-1zM254 366h1v1h-1zM254 367h1v1h-1zM255 366h1v1h-1zM255 367h1v1h-1zM256 366h1v1h-1zM256 367h1v1h-1zM257 366h1v1h-1zM258 366h1v1h-1zM259 366h1v1h-1zM259 367h1v1h-1zM260 366h1v1h-1zM260 367h1v1h-1zM261 366h1v1h-1zM262 366h1v1h-1zM262 367h1v1h-1zM263 366h1v1h-1zM263 367h1v1h-1zM264 366h1v1h-1zM264 367h1v1h-1zM265 366h1v1h-1zM265 367h1v1h-1zM266 366h1v1h-1zM266 367h1v1h-1zM267 366h1v1h-1zM267 367h1v1h-1zM268 366h1v1h-1zM269 366h1v1h-1zM269 367h1v1h-1zM270 366h1v1h-1zM270 367h1v1h-1zM271 366h1v1h-1zM271 367h1v1h-1zM272 366h1v1h-1zM272 367h1v1h-1zM273 366h1v1h-1zM274 366h1v1h-1zM274 367h1v1h-1zM275 366h1v1h-1zM276 366h1v1h-1zM277 366h1v1h-1zM277 367h1v1h-1zM278 366h1v1h-1zM278 367h1v1h-1zM279 366h1v1h-1zM280 366h1v1h-1zM280 367h1v1h-1zM281 366h1v1h-1zM281 367h1v1h-1zM282 366h1v1h-1zM282 367h1v1h-1zM283 366h1v1h-1zM284 366h1v1h-1zM284 367h1v1h-1zM285 366h1v1h-1zM285 367h1v1h-1zM286 366h1v1h-1zM286 367h1v1h-1zM287 366h1v1h-1zM287 367h1v1h-1zM288 366h1v1h-1zM289 366h1v1h-1zM289 367h1v1h-1zM290 366h1v1h-1zM290 367h1v1h-1zM291 366h1v1h-1zM292 366h1v1h-1zM293 366h1v1h-1zM293 367h1v1h-1zM294 366h1v1h-1zM294 367h1v1h-1zM295 366h1v1h-1zM295 367h1v1h-1zM296 366h1v1h-1zM297 366h1v1h-1zM298 366h1v1h-1zM298 367h1v1h-1zM299 366h1v1h-1zM299 367h1v1h-1zM300 366h1v1h-1zM300 367h1v1h-1zM301 366h1v1h-1zM302 366h1v1h-1zM302 367h1v1h-1zM303 366h1v1h-1zM304 366h1v1h-1zM304 367h1v1h-1zM305 366h1v1h-1zM306 366h1v1h-1zM307 366h1v1h-1zM308 366h1v1h-1zM308 367h1v1h-1zM309 366h1v1h-1zM310 366h1v1h-1zM310 367h1v1h-1zM311 366h1v1h-1zM311 367h1v1h-1zM312 366h1v1h-1zM312 367h1v1h-1zM313 366h1v1h-1zM313 367h1v1h-1zM314 366h1v1h-1zM314 367h1v1h-1zM315 366h1v1h-1zM315 367h1v1h-1zM316 366h1v1h-1zM316 367h1v1h-1zM317 366h1v1h-1zM318 366h1v1h-1zM319 366h1v1h-1zM319 367h1v1h-1zM320 366h1v1h-1zM320 367h1v1h-1zM321 366h1v1h-1zM321 367h1v1h-1zM322 366h1v1h-1zM323 366h1v1h-1zM324 366h1v1h-1zM324 367h1v1h-1zM325 366h1v1h-1zM325 367h1v1h-1zM326 366h1v1h-1zM327 366h1v1h-1zM327 367h1v1h-1zM328 366h1v1h-1zM329 366h1v1h-1zM330 366h1v1h-1zM331 366h1v1h-1zM331 367h1v1h-1zM332 366h1v1h-1zM333 366h1v1h-1zM333 367h1v1h-1zM334 366h1v1h-1zM334 367h1v1h-1zM335 366h1v1h-1zM336 366h1v1h-1zM336 367h1v1h-1zM337 366h1v1h-1zM337 367h1v1h-1zM338 366h1v1h-1zM339 366h1v1h-1zM339 367h1v1h-1zM340 366h1v1h-1zM341 366h1v1h-1zM342 366h1v1h-1zM342 367h1v1h-1zM343 366h1v1h-1zM343 367h1v1h-1zM344 366h1v1h-1zM345 366h1v1h-1zM346 366h1v1h-1zM346 367h1v1h-1zM347 366h1v1h-1zM347 367h1v1h-1zM348 366h1v1h-1zM348 367h1v1h-1zM349 366h1v1h-1zM349 367h1v1h-1zM350 366h1v1h-1zM350 367h1v1h-1zM351 366h1v1h-1zM351 367h1v1h-1zM352 366h1v1h-1zM353 366h1v1h-1zM354 366h1v1h-1zM354 367h1v1h-1zM355 366h1v1h-1zM355 367h1v1h-1zM356 366h1v1h-1zM357 366h1v1h-1zM358 366h1v1h-1zM359 366h1v1h-1zM359 367h1v1h-1zM360 366h1v1h-1zM361 366h1v1h-1zM362 366h1v1h-1zM363 366h1v1h-1zM364 366h1v1h-1zM364 367h1v1h-1zM365 366h1v1h-1zM366 366h1v1h-1zM366 367h1v1h-1zM367 366h1v1h-1zM368 366h1v1h-1zM369 366h1v1h-1zM370 366h1v1h-1zM370 367h1v1h-1zM371 366h1v1h-1zM371 367h1v1h-1zM372 366h1v1h-1zM373 366h1v1h-1zM373 367h1v1h-1zM374 366h1v1h-1zM375 366h1v1h-1zM375 367h1v1h-1zM376 366h1v1h-1zM376 367h1v1h-1zM377 366h1v1h-1zM378 366h1v1h-1zM378 367h1v1h-1zM379 366h1v1h-1zM379 367h1v1h-1zM380 366h1v1h-1zM380 367h1v1h-1zM381 366h1v1h-1zM381 367h1v1h-1zM382 366h1v1h-1zM382 367h1v1h-1zM383 366h1v1h-1zM384 366h1v1h-1zM385 366h1v1h-1zM386 366h1v1h-1zM386 367h1v1h-1zM387 366h1v1h-1zM387 367h1v1h-1zM388 366h1v1h-1zM388 367h1v1h-1zM389 366h1v1h-1zM390 366h1v1h-1zM390 367h1v1h-1zM391 366h1v1h-1zM392 366h1v1h-1zM392 367h1v1h-1zM393 366h1v1h-1zM393 367h1v1h-1zM394 366h1v1h-1zM395 366h1v1h-1zM395 367h1v1h-1zM396 366h1v1h-1zM397 366h1v1h-1zM397 367h1v1h-1zM398 366h1v1h-1zM399 366h1v1h-1zM400 366h1v1h-1zM401 366h1v1h-1zM401 367h1v1h-1zM402 366h1v1h-1zM403 366h1v1h-1zM403 367h1v1h-1zM404 366h1v1h-1zM405 366h1v1h-1zM405 367h1v1h-1zM406 366h1v1h-1zM406 367h1v1h-1zM407 366h1v1h-1zM407 367h1v1h-1zM408 366h1v1h-1zM408 367h1v1h-1zM409 366h1v1h-1zM410 366h1v1h-1zM410 367h1v1h-1zM411 366h1v1h-1zM412 366h1v1h-1zM413 366h1v1h-1zM413 367h1v1h-1zM414 366h1v1h-1zM415 366h1v1h-1zM415 367h1v1h-1zM416 366h1v1h-1zM416 367h1v1h-1zM417 366h1v1h-1zM418 366h1v1h-1zM418 367h1v1h-1zM419 366h1v1h-1zM420 366h1v1h-1zM420 367h1v1h-1zM421 366h1v1h-1zM421 367h1v1h-1zM422 366h1v1h-1zM423 366h1v1h-1zM423 367h1v1h-1zM424 366h1v1h-1zM425 366h1v1h-1zM425 367h1v1h-1zM426 366h1v1h-1zM426 367h1v1h-1zM427 366h1v1h-1zM428 366h1v1h-1zM429 366h1v1h-1zM429 367h1v1h-1zM430 366h1v1h-1zM430 367h1v1h-1zM431 366h1v1h-1zM432 366h1v1h-1zM433 366h1v1h-1zM433 366h1v1h-1zM434 365h1v2h-1zM435 365h1v1h-1zM436 365h1v1h-1zM437 365h1v1h-1zM438 365h1v1h-1zM439 364h1v2h-1zM440 364h1v1h-1zM441 364h1v1h-1zM442 364h1v1h-1zM443 364h1v1h-1zM444 363h1v2h-1zM445 363h1v1h-1zM446 362h1v2h-1zM447 362h1v1h-1zM448 362h1v1h-1zM449 361h1v2h-1zM450 361h1v1h-1zM451 361h1v1h-1zM452 361h1v1h-1zM453 360h1v2h-1zM454 360h1v1h-1zM455 360h1v1h-1zM456 359h1v2h-1zM457 359h1v1h-1zM458 359h1v1h-1zM459 358h1v2h-1zM460 358h1v1h-1zM461 358h1v1h-1zM462 357h1v2h-1zM463 357h1v1h-1zM464 357h1v1h-1zM465 356h1v2h-1zM466 356h1v1h-1zM467 356h1v1h-1zM468 356h1v1h-1zM469 356h1v1h-1zM470 356h1v1h-1zM471 355h1v2h-1zM472 355h1v1h-1zM473 355h1v1h-1zM474 355h1v1h-1zM475 355h1v1h-1zM436 366h1v1h-1zM438 366h1v1h-1zM439 365h1v1h-1zM440 365h1v1h-1zM442 365h1v1h-1zM443 365h1v1h-1zM444 364h1v1h-1zM454 361h1v1h-1zM455 361h1v1h-1zM456 360h1v1h-1zM457 360h1v1h-1zM458 360h1v1h-1zM462 358h1v1h-1zM468 357h1v1h-1zM469 357h1v1h-1zM470 357h1v1h-1zM471 356h1v1h-1zM472 356h1v1h-1zM474 356h1v1h-1zM475 348h1v8h-1zM476 319h1v30h-1zM477 304h1v15h-1zM478 290h1v15h-1zM479 282h1v9h-1zM480 282h1v13h-1zM481 294h1v3h-1zM482 295h1v4h-1zM483 298h1v4h-1zM484 301h1v4h-1zM485 304h1v4h-1zM486 307h1v4h-1zM487 310h1v5h-1zM488 314h1v4h-1zM489 317h1v4h-1zM490 320h1v4h-1zM491 323h1v4h-1zM492 326h1v4h-1zM493 329h1v4h-1zM494 332h1v4h-1zM495 335h1v4h-1zM496 338h1v4h-1zM497 341h1v4h-1zM498 344h1v3h-1zM498 332h1v15h-1zM499 319h1v14h-1zM500 306h1v14h-1zM501 292h1v15h-1zM502 292h1v4h-1zM503 295h1v4h-1zM504 298h1v4h-1zM505 301h1v5h-1zM506 305h1v4h-1zM507 308h1v4h-1zM508 311h1v4h-1zM509 314h1v4h-1zM510 317h1v4h-1zM511 320h1v4h-1zM512 323h1v5h-1zM513 327h1v4h-1zM514 330h1v4h-1zM515 333h1v4h-1zM516 336h1v4h-1zM517 339h1v4h-1zM518 342h1v4h-1zM519 335h1v12h-1zM520 321h1v15h-1zM521 308h1v14h-1zM522 294h1v15h-1zM523 292h1v4h-1zM524 295h1v4h-1zM525 298h1v4h-1zM526 301h1v4h-1zM527 304h1v4h-1zM528 307h1v4h-1zM529 310h1v4h-1zM530 313h1v5h-1zM531 317h1v4h-1zM532 320h1v4h-1zM533 323h1v4h-1zM534 326h1v4h-1zM535 329h1v4h-1zM536 332h1v4h-1zM537 335h1v5h-1zM538 339h1v4h-1zM539 342h1v4h-1zM540 337h1v10h-1zM541 324h1v14h-1zM542 310h1v15h-1zM543 297h1v14h-1zM544 292h1v6h-1zM545 294h1v4h-1zM546 297h1v4h-1zM547 300h1v4h-1zM548 303h1v5h-1zM549 307h1v4h-1zM550 310h1v4h-1zM551 313h1v4h-1zM552 316h1v4h-1zM553 319h1v4h-1zM554 322h1v4h-1zM555 325h1v5h-1zM556 329h1v4h-1zM557 332h1v4h-1zM558 335h1v4h-1zM559 338h1v4h-1zM560 341h1v4h-1zM561 340h1v7h-1zM562 326h1v15h-1zM563 313h1v14h-1zM564 299h1v15h-1zM565 292h1v8h-1zM566 293h1v5h-1zM567 297h1v4h-1zM568 300h1v4h-1zM569 303h1v4h-1zM570 306h1v4h-1zM571 309h1v4h-1zM572 312h1v4h-1zM573 315h1v5h-1zM574 319h1v4h-1zM575 322h1v4h-1zM576 325h1v4h-1zM577 328h1v4h-1zM578 331h1v4h-1zM579 334h1v4h-1zM580 337h1v5h-1zM581 341h1v4h-1zM582 342h1v5h-1zM583 329h1v14h-1zM584 315h1v15h-1zM585 302h1v14h-1zM586 292h1v11h-1zM587 293h1v4h-1zM588 296h1v4h-1zM589 299h1v4h-1zM590 302h1v4h-1zM591 305h1v5h-1zM592 309h1v4h-1zM593 312h1v4h-1zM594 315h1v4h-1zM595 318h1v4h-1zM596 321h1v4h-1zM597 324h1v4h-1zM598 327h1v5h-1zM599 331h1v4h-1zM600 334h1v4h-1zM601 337h1v4h-1zM602 340h1v4h-1zM603 343h1v4h-1zM604 331h1v15h-1zM605 318h1v14h-1zM606 304h1v15h-1zM607 292h1v13h-1zM608 292h1v4h-1zM609 295h1v5h-1zM610 299h1v4h-1zM611 302h1v4h-1zM612 305h1v4h-1zM613 308h1v4h-1zM614 311h1v4h-1zM615 314h1v4h-1zM616 317h1v5h-1zM617 321h1v4h-1zM618 324h1v4h-1zM619 327h1v4h-1zM620 330h1v4h-1zM621 333h1v4h-1zM622 336h1v4h-1zM623 339h1v5h-1zM624 343h1v4h-1zM625 334h1v13h-1zM626 320h1v15h-1zM627 307h1v14h-1zM628 293h1v15h-1zM629 292h1v4h-1zM630 295h1v4h-1zM631 298h1v4h-1zM632 301h1v4h-1zM633 304h1v4h-1zM634 307h1v5h-1zM635 311h1v4h-1zM636 314h1v4h-1zM637 317h1v4h-1zM638 320h1v4h-1zM639 323h1v4h-1zM640 326h1v4h-1zM641 329h1v5h-1zM642 333h1v4h-1zM643 336h1v4h-1zM644 339h1v4h-1zM645 342h1v4h-1zM646 336h1v11h-1zM647 323h1v14h-1zM648 309h1v15h-1zM649 296h1v14h-1zM650 292h1v5h-1zM651 294h1v4h-1zM652 297h1v5h-1zM653 301h1v4h-1zM654 304h1v4h-1zM655 307h1v4h-1zM656 310h1v4h-1zM657 313h1v4h-1zM658 316h1v4h-1zM659 319h1v5h-1zM660 323h1v4h-1zM661 326h1v4h-1zM662 329h1v4h-1zM663 332h1v4h-1zM664 335h1v4h-1zM665 338h1v4h-1zM666 341h1v5h-1zM667 338h1v9h-1zM668 325h1v14h-1zM669 311h1v15h-1zM670 298h1v14h-1zM671 292h1v7h-1zM672 294h1v4h-1zM673 297h1v4h-1zM674 300h1v4h-1zM675 303h1v4h-1zM676 306h1v4h-1zM677 309h1v5h-1zM678 313h1v4h-1zM679 316h1v4h-1zM680 319h1v4h-1zM681 322h1v4h-1zM682 325h1v4h-1zM683 328h1v4h-1zM684 331h1v5h-1zM685 335h1v4h-1zM686 338h1v4h-1zM687 341h1v4h-1zM688 341h1v6h-1zM689 327h1v15h-1zM690 314h1v14h-1zM691 300h1v15h-1zM692 292h1v9h-1zM693 293h1v4h-1zM694 296h1v4h-1zM695 299h1v5h-1zM696 303h1v4h-1zM697 306h1v4h-1zM698 309h1v4h-1zM699 312h1v4h-1zM700 315h1v4h-1zM701 318h1v4h-1zM702 321h1v5h-1zM703 325h1v4h-1zM704 328h1v4h-1zM705 331h1v4h-1zM706 334h1v4h-1zM707 337h1v4h-1zM708 340h1v4h-1zM709 343h1v4h-1zM710 330h1v14h-1zM711 316h1v15h-1zM712 303h1v14h-1zM713 292h1v12h-1zM714 293h1v4h-1zM715 296h1v4h-1zM716 299h1v4h-1zM717 302h1v4h-1zM718 305h1v4h-1zM719 308h1v4h-1zM720 311h1v5h-1zM721 315h1v4h-1zM722 318h1v4h-1zM723 321h1v4h-1zM724 324h1v4h-1zM725 327h1v4h-1zM726 330h1v4h-1zM727 333h1v5h-1zM728 337h1v4h-1zM729 340h1v4h-1zM730 343h1v4h-1zM731 332h1v15h-1zM732 319h1v14h-1zM733 305h1v15h-1zM734 292h1v14h-1zM735 292h1v4h-1zM736 295h1v4h-1zM737 298h1v4h-1zM738 301h1v5h-1zM739 305h1v4h-1zM740 308h1v4h-1zM741 311h1v4h-1zM742 314h1v4h-1zM743 317h1v4h-1zM744 320h1v4h-1zM745 323h1v5h-1zM746 327h1v4h-1zM747 330h1v4h-1zM748 333h1v4h-1zM749 336h1v4h-1zM750 339h1v4h-1zM751 342h1v4h-1zM752 335h1v12h-1zM753 321h1v15h-1zM754 308h1v14h-1zM755 294h1v15h-1zM756 292h1v4h-1zM757 295h1v4h-1zM758 298h1v4h-1zM759 301h1v4h-1zM760 304h1v4h-1zM761 307h1v4h-1zM762 310h1v4h-1zM763 313h1v5h-1zM764 317h1v4h-1zM765 320h1v4h-1zM766 323h1v4h-1zM767 326h1v4h-1zM768 329h1v4h-1zM769 332h1v5h-1zM770 336h1v4h-1zM771 339h1v4h-1zM772 342h1v4h-1zM773 337h1v10h-1zM774 324h1v14h-1zM775 310h1v15h-1zM776 297h1v14h-1zM777 292h1v6h-1zM778 294h1v4h-1zM779 297h1v4h-1zM780 300h1v5h-1zM781 304h1v4h-1zM782 307h1v4h-1zM783 310h1v4h-1zM784 313h1v4h-1zM785 316h1v4h-1zM786 319h1v4h-1zM787 322h1v5h-1zM788 326h1v4h-1z" fill="#ff0080"/><path d="M17 473h1v1h-1zM18 473h1v1h-1zM19 473h1v1h-1zM20 473h1v1h-1zM21 473h1v1h-1zM21 474h1v1h-1zM22 473h1v1h-1zM23 473h1v1h-1zM24 473h1v1h-1zM25 473h1v1h-1zM26 473h1v1h-1zM27 473h1v1h-1zM27 474h1v1h-1zM28 473h1v1h-1zM29 473h1v1h-1zM30 473h1v1h-1zM31 473h1v1h-1zM32 473h1v1h-1zM33 473h1v1h-1zM34 473h1v1h-1zM35 473h1v1h-1zM36 473h1v1h-1zM37 473h1v1h-1zM38 473h1v1h-1zM39 473h1v1h-1zM40 473h1v1h-1zM41 473h1v1h-1zM42 473h1v1h-1zM43 473h1v1h-1zM44 473h1v1h-1zM45 473h1v1h-1zM46 473h1v1h-1zM47 473h1v1h-1zM48 473h1v1h-1zM49 473h1v1h-1zM50 473h1v1h-1zM51 473h1v1h-1zM52 473h1v1h-1zM53 473h1v1h-1zM54 473h1v1h-1zM54 474h1v1h-1zM55 473h1v1h-1zM56 473h1v1h-1zM57 473h1v1h-1zM57 474h1v1h-1zM58 473h1v1h-1zM59 473h1v1h-1zM60 473h1v1h-1zM61 473h1v1h-1zM62 473h1v1h-1zM63 473h1v1h-1zM64 473h1v1h-1zM65 473h1v1h-1zM66 473h1v1h-1zM66 474h1v1h-1zM67 473h1v1h-1zM68 473h1v1h-1zM69 473h1v1h-1zM69 474h1v1h-1zM70 473h1v1h-1zM71 473h1v1h-1zM72 473h1v1h-1zM73 473h1v1h-1zM74 473h1v1h-1zM75 473h1v1h-1zM76 473h1v1h-1zM77 473h1v1h-1zM78 473h1v1h-1zM79 473h1v1h-1zM80 473h1v1h-1zM81 473h1v1h-1zM81 474h1v1h-1zM82 473h1v1h-1zM83 473h1v1h-1zM84 473h1v1h-1zM85 473h1v1h-1zM86 473h1v1h-1zM87 473h1v1h-1zM88 473h1v1h-1zM89 473h1v1h-1zM90 473h1v1h-1zM91 473h1v1h-1zM92 473h1v1h-1zM93 473h1v1h-1zM93 474h1v1h-1zM94 473h1v1h-1zM95 473h1v1h-1zM96 473h1v1h-1zM97 473h1v1h-1zM98 473h1v1h-1zM99 473h1v1h-1zM100 473h1v1h-1zM101 473h1v1h-1zM102 473h1v1h-1zM103 473h1v1h-1zM104 473h1v1h-1zM105 473h1v1h-1zM106 473h1v1h-1zM106 474h1v1h-1zM107 473h1v1h-1zM108 473h1v1h-1zM109 473h1v1h-1zM110 473h1v1h-1zM111 473h1v1h-1zM112 473h1v1h-1zM113 473h1v1h-1zM114 473h1v1h-1zM115 473h1v1h-1zM116 473h1v1h-1zM117 473h1v1h-1zM117 474h1v1h-1zM118 473h1v1h-1zM119 473h1v1h-1zM120 473h1v1h-1zM121 473h1v1h-1zM122 473h1v1h-1zM123 473h1v1h-1zM124 473h1v1h-1zM125 473h1v1h-1zM126 473h1v1h-1zM127 473h1v1h-1zM128 473h1v1h-1zM129 473h1v1h-1zM130 473h1v1h-1zM131 473h1v1h-1zM132 473h1v1h-1zM133 473h1v1h-1zM134 473h1v1h-1zM135 473h1v1h-1zM135 474h1v1h-1zM136 473h1v1h-1zM137 473h1v1h-1zM138 473h1v1h-1zM139 473h1v1h-1zM140 473h1v1h-1zM141 473h1v1h-1zM141 474h1v1h-1zM142 473h1v1h-1zM142 474h1v1h-1zM143 473h1v1h-1zM144 473h1v1h-1zM145 473h1v1h-1zM146 473h1v1h-1zM147 473h1v1h-1zM148 473h1v1h-1zM149 473h1v1h-1zM150 473h1v1h-1zM151 473h1v1h-1zM152 473h1v1h-1zM153 473h1v1h-1zM154 473h1v1h-1zM154 474h1v1h-1zM155 473h1v1h-1zM156 473h1v1h-1zM157 473h1v1h-1zM158 473h1v1h-1zM159 473h1v1h-1zM160 473h1v1h-1zM161 473h1v1h-1zM162 473h1v1h-1zM163 473h1v1h-1zM164 473h1v1h-1zM165 473h1v1h-1zM166 473h1v1h-1zM166 474h1v1h-1zM167 473h1v1h-1zM168 473h1v1h-1zM169 473h1v1h-1zM170 473h1v1h-1zM171 473h1v1h-1zM172 473h1v1h-1zM173 473h1v1h-1zM173 474h1v1h-1zM174 473h1v1h-1zM175 473h1v1h-1zM176 473h1v1h-1zM177 473h1v1h-1zM178 473h1v1h-1zM179 473h1v1h-1zM180 473h1v1h-1zM181 473h1v1h-1zM182 473h1v1h-1zM183 473h1v1h-1zM183 474h1v1h-1zM184 473h1v1h-1zM185 473h1v1h-1zM186 473h1v1h-1zM187 473h1v1h-1zM188 473h1v1h-1zM189 473h1v1h-1zM190 473h1v1h-1zM190 474h1v1h-1zM191 473h1v1h-1zM192 473h1v1h-1zM193 473h1v1h-1zM194 473h1v1h-1zM195 473h1v1h-1zM196 473h1v1h-1zM197 473h1v1h-1zM198 473h1v1h-1zM199 473h1v1h-1zM200 473h1v1h-1zM201 473h1v1h-1zM201 474h1v1h-1zM202 473h1v1h-1zM203 473h1v1h-1zM204 473h1v1h-1zM205 473h1v1h-1zM206 473h1v1h-1zM207 473h1v1h-1zM208 473h1v1h-1zM209 473h1v1h-1zM210 473h1v1h-1zM210 474h1v1h-1zM211 473h1v1h-1zM212 473h1v1h-1zM213 473h1v1h-1zM214 473h1v1h-1zM215 473h1v1h-1zM215 474h1v1h-1zM216 473h1v1h-1zM217 473h1v1h-1zM218 473h1v1h-1zM219 473h1v1h-1zM219 474h1v1h-1zM220 473h1v1h-1zM221 473h1v1h-1zM222 473h1v1h-1zM223 473h1v1h-1zM223 474h1v1h-1zM224 473h1v1h-1zM225 473h1v1h-1zM226 473h1v1h-1zM227 473h1v1h-1zM227 474h1v1h-1zM228 473h1v1h-1zM229 473h1v1h-1zM230 473h1v1h-1zM231 473h1v1h-1zM232 473h1v1h-1zM233 473h1v1h-1zM234 473h1v1h-1zM235 473h1v1h-1zM236 473h1v1h-1zM237 473h1v1h-1zM238 473h1v1h-1zM239 473h1v1h-1zM240 473h1v1h-1zM241 473h1v1h-1zM242 473h1v1h-1zM243 473h1v1h-1zM244 473h1v1h-1zM245 473h1v1h-1zM246 473h1v1h-1zM247 473h1v1h-1zM248 473h1v1h-1zM249 473h1v1h-1zM250 473h1v1h-1zM251 473h1v1h-1zM252 473h1v1h-1zM253 473h1v1h-1zM254 473h1v1h-1zM255 473h1v1h-1zM255 474h1v1h-1zM256 473h1v1h-1zM257 473h1v1h-1zM258 473h1v1h-1zM258 474h1v1h-1zM259 473h1v1h-1zM260 473h1v1h-1zM261 473h1v1h-1zM262 473h1v1h-1zM263 473h1v1h-1zM263 474h1v1h-1zM264 473h1v1h-1zM265 473h1v1h-1zM266 473h1v1h-1zM267 473h1v1h-1zM268 473h1v1h-1zM269 473h1v1h-1zM270 473h1v1h-1zM271 473h1v1h-1zM272 473h1v1h-1zM273 473h1v1h-1zM274 473h1v1h-1zM275 473h1v1h-1zM276 473h1v1h-1zM277 473h1v1h-1zM278 473h1v1h-1zM279 473h1v1h-1zM280 473h1v1h-1zM281 473h1v1h-1zM282 473h1v1h-1zM283 473h1v1h-1zM284 473h1v1h-1zM285 473h1v1h-1zM286 473h1v1h-1zM287 473h1v1h-1zM288 473h1v1h-1zM289 473h1v1h-1zM290 473h1v1h-1zM291 473h1v1h-1zM292 473h1v1h-1zM293 473h1v1h-1zM294 473h1v1h-1zM295 473h1v1h-1zM296 473h1v1h-1zM297 473h1v1h-1zM298 473h1v1h-1zM299 473h1v1h-1zM300 473h1v1h-1zM301 473h1v1h-1zM302 473h1v1h-1zM303 473h1v1h-1zM304 473h1v1h-1zM305 473h1v1h-1zM306 473h1v1h-1zM307 473h1v1h-1zM307 474h1v1h-1zM308 473h1v1h-1zM309 473h1v1h-1zM310 473h1v1h-1zM311 473h1v1h-1zM312 473h1v1h-1zM313 473h1v1h-1zM314 473h1v1h-1zM315 473h1v1h-1zM316 473h1v1h-1zM317 473h1v1h-1zM318 473h1v1h-1zM318 474h1v1h-1zM319 473h1v1h-1zM319 474h1v1h-1zM320 473h1v1h-1zM321 473h1v1h-1zM321 474h1v1h-1zM322 473h1v1h-1zM323 473h1v1h-1zM324 473h1v1h-1zM325 473h1v1h-1zM326 473h1v1h-1zM327 473h1v1h-1zM328 473h1v1h-1zM329 473h1v1h-1zM330 473h1v1h-1zM331 473h1v1h-1zM332 473h1v1h-1zM333 473h1v1h-1zM334 473h1v1h-1zM335 473h1v1h-1zM336 473h1v1h-1zM337 473h1v1h-1zM338 473h1v1h-1zM339 473h1v1h-1zM340 473h1v1h-1zM341 473h1v1h-1zM341 474h1v1h-1zM342 473h1v1h-1zM343 473h1v1h-1zM343 474h1v1h-1zM344 473h1v1h-1zM345 473h1v1h-1zM346 473h1v1h-1zM347 473h1v1h-1zM348 473h1v1h-1zM349 473h1v1h-1zM350 473h1v1h-1zM351 473h1v1h-1zM352 473h1v1h-1zM353 473h1v1h-1zM354 473h1v1h-1zM355 473h1v1h-1zM356 473h1v1h-1zM357 473h1v1h-1zM358 473h1v1h-1zM359 473h1v1h-1zM360 473h1v1h-1zM360 474h1v1h-1zM361 473h1v1h-1zM362 473h1v1h-1zM363 473h1v1h-1zM364 473h1v1h-1zM365 473h1v1h-1zM366 473h1v1h-1zM367 473h1v1h-1zM368 473h1v1h-1zM369 473h1v1h-1zM370 473h1v1h-1zM371 473h1v1h-1zM372 473h1v1h-1zM373 473h1v1h-1zM374 473h1v1h-1zM375 473h1v1h-1zM376 473h1v1h-1zM377 473h1v1h-1zM378 473h1v1h-1zM378 474h1v1h-1zM379 473h1v1h-1zM380 473h1v1h-1zM381 473h1v1h-1zM382 473h1v1h-1zM383 473h1v1h-1zM384 473h1v1h-1zM385 473h1v1h-1zM386 473h1v1h-1zM387 473h1v1h-1zM388 473h1v1h-1zM389 473h1v1h-1zM390 473h1v1h-1zM391 473h1v1h-1zM392 473h1v1h-1zM393 473h1v1h-1zM394 473h1v1h-1zM395 473h1v1h-1zM396 473h1v1h-1zM397 473h1v1h-1zM398 473h1v1h-1zM399 473h1v1h-1zM399 474h1v1h-1zM400 473h1v1h-1zM401 473h1v1h-1zM402 473h1v1h-1zM403 473h1v1h-1zM404 473h1v1h-1zM405 473h1v1h-1zM406 473h1v1h-1zM407 473h1v1h-1zM407 474h1v1h-1zM408 473h1v1h-1zM409 473h1v1h-1zM410 473h1v1h-1zM411 473h1v1h-1zM412 473h1v1h-1zM412 474h1v1h-1zM413 473h1v1h-1zM414 473h1v1h-1zM414 473h1v1h-1zM415 473h1v1h-1zM416 472h1v2h-1zM417 472h1v1h-1zM418 472h1v1h-1zM419 472h1v1h-1zM420 472h1v1h-1zM421 472h1v1h-1zM422 471h1v2h-1zM423 471h1v1h-1zM424 471h1v1h-1zM425 470h1v2h-1zM426 470h1v1h-1zM427 469h1v2h-1zM428 469h1v1h-1zM429 468h1v2h-1zM430 467h1v2h-1zM431 467h1v1h-1zM432 466h1v2h-1zM433 465h1v2h-1zM434 464h1v2h-1zM435 463h1v2h-1zM436 462h1v2h-1zM437 461h1v2h-1zM438 460h1v2h-1zM439 458h1v3h-1zM440 457h1v2h-1zM441 455h1v3h-1zM442 453h1v3h-1zM443 451h1v3h-1zM444 449h1v3h-1zM445 447h1v3h-1zM446 445h1v3h-1zM447 442h1v4h-1zM448 440h1v3h-1zM449 438h1v3h-1zM450 436h1v3h-1zM451 433h1v4h-1zM452 431h1v3h-1zM453 427h1v5h-1zM454 424h1v4h-1zM455 420h1v5h-1zM456 417h1v4h-1zM457 414h1v4h-1zM458 411h1v4h-1zM459 408h1v4h-1zM460 405h1v4h-1zM461 403h1v3h-1zM462 400h1v4h-1zM463 398h1v3h-1zM464 396h1v3h-1zM465 394h1v3h-1zM466 392h1v3h-1zM467 390h1v3h-1zM468 389h1v2h-1zM469 387h1v3h-1zM470 386h1v2h-1zM471 385h1v2h-1zM472 384h1v2h-1zM473 382h1v3h-1zM474 381h1v2h-1zM475 380h1v2h-1zM476 379h1v2h-1zM477 378h1v2h-1zM478 378h1v1h-1zM479 377h1v2h-1zM480 376h1v2h-1zM480 376h1v86h-1zM481 461h1v13h-1zM482 473h1v1h-1zM483 473h1v1h-1zM483 474h1v1h-1zM484 473h1v1h-1zM485 473h1v1h-1zM486 473h1v1h-1zM487 473h1v1h-1zM488 473h1v1h-1zM489 473h1v1h-1zM490 473h1v1h-1zM490 474h1v1h-1zM491 473h1v1h-1zM492 473h1v1h-1zM493 473h1v1h-1zM494 473h1v1h-1zM495 473h1v1h-1zM496 473h1v1h-1zM496 474h1v1h-1zM497 473h1v1h-1zM498 473h1v1h-1zM499 473h1v1h-1zM499 474h1v1h-1zM500 473h1v1h-1zM501 473h1v1h-1zM502 473h1v1h-1zM503 473h1v1h-1zM504 473h1v1h-1zM505 473h1v1h-1zM506 473h1v1h-1zM506 474h1v1h-1zM507 473h1v1h-1zM507 474h1v1h-1zM508 473h1v1h-1zM508 474h1v1h-1zM509 473h1v1h-1zM510 473h1v1h-1zM511 473h1v1h-1zM512 473h1v1h-1zM513 473h1v1h-1zM513 474h1v1h-1zM514 473h1v1h-1zM515 473h1v1h-1zM515 474h1v1h-1zM516 473h1v1h-1zM517 473h1v1h-1zM518 473h1v1h-1zM518 474h1v1h-1zM519 473h1v1h-1zM520 473h1v1h-1zM521 473h1v1h-1zM522 473h1v1h-1zM523 473h1v1h-1zM524 473h1v1h-1zM525 473h1v1h-1zM526 473h1v1h-1zM526 474h1v1h-1zM527 473h1v1h-1zM528 473h1v1h-1zM529 473h1v1h-1zM529 474h1v1h-1zM530 473h1v1h-1zM530 474h1v1h-1zM531 473h1v1h-1zM532 473h1v1h-1zM533 473h1v1h-1zM534 473h1v1h-1zM535 473h1v1h-1zM536 473h1v1h-1zM536 474h1v1h-1zM537 473h1v1h-1zM538 473h1v1h-1zM539 473h1v1h-1zM540 473h1v1h-1zM540 474h1v1h-1zM541 473h1v1h-1zM542 473h1v1h-1zM543 473h1v1h-1zM544 473h1v1h-1zM545 473h1v1h-1zM546 473h1v1h-1zM547 473h1v1h-1zM548 473h1v1h-1zM549 473h1v1h-1zM550 473h1v1h-1zM550 474h1v1h-1zM551 473h1v1h-1zM552 473h1v1h-1zM553 473h1v1h-1zM554 473h1v1h-1zM555 473h1v1h-1zM556 473h1v1h-1zM557 473h1v1h-1zM558 473h1v1h-1zM558 474h1v1h-1zM559 473h1v1h-1zM560 473h1v1h-1zM561 473h1v1h-1zM562 473h1v1h-1zM563 473h1v1h-1zM564 473h1v1h-1zM565 473h1v1h-1zM565 474h1v1h-1zM566 473h1v1h-1zM567 473h1v1h-1zM568 473h1v1h-1zM569 473h1v1h-1zM569 474h1v1h-1zM570 473h1v1h-1zM571 473h1v1h-1zM572 473h1v1h-1zM573 473h1v1h-1zM574 473h1v1h-1zM574 474h1v1h-1zM575 473h1v1h-1zM576 473h1v1h-1zM577 473h1v1h-1zM578 473h1v1h-1zM579 473h1v1h-1zM580 473h1v1h-1zM581 473h1v1h-1zM581 474h1v1h-1zM582 473h1v1h-1zM582 474h1v1h-1zM583 473h1v1h-1zM584 473h1v1h-1zM584 474h1v1h-1zM585 473h1v1h-1zM585 474h1v1h-1zM586 473h1v1h-1zM587 473h1v1h-1zM588 473h1v1h-1zM589 473h1v1h-1zM590 473h1v1h-1zM591 473h1v1h-1zM592 473h1v1h-1zM592 474h1v1h-1zM593 473h1v1h-1zM594 473h1v1h-1zM595 473h1v1h-1zM596 473h1v1h-1zM596 474h1v1h-1zM597 473h1v1h-1zM598 473h1v1h-1zM599 473h1v1h-1zM599 474h1v1h-1zM600 473h1v1h-1zM601 473h1v1h-1zM602 473h1v1h-1zM603 473h1v1h-1zM604 473h1v1h-1zM605 473h1v1h-1zM606 473h1v1h-1zM607 473h1v1h-1zM608 473h1v1h-1zM609 473h1v1h-1zM610 473h1v1h-1zM611 473h1v1h-1zM612 473h1v1h-1zM612 474h1v1h-1zM613 473h1v1h-1zM614 473h1v1h-1zM615 473h1v1h-1zM616 473h1v1h-1zM616 474h1v1h-1zM617 473h1v1h-1zM618 473h1v1h-1zM619 473h1v1h-1zM620 473h1v1h-1zM620 474h1v1h-1zM621 473h1v1h-1zM622 473h1v1h-1zM623 473h1v1h-1zM624 473h1v1h-1zM625 473h1v1h-1zM626 473h1v1h-1zM626 474h1v1h-1zM627 473h1v1h-1zM628 473h1v1h-1zM629 473h1v1h-1zM629 474h1v1h-1zM630 473h1v1h-1zM631 473h1v1h-1zM632 473h1v1h-1zM633 473h1v1h-1zM633 474h1v1h-1zM634 473h1v1h-1zM634 474h1v1h-1zM635 473h1v1h-1zM636 473h1v1h-1zM637 473h1v1h-1zM638 473h1v1h-1zM639 473h1v1h-1zM640 473h1v1h-1zM641 473h1v1h-1zM642 473h1v1h-1zM642 474h1v1h-1zM643 473h1v1h-1zM644 473h1v1h-1zM645 473h1v1h-1zM646 473h1v1h-1zM647 473h1v1h-1zM648 473h1v1h-1zM649 473h1v1h-1zM650 473h1v1h-1zM651 473h1v1h-1zM652 473h1v1h-1zM653 473h1v1h-1zM654 473h1v1h-1zM655 473h1v1h-1zM656 473h1v1h-1zM656 474h1v1h-1zM657 473h1v1h-1zM658 473h1v1h-1zM659 473h1v1h-1zM660 473h1v1h-1zM661 473h1v1h-1zM661 474h1v1h-1zM662 473h1v1h-1zM663 473h1v1h-1zM664 473h1v1h-1zM665 473h1v1h-1zM666 473h1v1h-1zM666 474h1v1h-1zM667 473h1v1h-1zM668 473h1v1h-1zM669 473h1v1h-1zM670 473h1v1h-1zM671 473h1v1h-1zM672 473h1v1h-1zM672 474h1v1h-1zM673 473h1v1h-1zM674 473h1v1h-1zM674 474h1v1h-1zM675 473h1v1h-1zM675 474h1v1h-1zM676 473h1v1h-1zM677 473h1v1h-1zM677 474h1v1h-1zM678 473h1v1h-1zM679 473h1v1h-1zM680 473h1v1h-1zM681 473h1v1h-1zM682 473h1v1h-1zM683 473h1v1h-1zM684 473h1v1h-1zM685 473h1v1h-1zM686 473h1v1h-1zM687 473h1v1h-1zM688 473h1v1h-1zM689 473h1v1h-1zM690 473h1v1h-1zM691 473h1v1h-1zM692 473h1v1h-1zM693 473h1v1h-1zM694 473h1v1h-1zM695 473h1v1h-1zM696 473h1v1h-1zM696 474h1v1h-1zM697 473h1v1h-1zM697 474h1v1h-1zM698 473h1v1h-1zM699 473h1v1h-1zM699 474h1v1h-1zM700 473h1v1h-1zM701 473h1v1h-1zM702 473h1v1h-1zM703 473h1v1h-1zM704 473h1v1h-1zM705 473h1v1h-1zM706 473h1v1h-1zM706 474h1v1h-1zM707 473h1v1h-1zM708 473h1v1h-1zM709 473h1v1h-1zM710 473h1v1h-1zM711 473h1v1h-1zM711 474h1v1h-1zM712 473h1v1h-1zM712 474h1v1h-1zM713 473h1v1h-1zM714 473h1v1h-1zM715 473h1v1h-1zM716 473h1v1h-1zM717 473h1v1h-1zM718 473h1v1h-1zM719 473h1v1h-1zM720 473h1v1h-1zM721 473h1v1h-1zM722 473h1v1h-1zM723 473h1v1h-1zM723 474h1v1h-1zM724 473h1v1h-1zM724 474h1v1h-1zM725 473h1v1h-1zM726 473h1v1h-1zM727 473h1v1h-1zM727 474h1v1h-1zM728 473h1v1h-1zM729 473h1v1h-1zM729 474h1v1h-1zM730 473h1v1h-1zM731 473h1v1h-1zM731 474h1v1h-1zM732 473h1v1h-1zM733 473h1v1h-1zM734 473h1v1h-1zM734 474h1v1h-1zM735 473h1v1h-1zM735 474h1v1h-1zM736 473h1v1h-1zM737 473h1v1h-1zM737 474h1v1h-1zM738 473h1v1h-1zM739 473h1v1h-1zM740 473h1v1h-1zM741 473h1v1h-1zM742 473h1v1h-1zM743 473h1v1h-1zM744 473h1v1h-1zM745 473h1v1h-1zM745 474h1v1h-1zM746 473h1v1h-1zM747 473h1v1h-1zM748 473h1v1h-1zM749 473h1v1h-1zM750 473h1v1h-1zM751 473h1v1h-1zM752 473h1v1h-1zM753 473h1v1h-1zM753 474h1v1h-1zM754 473h1v1h-1zM755 473h1v1h-1zM756 473h1v1h-1zM757 473h1v1h-1zM758 473h1v1h-1zM759 473h1v1h-1zM760 473h1v1h-1zM761 473h1v1h-1zM761 474h1v1h-1zM762 473h1v1h-1zM763 473h1v1h-1zM763 474h1v1h-1zM764 473h1v1h-1zM765 473h1v1h-1zM765 474h1v1h-1zM766 473h1v1h-1zM766 474h1v1h-1zM767 473h1v1h-1zM768 473h1v1h-1zM768 474h1v1h-1zM769 473h1v1h-1zM770 473h1v1h-1zM771 473h1v1h-1zM772 473h1v1h-1zM772 474h1v1h-1zM773 473h1v1h-1zM774 473h1v1h-1zM774 474h1v1h-1zM775 473h1v1h-1zM776 473h1v1h-1zM777 473h1v1h-1zM778 473h1v1h-1zM779 473h1v1h-1zM780 473h1v1h-1zM781 473h1v1h-1zM782 473h1v1h-1zM783 473h1v1h-1zM783 474h1v1h-1zM784 473h1v1h-1zM785 473h1v1h-1zM785 474h1v1h-1zM786 473h1v1h-1zM787 473h1v1h-1zM787 474h1v1h-1zM788 473h1v1h-1z" fill="#00ff00"/><text x="0" y="361.5" font-size="10" fill="#ff0080" transform="matrix(0.8409 0 0 1 4.473 0)" filter="url(#k)">C2</text><text x="0" y="360.5" font-size="10" fill="#0000ff" transform="matrix(0.8364 0 0 1 4.475 0)" filter="url(#k)">C3</text><text x="0" y="359.5" font-size="10" fill="#aca800" transform="matrix(0.8399 0 0 1 4.473 0)" filter="url(#k)">C1</text><path d="M7 362h10v2h-10z" fill="#aca800"/><path d="M7 364h10v1h-10z" fill="#0000ff"/><path d="M7 365h10v1h-10z M7 366h1v1h-1z" fill="#ff0080"/><text x="0" y="471.5" font-size="10" fill="#00ff00" transform="matrix(0.9272 0 0 1 4.379 0)" filter="url(#k)">C4</text><path d="M7 474h10v2h-10z M7 476h1v1h-1z" fill="#00ff00"/><path d="M790 273h2v1h-2z M792 272h2v3h-2z M794 271h2v5h-2z M796 270h2v7h-2z" fill="#aca800"/><path d="M259 476h1v2h-1z M258 478h3v2h-3z M257 480h5v2h-5z M256 482h7v2h-7z" fill="#aca800"/><text x="601.375 608.000 610.125" y="214" font-size="10.5" fill="#000" filter="url(#k)">VIN</text><path d="M601 216h18v1h-18z" fill="#000"/><line x1="611" y1="216.5" x2="632" y2="232" stroke="#000" stroke-width="1" shape-rendering="crispEdges"/><text x="378.125 386.375 393.125 399.125" y="325" font-size="10.5" fill="#000" filter="url(#k)">GATE</text><path d="M379 327h29v1h-29z" fill="#000"/><line x1="394" y1="327.5" x2="421" y2="343" stroke="#000" stroke-width="1" shape-rendering="crispEdges"/><text x="486.125 491.000 493.125 500.125" y="280" font-size="10.5" fill="#000" filter="url(#k)">TINR</text><path d="M486 282h23v1h-23z" fill="#000"/><line x1="499" y1="282.5" x2="523" y2="297" stroke="#000" stroke-width="1" shape-rendering="crispEdges"/><text x="420.000 422.000 424.125" y="429" font-size="10.5" fill="#000" filter="url(#k)">IIN</text><path d="M421 431h12v1h-12z" fill="#000"/><line x1="428" y1="431.5" x2="446" y2="446" stroke="#000" stroke-width="1" shape-rendering="crispEdges"/><text x="5.375 15.375 21.625 28.375 35.375 43.125 47.375" y="498" font-size="12" fill="#000" font-weight="bold" filter="url(#k)">Measure</text><text x="5.000 11.125 18.125 20.125 27.375" y="514" font-size="12" fill="#000" filter="url(#k)">value</text><text x="5.125 12.000 15.125 22.000 26.125 33.125" y="530" font-size="12" fill="#000" filter="url(#k)">status</text><text x="155.000 164.000 170.625 174.000 184.375 191.125 198.125 205.000 209.000 218.000 225.000" y="498" font-size="12" fill="#000" filter="url(#k)">P1:mean(C1)</text><text x="186.625 193.625 197.000 204.000 210.375 216.764 220.125" y="514" font-size="12" fill="#000" filter="url(#k)">8.119 V</text><path d="M217.0 525 h2 l1.5 2 l4.5 -5.5 h1.8 v1.7 l-5.8 6.8 h-1.6 l-2.4 -3.2z" fill="#4a4a4a" stroke="#1a1a1a" stroke-width="0.6"/><text x="269.000 276.625 283.625 287.000 297.375 304.125 311.125 318.000 323.000 331.625 338.000" y="498" font-size="12" fill="#000" filter="url(#k)">P2:mean(C2)</text><text x="290.625 296.625 304.000 310.625 314.000 320.248 324.000 333.125" y="514" font-size="12" fill="#000" filter="url(#k)">336.0 mV</text><path d="M330.5 525 h2 l1.5 2 l4.5 -5.5 h1.8 v1.7 l-5.8 6.8 h-1.6 l-2.4 -3.2z" fill="#4a4a4a" stroke="#1a1a1a" stroke-width="0.6"/><text x="382.000 389.625 396.625 400.000 410.375 417.125 424.125 431.000 435.000 444.625 451.000" y="498" font-size="12" fill="#000" filter="url(#k)">P3:mean(C3)</text><text x="413.625 419.375 426.000 433.048 436.000 446.125" y="514" font-size="12" fill="#000" filter="url(#k)">291 mV</text><path d="M443.25 525 h2 l1.5 2 l4.5 -5.5 h1.8 v1.7 l-5.8 6.8 h-1.6 l-2.4 -3.2z" fill="#4a4a4a" stroke="#1a1a1a" stroke-width="0.6"/><text x="531.000 538.625 545.625 548.375 552.366 555.375 559.367 562.375" y="498" font-size="12" fill="#000" filter="url(#k)">P4:- - -</text><text x="644.000 651.000 658.625 661.375 665.438 668.375 672.725 676.375" y="498" font-size="12" fill="#000" filter="url(#k)">P5:- - -</text><text x="757.000 764.000 771.625 774.375 778.438 781.375 785.725 789.375" y="498" font-size="12" fill="#000" filter="url(#k)">P6:- - -</text><path d="M6 535H99l1 1v43l-1 1H6l-2 -2V537z" fill="#6c64a8"/><path d="M6 535h93v1h-93z M4 537h1v42h-1z M5 536h1v1h-1z" fill="#8e87c6"/><path d="M100 537h1v43h-1z M6 580h95v1h-95z" fill="#231c52"/><path d="M7 537H98l1 1v11l-1 1H7l-1 -1V538z" fill="#aca600"/><text x="7.000 14.000" y="547" font-size="12" fill="#000" filter="url(#k)">C1</text><path d="M31 538H37l2 2v7l-2 2H31l-2 -2v-7z" fill="#000"/><text x="31.000" y="547" font-size="11" fill="#aca600" filter="url(#k)">F</text><path d="M42 538H62l2 2v7l-2 2H42l-2 -2v-7z" fill="#000"/><text x="42.000 48.625 56.000" y="547" font-size="11" fill="#aca600" filter="url(#k)">BwL</text><path d="M66.5 538H97l2 2v7l-2 2H66.5l-2 -2v-7z" fill="#000"/><text x="67.000 74.125 81.125 87.125" y="547" font-size="11" fill="#aca600" filter="url(#k)">DC1M</text><clipPath id="cb4"><rect x="5" y="550" width="95" height="30"/></clipPath><g clip-path="url(#cb4)"><text x="47.000 53.625 57.000 63.000 69.477 72.125 80.000 83.125 90.125 92.000" y="562.0" font-size="12" fill="#fff" filter="url(#k)">5.00 V/div</text><text x="30.375 34.375 40.625 44.625 51.000 58.000 64.233 67.125 75.585 79.375 86.000 89.125 95.000" y="577.0" font-size="12" fill="#fff" filter="url(#k)">-9.750 V ofst</text></g><path d="M106 535H199l1 1v43l-1 1H106l-2 -2V537z" fill="#ff0080"/><path d="M106 535h93v1h-93z M104 537h1v42h-1z M105 536h1v1h-1z" fill="#161634"/><path d="M200 537h1v43h-1z M106 580h95v1h-95z" fill="#231c52"/><path d="M107 537H198l1 1v11l-1 1H107l-1 -1V538z" fill="#ff0080"/><text x="108.000 116.625" y="548" font-size="12" fill="#000" filter="url(#k)">C2</text><path d="M131 539H137l2 2v7l-2 2H131l-2 -2v-7z" fill="#000"/><text x="131.000" y="548" font-size="11" fill="#ff0080" filter="url(#k)">F</text><path d="M142 539H162l2 2v7l-2 2H142l-2 -2v-7z" fill="#000"/><text x="142.000 148.625 156.000" y="548" font-size="11" fill="#ff0080" filter="url(#k)">BwL</text><path d="M166.5 539H197l2 2v7l-2 2H166.5l-2 -2v-7z" fill="#000"/><text x="167.000 174.125 181.125 187.125" y="548" font-size="11" fill="#ff0080" filter="url(#k)">DC1M</text><clipPath id="cb104"><rect x="105" y="550" width="95" height="30"/></clipPath><g clip-path="url(#cb104)"><text x="148.000 154.625 158.000 165.000 171.636 175.125 183.000 186.125 193.125 196.000" y="563.5" font-size="12" fill="#000" filter="url(#k)">1.00 V/div</text><text x="147.375 151.000 157.625 161.375 168.375 175.000 181.000 187.965 191.125" y="576.5" font-size="12" fill="#000" filter="url(#k)">-1.9900 V</text></g><path d="M206 535H299l1 1v43l-1 1H206l-2 -2V537z" fill="#6c64a8"/><path d="M206 535h93v1h-93z M204 537h1v42h-1z M205 536h1v1h-1z" fill="#8e87c6"/><path d="M300 537h1v43h-1z M206 580h95v1h-95z" fill="#231c52"/><path d="M207 537H298l1 1v11l-1 1H207l-1 -1V538z" fill="#0000ff"/><text x="207.000 215.625" y="547" font-size="12" fill="#000000" filter="url(#k)">C3</text><path d="M231 538H237l2 2v7l-2 2H231l-2 -2v-7z" fill="#000"/><text x="231.000" y="547" font-size="11" fill="#0000ff" filter="url(#k)">F</text><path d="M242 538H262l2 2v7l-2 2H242l-2 -2v-7z" fill="#000"/><text x="242.000 248.625 256.000" y="547" font-size="11" fill="#0000ff" filter="url(#k)">BwL</text><path d="M266.5 538H297l2 2v7l-2 2H266.5l-2 -2v-7z" fill="#000"/><text x="267.000 274.125 281.125 287.125" y="547" font-size="11" fill="#0000ff" filter="url(#k)">DC1M</text><clipPath id="cb204"><rect x="205" y="550" width="95" height="30"/></clipPath><g clip-path="url(#cb204)"><text x="247.000 253.625 257.000 263.000 269.477 272.125 280.000 283.125 290.125 292.000" y="562.0" font-size="12" fill="#fff" filter="url(#k)">5.00 V/div</text><text x="230.375 234.375 240.625 244.625 251.000 258.000 264.233 267.125 275.585 279.375 286.000 289.125 295.000" y="577.0" font-size="12" fill="#fff" filter="url(#k)">-9.800 V ofst</text></g><path d="M306 535H399l1 1v43l-1 1H306l-2 -2V537z" fill="#6c64a8"/><path d="M306 535h93v1h-93z M304 537h1v42h-1z M305 536h1v1h-1z" fill="#8e87c6"/><path d="M400 537h1v43h-1z M306 580h95v1h-95z" fill="#231c52"/><path d="M307 537H398l1 1v11l-1 1H307l-1 -1V538z" fill="#00ff00"/><text x="307.000 315.625" y="547" font-size="12" fill="#000" filter="url(#k)">C4</text><path d="M346 538H352l2 2v7l-2 2H346l-2 -2v-7z" fill="#000"/><text x="346.000" y="547" font-size="11" fill="#00ff00" filter="url(#k)">F</text><path d="M357 538H377l2 2v7l-2 2H357l-2 -2v-7z" fill="#000"/><text x="357.000 363.625 371.000" y="547" font-size="11" fill="#00ff00" filter="url(#k)">BwL</text><path d="M381.5 538H397l2 2v7l-2 2H381.5l-2 -2v-7z" fill="#000"/><text x="382.000 388.125" y="547" font-size="11" fill="#00ff00" filter="url(#k)">DC</text><clipPath id="cb304"><rect x="305" y="550" width="95" height="30"/></clipPath><g clip-path="url(#cb304)"><text x="347.000 353.000 359.625 363.000 369.236 372.625 380.000 383.125 390.125 392.000" y="562.0" font-size="12" fill="#fff" filter="url(#k)">10.0 A/div</text><text x="346.375 350.625 357.375 363.625 367.375 374.000 380.000 386.908 390.625" y="577.0" font-size="12" fill="#fff" filter="url(#k)">-39.900 A</text></g><path d="M585 535H693l1 1v43l-1 1H585l-2 -2V537z" fill="#6c64a8"/><path d="M585 535h108v1h-108z M583 537h1v42h-1z M584 536h1v1h-1z" fill="#8e87c6"/><path d="M694 537h1v43h-1z M585 580h110v1h-110z" fill="#231c52"/><path d="M586 537H692l1 1v11l-1 1H586l-1 -1V538z" fill="#c8c8c8"/><text x="586.625 594.125 600.125 607.125 613.375" y="547" font-size="12" fill="#000" filter="url(#k)">Tbase</text><text x="645.375 649.625 656.625 660.625 666.625 673.951 678.000 688.125" y="547" font-size="12" fill="#000" filter="url(#k)">-3.72 ms</text><text x="631.625 638.625 642.000 649.000 655.526 659.000 669.125 675.000 678.125 685.125 688.000" y="562" font-size="12" fill="#fff" filter="url(#k)">2.00 ms/div</text><text x="587.000 593.000 600.000 606.494 610.125 615.375" y="577" font-size="12" fill="#fff" filter="url(#k)">500 kS</text><text x="649.625 656.000 662.335 666.000 675.375 683.000 687.125" y="577" font-size="12" fill="#fff" filter="url(#k)">25 MS/s</text><path d="M700 535H793l1 1v43l-1 1H700l-2 -2V537z" fill="#6c64a8"/><path d="M700 535h93v1h-93z M698 537h1v42h-1z M699 536h1v1h-1z" fill="#8e87c6"/><path d="M794 537h1v43h-1z M700 580h95v1h-95z" fill="#231c52"/><path d="M701 537H792l1 1v11l-1 1H701l-1 -1V538z" fill="#c8c8c8"/><text x="701.625 709.125 713.125 716.125 722.125 729.375 736.125" y="547" font-size="12" fill="#000" filter="url(#k)">Trigger</text><path d="M757 538H770l2 2v7l-2 2H757l-2 -2v-7z" fill="#000"/><text x="757.125 763.125" y="547" font-size="11" fill="#fff" filter="url(#k)">C1</text><path d="M775 538H790l2 2v7l-2 2H775l-2 -2v-7z" fill="#000"/><text x="774.000 782.125" y="547" font-size="11" fill="#fff" filter="url(#k)">DC</text><text x="701.375 709.000 712.375 719.125" y="562.6" font-size="12" fill="#fff" filter="url(#k)">Stop</text><text x="758.625 765.625 769.000 775.000 781.779 785.125" y="562.6" font-size="12" fill="#fff" filter="url(#k)">8.15 V</text><text x="701.000 709.125 716.125 723.375" y="577" font-size="12" fill="#fff" filter="url(#k)">Edge</text><text x="751.000 758.375 765.125 772.125 774.000 778.125 781.000 786.375" y="577" font-size="12" fill="#fff" filter="url(#k)">Positive</text><rect x="9" y="583" width="58" height="17" fill="#f5f5f5"/><text x="8.99" y="596" font-size="16" fill="#404040" letter-spacing="0.233" stroke="#404040" stroke-width="0.35" filter="url(#k)">LeCroy</text><rect x="10" y="597" width="43" height="2" fill="#404040"/><text x="665.625 672.000 675.625 682.000 689.000 692.625 699.000 706.000 713.000 719.301 722.625 729.625 732.625 739.375 746.625 750.000 756.625 763.135 767.000 775.000" y="596" font-size="12" fill="#000" filter="url(#k)">2/26/2015 2:39:58 PM</text></svg>
</body></html>
